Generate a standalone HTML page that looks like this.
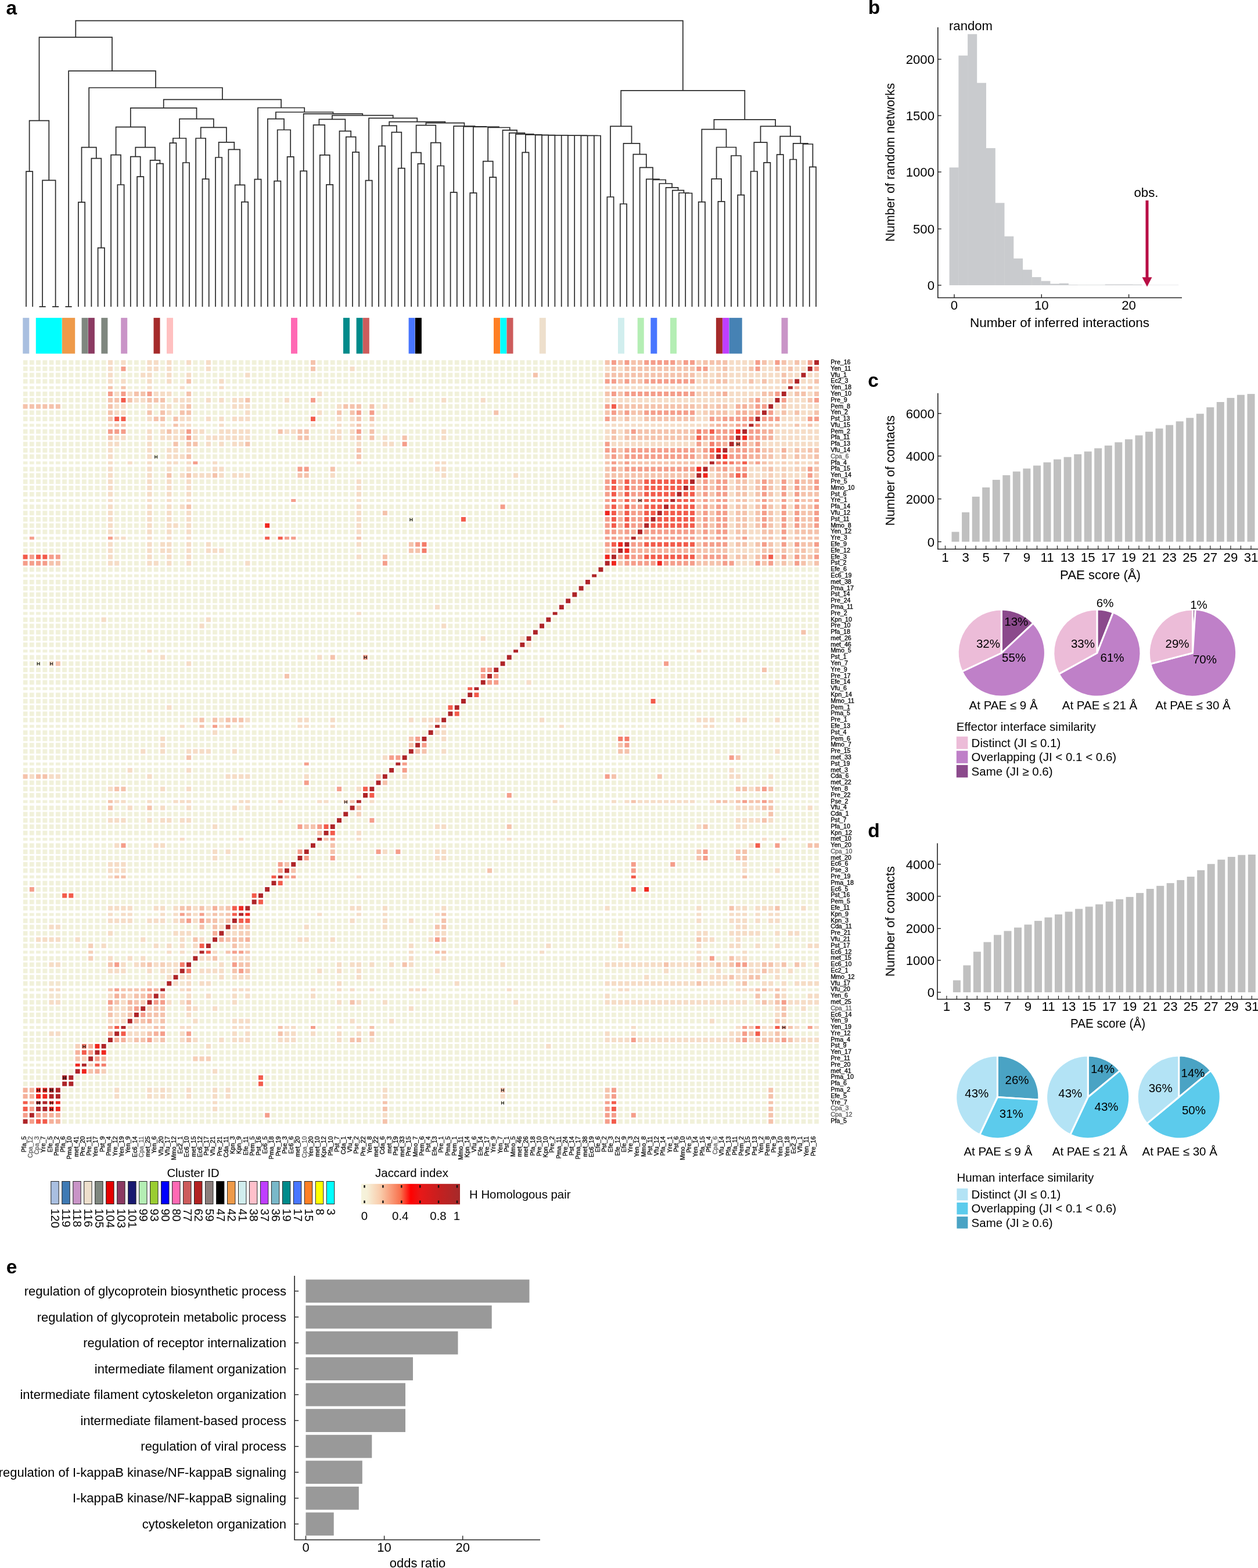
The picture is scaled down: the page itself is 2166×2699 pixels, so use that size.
<!DOCTYPE html>
<html><head><meta charset="utf-8"><title>Figure</title>
<style>html,body{margin:0;padding:0;background:#fff}svg{display:block}</style></head>
<body><svg width="2166" height="2699" viewBox="0 0 2166 2699" font-family="Liberation Sans, Arial, sans-serif"><path d="M45.0 527.9V295.1H56.2V527.9M67.5 527.9V527.9H78.7V527.9M90.0 527.9V527.9H101.2V527.9M73.1 527.9V310.3H95.6V527.9M50.6 295.1V207.7H84.3V310.3M112.4 527.9V527.9H123.7V527.9M134.9 527.9V348.2H146.2V527.9M168.6 527.9V426.6H179.9V527.9M157.4 527.9V272.6H174.3V426.6M140.5 348.2V253.6H165.8V272.6M202.4 527.9V318.0H213.6V527.9M191.1 527.9V266.6H208.0V318.0M236.1 527.9V304.2H247.3V527.9M224.8 527.9V269.7H241.7V304.2M269.8 527.9V281.6H281.0V527.9M258.6 527.9V275.9H275.4V281.6M233.3 269.7V253.6H267.0V275.9M199.6 266.6V218.6H250.1V253.6M292.3 527.9V246.1H303.5V527.9M314.8 527.9V280.0H326.0V527.9M297.9 246.1V238.0H320.4V280.0M348.5 527.9V308.2H359.7V527.9M337.2 527.9V238.0H354.1V308.2M371.0 527.9V271.0H382.2V527.9M415.9 527.9V347.6H427.2V527.9M404.7 527.9V318.4H421.5V347.6M393.4 527.9V257.3H413.1V318.4M376.6 271.0V244.9H403.3V257.3M345.7 238.0V219.4H389.9V244.9M309.1 238.0V204.7H367.8V219.4M224.8 218.6V185.8H338.5V204.7M438.4 527.9V308.6H449.6V527.9M472.1 527.9V311.6H483.4V527.9M494.6 527.9V269.8H505.8V527.9M477.7 311.6V223.5H500.2V269.8M460.9 527.9V204.7H489.0V223.5M517.1 527.9V294.4H528.3V527.9M562.0 527.9V317.9H573.3V527.9M550.8 527.9V266.8H567.7V317.9M539.6 527.9V215.1H559.2V266.8M607.0 527.9V261.8H618.2V527.9M595.8 527.9V235.6H612.6V261.8M584.5 527.9V225.6H604.2V235.6M549.4 215.1V205.4H594.4V225.6M629.5 527.9V310.6H640.7V527.9M652.0 527.9V251.3H663.2V527.9M685.7 527.9V289.7H696.9V527.9M674.4 527.9V227.6H691.3V289.7M657.6 251.3V216.4H682.9V227.6M719.4 527.9V281.9H730.6V527.9M708.2 527.9V262.7H725.0V281.9M753.1 527.9V285.5H764.4V527.9M741.9 527.9V245.6H758.7V285.5M716.6 262.7V215.6H750.3V245.6M775.6 527.9V331.2H786.8V527.9M809.3 527.9V332.1H820.6V527.9M843.0 527.9V305.2H854.3V527.9M831.8 527.9V277.6H848.7V305.2M899.2 527.9V262.4H910.5V527.9M1022.9 527.9V233.5H1034.1V527.9M1011.6 527.9V233.4H1028.5V233.5M1000.4 527.9V233.3H1020.1V233.4M989.2 527.9V233.2H1010.2V233.3M977.9 527.9V233.1H999.7V233.2M966.7 527.9V233.0H988.8V233.1M955.4 527.9V232.9H977.7V233.0M944.2 527.9V232.8H966.6V232.9M933.0 527.9V232.6H955.4V232.8M921.7 527.9V232.3H944.2V232.6M904.9 262.4V231.9H932.9V232.3M888.0 527.9V230.9H918.9V231.9M876.8 527.9V228.9H903.5V230.9M865.5 527.9V224.2H890.1V228.9M840.2 277.6V219.5H877.8V224.2M814.9 332.1V218.4H859.0V219.5M798.1 527.9V217.9H837.0V218.4M781.2 331.2V217.2H817.5V217.9M733.4 215.6V211.7H799.4V217.2M670.2 216.4V209.6H766.4V211.7M635.1 310.6V203.4H718.3V209.6M571.9 205.4V198.7H676.7V203.4M522.7 294.4V195.9H624.3V198.7M474.9 204.7V193.0H573.5V195.9M444.0 308.6V185.5H524.2V193.0M281.7 185.8V171.4H484.1V185.5M153.2 253.6V151.0H382.9V171.4M118.1 527.9V122.1H268.0V151.0M67.5 207.7V64.2H193.0V122.1M1045.4 527.9V339.0H1056.6V527.9M1067.8 527.9V351.0H1079.1V527.9M1180.2 527.9V332.5H1191.5V527.9M1169.0 527.9V332.0H1185.9V332.5M1157.8 527.9V327.6H1177.4V332.0M1146.5 527.9V322.8H1167.6V327.6M1135.3 527.9V316.0H1157.1V322.8M1124.0 527.9V309.5H1146.2V316.0M1112.8 527.9V308.3H1135.1V309.5M1101.6 527.9V288.3H1124.0V308.3M1090.3 527.9V265.6H1112.8V288.3M1073.5 351.0V246.8H1101.5V265.6M1051.0 339.0V217.3H1087.5V246.8M1202.7 527.9V347.6H1214.0V527.9M1236.4 527.9V346.9H1247.7V527.9M1225.2 527.9V307.8H1242.1V346.9M1270.2 527.9V335.6H1281.4V527.9M1258.9 527.9V268.0H1275.8V335.6M1233.6 307.8V253.5H1267.4V268.0M1208.3 347.6V222.7H1250.5V253.5M1292.6 527.9V295.0H1303.9V527.9M1315.1 527.9V279.8H1326.4V527.9M1298.3 295.0V245.1H1320.7V279.8M1337.6 527.9V266.1H1348.8V527.9M1360.1 527.9V274.5H1371.3V527.9M1393.8 527.9V287.3H1405.0V527.9M1382.6 527.9V248.0H1399.4V287.3M1365.7 274.5V246.8H1391.0V248.0M1343.2 266.1V234.7H1378.3V246.8M1309.5 245.1V217.3H1360.8V234.7M1229.4 222.7V205.8H1335.1V217.3M1069.2 217.3V155.8H1282.3V205.8M130.3 64.2V35.7H1175.8V155.8" fill="none" stroke="#2a2a2a" stroke-width="1.7"/><rect x="39.3" y="547.1" width="11.0" height="61.6" fill="#a9bfe0"/><rect x="61.8" y="547.1" width="44.8" height="61.6" fill="#00ffff"/><rect x="106.9" y="547.1" width="22.3" height="61.6" fill="#ee9a49"/><rect x="140.6" y="547.1" width="11.0" height="61.6" fill="#7f877f"/><rect x="151.9" y="547.1" width="11.0" height="61.6" fill="#8b3a62"/><rect x="174.4" y="547.1" width="11.0" height="61.6" fill="#7f877f"/><rect x="208.2" y="547.1" width="11.0" height="61.6" fill="#c994c7"/><rect x="264.5" y="547.1" width="11.0" height="61.6" fill="#a52a2a"/><rect x="287.0" y="547.1" width="11.0" height="61.6" fill="#ffc0c0"/><rect x="501.0" y="547.1" width="11.0" height="61.6" fill="#ff69b4"/><rect x="591.0" y="547.1" width="11.0" height="61.6" fill="#008b8b"/><rect x="613.6" y="547.1" width="11.0" height="61.6" fill="#008b8b"/><rect x="624.8" y="547.1" width="11.0" height="61.6" fill="#cd5c5c"/><rect x="703.6" y="547.1" width="11.0" height="61.6" fill="#4876ff"/><rect x="714.9" y="547.1" width="11.0" height="61.6" fill="#000000"/><rect x="850.0" y="547.1" width="11.0" height="61.6" fill="#ff7f24"/><rect x="861.3" y="547.1" width="11.0" height="61.6" fill="#00ffff"/><rect x="872.5" y="547.1" width="11.0" height="61.6" fill="#cd5c5c"/><rect x="928.8" y="547.1" width="11.0" height="61.6" fill="#eedfcc"/><rect x="1064.0" y="547.1" width="11.0" height="61.6" fill="#d1eeee"/><rect x="1097.7" y="547.1" width="11.0" height="61.6" fill="#b4eeb4"/><rect x="1120.3" y="547.1" width="11.0" height="61.6" fill="#4876ff"/><rect x="1154.0" y="547.1" width="11.0" height="61.6" fill="#b4eeb4"/><rect x="1232.9" y="547.1" width="11.0" height="61.6" fill="#a52a2a"/><rect x="1244.1" y="547.1" width="11.0" height="61.6" fill="#bf3eff"/><rect x="1255.4" y="547.1" width="22.3" height="61.6" fill="#4682b4"/><rect x="1345.5" y="547.1" width="11.0" height="61.6" fill="#c994c7"/><defs><pattern id="hp" x="39.60" y="0" width="11.26" height="2699" patternUnits="userSpaceOnUse"><rect width="7.9" height="2699" fill="#f1f1da"/></pattern></defs><rect x="39.60" y="620.10" width="1370.4" height="7.8" fill="url(#hp)"/><rect x="39.60" y="630.90" width="1370.4" height="7.8" fill="url(#hp)"/><rect x="39.60" y="641.69" width="1370.4" height="7.8" fill="url(#hp)"/><rect x="39.60" y="652.49" width="1370.4" height="7.8" fill="url(#hp)"/><rect x="39.60" y="664.69" width="1370.4" height="5.0" fill="url(#hp)"/><rect x="39.60" y="674.09" width="1370.4" height="7.8" fill="url(#hp)"/><rect x="39.60" y="684.88" width="1370.4" height="7.8" fill="url(#hp)"/><rect x="39.60" y="695.68" width="1370.4" height="7.8" fill="url(#hp)"/><rect x="39.60" y="706.48" width="1370.4" height="7.8" fill="url(#hp)"/><rect x="39.60" y="717.27" width="1370.4" height="7.8" fill="url(#hp)"/><rect x="39.60" y="729.47" width="1370.4" height="5.0" fill="url(#hp)"/><rect x="39.60" y="738.87" width="1370.4" height="7.8" fill="url(#hp)"/><rect x="39.60" y="749.66" width="1370.4" height="7.8" fill="url(#hp)"/><rect x="39.60" y="760.46" width="1370.4" height="7.8" fill="url(#hp)"/><rect x="39.60" y="771.26" width="1370.4" height="7.8" fill="url(#hp)"/><rect x="39.60" y="782.06" width="1370.4" height="7.8" fill="url(#hp)"/><rect x="39.60" y="794.25" width="1370.4" height="5.0" fill="url(#hp)"/><rect x="39.60" y="803.65" width="1370.4" height="7.8" fill="url(#hp)"/><rect x="39.60" y="814.45" width="1370.4" height="7.8" fill="url(#hp)"/><rect x="39.60" y="825.24" width="1370.4" height="7.8" fill="url(#hp)"/><rect x="39.60" y="836.04" width="1370.4" height="7.8" fill="url(#hp)"/><rect x="39.60" y="846.84" width="1370.4" height="7.8" fill="url(#hp)"/><rect x="39.60" y="859.03" width="1370.4" height="5.0" fill="url(#hp)"/><rect x="39.60" y="868.43" width="1370.4" height="7.8" fill="url(#hp)"/><rect x="39.60" y="879.23" width="1370.4" height="7.8" fill="url(#hp)"/><rect x="39.60" y="890.02" width="1370.4" height="7.8" fill="url(#hp)"/><rect x="39.60" y="900.82" width="1370.4" height="7.8" fill="url(#hp)"/><rect x="39.60" y="911.62" width="1370.4" height="7.8" fill="url(#hp)"/><rect x="39.60" y="923.82" width="1370.4" height="5.0" fill="url(#hp)"/><rect x="39.60" y="933.21" width="1370.4" height="7.8" fill="url(#hp)"/><rect x="39.60" y="944.01" width="1370.4" height="7.8" fill="url(#hp)"/><rect x="39.60" y="954.81" width="1370.4" height="7.8" fill="url(#hp)"/><rect x="39.60" y="965.60" width="1370.4" height="7.8" fill="url(#hp)"/><rect x="39.60" y="976.40" width="1370.4" height="7.8" fill="url(#hp)"/><rect x="39.60" y="988.60" width="1370.4" height="5.0" fill="url(#hp)"/><rect x="39.60" y="998.00" width="1370.4" height="7.8" fill="url(#hp)"/><rect x="39.60" y="1008.79" width="1370.4" height="7.8" fill="url(#hp)"/><rect x="39.60" y="1019.59" width="1370.4" height="7.8" fill="url(#hp)"/><rect x="39.60" y="1030.39" width="1370.4" height="7.8" fill="url(#hp)"/><rect x="39.60" y="1041.18" width="1370.4" height="7.8" fill="url(#hp)"/><rect x="39.60" y="1053.38" width="1370.4" height="5.0" fill="url(#hp)"/><rect x="39.60" y="1062.78" width="1370.4" height="7.8" fill="url(#hp)"/><rect x="39.60" y="1073.57" width="1370.4" height="7.8" fill="url(#hp)"/><rect x="39.60" y="1084.37" width="1370.4" height="7.8" fill="url(#hp)"/><rect x="39.60" y="1095.17" width="1370.4" height="7.8" fill="url(#hp)"/><rect x="39.60" y="1105.96" width="1370.4" height="7.8" fill="url(#hp)"/><rect x="39.60" y="1118.16" width="1370.4" height="5.0" fill="url(#hp)"/><rect x="39.60" y="1127.56" width="1370.4" height="7.8" fill="url(#hp)"/><rect x="39.60" y="1138.36" width="1370.4" height="7.8" fill="url(#hp)"/><rect x="39.60" y="1149.15" width="1370.4" height="7.8" fill="url(#hp)"/><rect x="39.60" y="1159.95" width="1370.4" height="7.8" fill="url(#hp)"/><rect x="39.60" y="1170.75" width="1370.4" height="7.8" fill="url(#hp)"/><rect x="39.60" y="1182.94" width="1370.4" height="5.0" fill="url(#hp)"/><rect x="39.60" y="1192.34" width="1370.4" height="7.8" fill="url(#hp)"/><rect x="39.60" y="1203.14" width="1370.4" height="7.8" fill="url(#hp)"/><rect x="39.60" y="1213.93" width="1370.4" height="7.8" fill="url(#hp)"/><rect x="39.60" y="1224.73" width="1370.4" height="7.8" fill="url(#hp)"/><rect x="39.60" y="1235.53" width="1370.4" height="7.8" fill="url(#hp)"/><rect x="39.60" y="1247.73" width="1370.4" height="5.0" fill="url(#hp)"/><rect x="39.60" y="1257.12" width="1370.4" height="7.8" fill="url(#hp)"/><rect x="39.60" y="1267.92" width="1370.4" height="7.8" fill="url(#hp)"/><rect x="39.60" y="1278.72" width="1370.4" height="7.8" fill="url(#hp)"/><rect x="39.60" y="1289.51" width="1370.4" height="7.8" fill="url(#hp)"/><rect x="39.60" y="1300.31" width="1370.4" height="7.8" fill="url(#hp)"/><rect x="39.60" y="1312.51" width="1370.4" height="5.0" fill="url(#hp)"/><rect x="39.60" y="1321.90" width="1370.4" height="7.8" fill="url(#hp)"/><rect x="39.60" y="1332.70" width="1370.4" height="7.8" fill="url(#hp)"/><rect x="39.60" y="1343.50" width="1370.4" height="7.8" fill="url(#hp)"/><rect x="39.60" y="1354.30" width="1370.4" height="7.8" fill="url(#hp)"/><rect x="39.60" y="1365.09" width="1370.4" height="7.8" fill="url(#hp)"/><rect x="39.60" y="1377.29" width="1370.4" height="5.0" fill="url(#hp)"/><rect x="39.60" y="1386.69" width="1370.4" height="7.8" fill="url(#hp)"/><rect x="39.60" y="1397.48" width="1370.4" height="7.8" fill="url(#hp)"/><rect x="39.60" y="1408.28" width="1370.4" height="7.8" fill="url(#hp)"/><rect x="39.60" y="1419.08" width="1370.4" height="7.8" fill="url(#hp)"/><rect x="39.60" y="1429.88" width="1370.4" height="7.8" fill="url(#hp)"/><rect x="39.60" y="1442.07" width="1370.4" height="5.0" fill="url(#hp)"/><rect x="39.60" y="1451.47" width="1370.4" height="7.8" fill="url(#hp)"/><rect x="39.60" y="1462.27" width="1370.4" height="7.8" fill="url(#hp)"/><rect x="39.60" y="1473.06" width="1370.4" height="7.8" fill="url(#hp)"/><rect x="39.60" y="1483.86" width="1370.4" height="7.8" fill="url(#hp)"/><rect x="39.60" y="1494.66" width="1370.4" height="7.8" fill="url(#hp)"/><rect x="39.60" y="1506.85" width="1370.4" height="5.0" fill="url(#hp)"/><rect x="39.60" y="1516.25" width="1370.4" height="7.8" fill="url(#hp)"/><rect x="39.60" y="1527.05" width="1370.4" height="7.8" fill="url(#hp)"/><rect x="39.60" y="1537.84" width="1370.4" height="7.8" fill="url(#hp)"/><rect x="39.60" y="1548.64" width="1370.4" height="7.8" fill="url(#hp)"/><rect x="39.60" y="1559.44" width="1370.4" height="7.8" fill="url(#hp)"/><rect x="39.60" y="1571.64" width="1370.4" height="5.0" fill="url(#hp)"/><rect x="39.60" y="1581.03" width="1370.4" height="7.8" fill="url(#hp)"/><rect x="39.60" y="1591.83" width="1370.4" height="7.8" fill="url(#hp)"/><rect x="39.60" y="1602.63" width="1370.4" height="7.8" fill="url(#hp)"/><rect x="39.60" y="1613.42" width="1370.4" height="7.8" fill="url(#hp)"/><rect x="39.60" y="1624.22" width="1370.4" height="7.8" fill="url(#hp)"/><rect x="39.60" y="1636.42" width="1370.4" height="5.0" fill="url(#hp)"/><rect x="39.60" y="1645.82" width="1370.4" height="7.8" fill="url(#hp)"/><rect x="39.60" y="1656.61" width="1370.4" height="7.8" fill="url(#hp)"/><rect x="39.60" y="1667.41" width="1370.4" height="7.8" fill="url(#hp)"/><rect x="39.60" y="1678.21" width="1370.4" height="7.8" fill="url(#hp)"/><rect x="39.60" y="1689.00" width="1370.4" height="7.8" fill="url(#hp)"/><rect x="39.60" y="1701.20" width="1370.4" height="5.0" fill="url(#hp)"/><rect x="39.60" y="1710.60" width="1370.4" height="7.8" fill="url(#hp)"/><rect x="39.60" y="1721.39" width="1370.4" height="7.8" fill="url(#hp)"/><rect x="39.60" y="1732.19" width="1370.4" height="7.8" fill="url(#hp)"/><rect x="39.60" y="1742.99" width="1370.4" height="7.8" fill="url(#hp)"/><rect x="39.60" y="1753.79" width="1370.4" height="7.8" fill="url(#hp)"/><rect x="39.60" y="1765.98" width="1370.4" height="5.0" fill="url(#hp)"/><rect x="39.60" y="1775.38" width="1370.4" height="7.8" fill="url(#hp)"/><rect x="39.60" y="1786.18" width="1370.4" height="7.8" fill="url(#hp)"/><rect x="39.60" y="1796.97" width="1370.4" height="7.8" fill="url(#hp)"/><rect x="39.60" y="1807.77" width="1370.4" height="7.8" fill="url(#hp)"/><rect x="39.60" y="1818.57" width="1370.4" height="7.8" fill="url(#hp)"/><rect x="39.60" y="1830.76" width="1370.4" height="5.0" fill="url(#hp)"/><rect x="39.60" y="1840.16" width="1370.4" height="7.8" fill="url(#hp)"/><rect x="39.60" y="1850.96" width="1370.4" height="7.8" fill="url(#hp)"/><rect x="39.60" y="1861.75" width="1370.4" height="7.8" fill="url(#hp)"/><rect x="39.60" y="1872.55" width="1370.4" height="7.8" fill="url(#hp)"/><rect x="39.60" y="1883.35" width="1370.4" height="7.8" fill="url(#hp)"/><rect x="39.60" y="1895.55" width="1370.4" height="5.0" fill="url(#hp)"/><rect x="39.60" y="1904.94" width="1370.4" height="7.8" fill="url(#hp)"/><rect x="39.60" y="1915.74" width="1370.4" height="7.8" fill="url(#hp)"/><rect x="39.60" y="1926.54" width="1370.4" height="7.8" fill="url(#hp)"/><path fill="#f6dcc6" d="M186.0 620.1h7.9v7.8h-7.9zM208.5 620.1h7.9v7.8h-7.9zM253.5 620.1h7.9v7.8h-7.9zM264.8 620.1h7.9v7.8h-7.9zM287.3 620.1h7.9v7.8h-7.9zM321.1 620.1h7.9v7.8h-7.9zM354.9 620.1h7.9v7.8h-7.9zM1255.7 620.1h7.9v7.8h-7.9zM1266.9 620.1h7.9v7.8h-7.9zM1278.2 620.1h7.9v7.8h-7.9zM1289.5 620.1h7.9v7.8h-7.9zM1323.2 620.1h7.9v7.8h-7.9zM1357.0 620.1h7.9v7.8h-7.9zM1379.5 620.1h7.9v7.8h-7.9zM186.0 630.9h7.9v7.8h-7.9zM253.5 630.9h7.9v7.8h-7.9zM264.8 630.9h7.9v7.8h-7.9zM287.3 630.9h7.9v7.8h-7.9zM354.9 630.9h7.9v7.8h-7.9zM602.6 630.9h7.9v7.8h-7.9zM1041.7 630.9h7.9v7.8h-7.9zM1064.3 630.9h7.9v7.8h-7.9zM1221.9 630.9h7.9v7.8h-7.9zM1255.7 630.9h7.9v7.8h-7.9zM1266.9 630.9h7.9v7.8h-7.9zM1278.2 630.9h7.9v7.8h-7.9zM1312.0 630.9h7.9v7.8h-7.9zM1323.2 630.9h7.9v7.8h-7.9zM1345.8 630.9h7.9v7.8h-7.9zM1368.3 630.9h7.9v7.8h-7.9zM1379.5 630.9h7.9v7.8h-7.9zM186.0 641.7h7.9v7.8h-7.9zM242.3 641.7h7.9v7.8h-7.9zM253.5 641.7h7.9v7.8h-7.9zM287.3 641.7h7.9v7.8h-7.9zM321.1 641.7h7.9v7.8h-7.9zM422.4 641.7h7.9v7.8h-7.9zM1199.4 641.7h7.9v7.8h-7.9zM1221.9 641.7h7.9v7.8h-7.9zM1255.7 641.7h7.9v7.8h-7.9zM1266.9 641.7h7.9v7.8h-7.9zM1278.2 641.7h7.9v7.8h-7.9zM1289.5 641.7h7.9v7.8h-7.9zM1300.7 641.7h7.9v7.8h-7.9zM1312.0 641.7h7.9v7.8h-7.9zM1323.2 641.7h7.9v7.8h-7.9zM1334.5 641.7h7.9v7.8h-7.9zM1357.0 641.7h7.9v7.8h-7.9zM1368.3 641.7h7.9v7.8h-7.9zM1390.8 641.7h7.9v7.8h-7.9zM1402.1 641.7h7.9v7.8h-7.9zM186.0 652.5h7.9v7.8h-7.9zM208.5 652.5h7.9v7.8h-7.9zM253.5 652.5h7.9v7.8h-7.9zM287.3 652.5h7.9v7.8h-7.9zM377.4 652.5h7.9v7.8h-7.9zM1199.4 652.5h7.9v7.8h-7.9zM1255.7 652.5h7.9v7.8h-7.9zM1266.9 652.5h7.9v7.8h-7.9zM1278.2 652.5h7.9v7.8h-7.9zM1300.7 652.5h7.9v7.8h-7.9zM1323.2 652.5h7.9v7.8h-7.9zM1334.5 652.5h7.9v7.8h-7.9zM1379.5 652.5h7.9v7.8h-7.9zM1390.8 652.5h7.9v7.8h-7.9zM253.5 664.7h7.9v5.0h-7.9zM309.8 664.7h7.9v5.0h-7.9zM377.4 664.7h7.9v5.0h-7.9zM1041.7 664.7h7.9v5.0h-7.9zM1053.0 664.7h7.9v5.0h-7.9zM1064.3 664.7h7.9v5.0h-7.9zM1075.5 664.7h7.9v5.0h-7.9zM1086.8 664.7h7.9v5.0h-7.9zM1098.0 664.7h7.9v5.0h-7.9zM1109.3 664.7h7.9v5.0h-7.9zM1120.6 664.7h7.9v5.0h-7.9zM1131.8 664.7h7.9v5.0h-7.9zM1143.1 664.7h7.9v5.0h-7.9zM1154.3 664.7h7.9v5.0h-7.9zM1165.6 664.7h7.9v5.0h-7.9zM1176.9 664.7h7.9v5.0h-7.9zM1188.1 664.7h7.9v5.0h-7.9zM1199.4 664.7h7.9v5.0h-7.9zM1210.6 664.7h7.9v5.0h-7.9zM1221.9 664.7h7.9v5.0h-7.9zM1233.2 664.7h7.9v5.0h-7.9zM1244.4 664.7h7.9v5.0h-7.9zM1255.7 664.7h7.9v5.0h-7.9zM1266.9 664.7h7.9v5.0h-7.9zM1278.2 664.7h7.9v5.0h-7.9zM1289.5 664.7h7.9v5.0h-7.9zM1300.7 664.7h7.9v5.0h-7.9zM1312.0 664.7h7.9v5.0h-7.9zM1323.2 664.7h7.9v5.0h-7.9zM1334.5 664.7h7.9v5.0h-7.9zM1345.8 664.7h7.9v5.0h-7.9zM1379.5 664.7h7.9v5.0h-7.9zM1402.1 664.7h7.9v5.0h-7.9zM197.2 674.1h7.9v7.8h-7.9zM219.8 674.1h7.9v7.8h-7.9zM264.8 674.1h7.9v7.8h-7.9zM276.1 674.1h7.9v7.8h-7.9zM287.3 674.1h7.9v7.8h-7.9zM546.3 674.1h7.9v7.8h-7.9zM1255.7 674.1h7.9v7.8h-7.9zM1266.9 674.1h7.9v7.8h-7.9zM1278.2 674.1h7.9v7.8h-7.9zM1289.5 674.1h7.9v7.8h-7.9zM1300.7 674.1h7.9v7.8h-7.9zM1357.0 674.1h7.9v7.8h-7.9zM1390.8 674.1h7.9v7.8h-7.9zM231.0 684.9h7.9v7.8h-7.9zM242.3 684.9h7.9v7.8h-7.9zM298.6 684.9h7.9v7.8h-7.9zM309.8 684.9h7.9v7.8h-7.9zM321.1 684.9h7.9v7.8h-7.9zM354.9 684.9h7.9v7.8h-7.9zM377.4 684.9h7.9v7.8h-7.9zM399.9 684.9h7.9v7.8h-7.9zM411.2 684.9h7.9v7.8h-7.9zM490.0 684.9h7.9v7.8h-7.9zM703.9 684.9h7.9v7.8h-7.9zM760.2 684.9h7.9v7.8h-7.9zM827.8 684.9h7.9v7.8h-7.9zM1041.7 684.9h7.9v7.8h-7.9zM1053.0 684.9h7.9v7.8h-7.9zM1064.3 684.9h7.9v7.8h-7.9zM1075.5 684.9h7.9v7.8h-7.9zM1086.8 684.9h7.9v7.8h-7.9zM1098.0 684.9h7.9v7.8h-7.9zM1109.3 684.9h7.9v7.8h-7.9zM1120.6 684.9h7.9v7.8h-7.9zM1131.8 684.9h7.9v7.8h-7.9zM1143.1 684.9h7.9v7.8h-7.9zM1154.3 684.9h7.9v7.8h-7.9zM1165.6 684.9h7.9v7.8h-7.9zM1176.9 684.9h7.9v7.8h-7.9zM1188.1 684.9h7.9v7.8h-7.9zM1199.4 684.9h7.9v7.8h-7.9zM1210.6 684.9h7.9v7.8h-7.9zM1221.9 684.9h7.9v7.8h-7.9zM1233.2 684.9h7.9v7.8h-7.9zM1244.4 684.9h7.9v7.8h-7.9zM1255.7 684.9h7.9v7.8h-7.9zM1266.9 684.9h7.9v7.8h-7.9zM1278.2 684.9h7.9v7.8h-7.9zM1312.0 684.9h7.9v7.8h-7.9zM1323.2 684.9h7.9v7.8h-7.9zM1357.0 684.9h7.9v7.8h-7.9zM1368.3 684.9h7.9v7.8h-7.9zM1379.5 684.9h7.9v7.8h-7.9zM197.2 695.7h7.9v7.8h-7.9zM208.5 695.7h7.9v7.8h-7.9zM253.5 695.7h7.9v7.8h-7.9zM276.1 695.7h7.9v7.8h-7.9zM287.3 695.7h7.9v7.8h-7.9zM309.8 695.7h7.9v7.8h-7.9zM399.9 695.7h7.9v7.8h-7.9zM411.2 695.7h7.9v7.8h-7.9zM422.4 695.7h7.9v7.8h-7.9zM580.1 695.7h7.9v7.8h-7.9zM658.9 695.7h7.9v7.8h-7.9zM1255.7 695.7h7.9v7.8h-7.9zM1334.5 695.7h7.9v7.8h-7.9zM1357.0 695.7h7.9v7.8h-7.9zM1368.3 695.7h7.9v7.8h-7.9zM1379.5 695.7h7.9v7.8h-7.9zM1390.8 695.7h7.9v7.8h-7.9zM1402.1 695.7h7.9v7.8h-7.9zM197.2 706.5h7.9v7.8h-7.9zM208.5 706.5h7.9v7.8h-7.9zM287.3 706.5h7.9v7.8h-7.9zM422.4 706.5h7.9v7.8h-7.9zM546.3 706.5h7.9v7.8h-7.9zM1199.4 706.5h7.9v7.8h-7.9zM1255.7 706.5h7.9v7.8h-7.9zM1334.5 706.5h7.9v7.8h-7.9zM1357.0 706.5h7.9v7.8h-7.9zM1379.5 706.5h7.9v7.8h-7.9zM1390.8 706.5h7.9v7.8h-7.9zM253.5 717.3h7.9v7.8h-7.9zM309.8 717.3h7.9v7.8h-7.9zM321.1 717.3h7.9v7.8h-7.9zM354.9 717.3h7.9v7.8h-7.9zM377.4 717.3h7.9v7.8h-7.9zM399.9 717.3h7.9v7.8h-7.9zM411.2 717.3h7.9v7.8h-7.9zM422.4 717.3h7.9v7.8h-7.9zM580.1 717.3h7.9v7.8h-7.9zM602.6 717.3h7.9v7.8h-7.9zM1064.3 717.3h7.9v7.8h-7.9zM1086.8 717.3h7.9v7.8h-7.9zM1098.0 717.3h7.9v7.8h-7.9zM1199.4 717.3h7.9v7.8h-7.9zM1210.6 717.3h7.9v7.8h-7.9zM1345.8 717.3h7.9v7.8h-7.9zM1357.0 717.3h7.9v7.8h-7.9zM1368.3 717.3h7.9v7.8h-7.9zM1379.5 717.3h7.9v7.8h-7.9zM186.0 729.5h7.9v5.0h-7.9zM276.1 729.5h7.9v5.0h-7.9zM309.8 729.5h7.9v5.0h-7.9zM321.1 729.5h7.9v5.0h-7.9zM377.4 729.5h7.9v5.0h-7.9zM535.0 729.5h7.9v5.0h-7.9zM580.1 729.5h7.9v5.0h-7.9zM602.6 729.5h7.9v5.0h-7.9zM636.4 729.5h7.9v5.0h-7.9zM1041.7 729.5h7.9v5.0h-7.9zM1053.0 729.5h7.9v5.0h-7.9zM1064.3 729.5h7.9v5.0h-7.9zM1075.5 729.5h7.9v5.0h-7.9zM1086.8 729.5h7.9v5.0h-7.9zM1098.0 729.5h7.9v5.0h-7.9zM1109.3 729.5h7.9v5.0h-7.9zM1120.6 729.5h7.9v5.0h-7.9zM1131.8 729.5h7.9v5.0h-7.9zM1143.1 729.5h7.9v5.0h-7.9zM1154.3 729.5h7.9v5.0h-7.9zM1165.6 729.5h7.9v5.0h-7.9zM1176.9 729.5h7.9v5.0h-7.9zM1188.1 729.5h7.9v5.0h-7.9zM1199.4 729.5h7.9v5.0h-7.9zM1210.6 729.5h7.9v5.0h-7.9zM1345.8 729.5h7.9v5.0h-7.9zM1357.0 729.5h7.9v5.0h-7.9zM1379.5 729.5h7.9v5.0h-7.9zM1402.1 729.5h7.9v5.0h-7.9zM253.5 738.9h7.9v7.8h-7.9zM276.1 738.9h7.9v7.8h-7.9zM298.6 738.9h7.9v7.8h-7.9zM309.8 738.9h7.9v7.8h-7.9zM332.4 738.9h7.9v7.8h-7.9zM343.6 738.9h7.9v7.8h-7.9zM377.4 738.9h7.9v7.8h-7.9zM388.7 738.9h7.9v7.8h-7.9zM399.9 738.9h7.9v7.8h-7.9zM411.2 738.9h7.9v7.8h-7.9zM422.4 738.9h7.9v7.8h-7.9zM490.0 738.9h7.9v7.8h-7.9zM501.3 738.9h7.9v7.8h-7.9zM568.8 738.9h7.9v7.8h-7.9zM580.1 738.9h7.9v7.8h-7.9zM602.6 738.9h7.9v7.8h-7.9zM760.2 738.9h7.9v7.8h-7.9zM1041.7 738.9h7.9v7.8h-7.9zM1064.3 738.9h7.9v7.8h-7.9zM1334.5 738.9h7.9v7.8h-7.9zM1345.8 738.9h7.9v7.8h-7.9zM1357.0 738.9h7.9v7.8h-7.9zM1368.3 738.9h7.9v7.8h-7.9zM1379.5 738.9h7.9v7.8h-7.9zM1390.8 738.9h7.9v7.8h-7.9zM1402.1 738.9h7.9v7.8h-7.9zM197.2 749.7h7.9v7.8h-7.9zM208.5 749.7h7.9v7.8h-7.9zM253.5 749.7h7.9v7.8h-7.9zM276.1 749.7h7.9v7.8h-7.9zM287.3 749.7h7.9v7.8h-7.9zM298.6 749.7h7.9v7.8h-7.9zM309.8 749.7h7.9v7.8h-7.9zM332.4 749.7h7.9v7.8h-7.9zM354.9 749.7h7.9v7.8h-7.9zM366.1 749.7h7.9v7.8h-7.9zM377.4 749.7h7.9v7.8h-7.9zM388.7 749.7h7.9v7.8h-7.9zM399.9 749.7h7.9v7.8h-7.9zM411.2 749.7h7.9v7.8h-7.9zM422.4 749.7h7.9v7.8h-7.9zM568.8 749.7h7.9v7.8h-7.9zM580.1 749.7h7.9v7.8h-7.9zM602.6 749.7h7.9v7.8h-7.9zM658.9 749.7h7.9v7.8h-7.9zM760.2 749.7h7.9v7.8h-7.9zM1041.7 749.7h7.9v7.8h-7.9zM1064.3 749.7h7.9v7.8h-7.9zM1334.5 749.7h7.9v7.8h-7.9zM1345.8 749.7h7.9v7.8h-7.9zM1357.0 749.7h7.9v7.8h-7.9zM1368.3 749.7h7.9v7.8h-7.9zM1379.5 749.7h7.9v7.8h-7.9zM1390.8 749.7h7.9v7.8h-7.9zM1402.1 749.7h7.9v7.8h-7.9zM186.0 760.5h7.9v7.8h-7.9zM197.2 760.5h7.9v7.8h-7.9zM253.5 760.5h7.9v7.8h-7.9zM354.9 760.5h7.9v7.8h-7.9zM377.4 760.5h7.9v7.8h-7.9zM399.9 760.5h7.9v7.8h-7.9zM411.2 760.5h7.9v7.8h-7.9zM613.9 760.5h7.9v7.8h-7.9zM658.9 760.5h7.9v7.8h-7.9zM670.2 760.5h7.9v7.8h-7.9zM1053.0 760.5h7.9v7.8h-7.9zM1064.3 760.5h7.9v7.8h-7.9zM1075.5 760.5h7.9v7.8h-7.9zM1086.8 760.5h7.9v7.8h-7.9zM1098.0 760.5h7.9v7.8h-7.9zM1109.3 760.5h7.9v7.8h-7.9zM1120.6 760.5h7.9v7.8h-7.9zM1131.8 760.5h7.9v7.8h-7.9zM1143.1 760.5h7.9v7.8h-7.9zM1154.3 760.5h7.9v7.8h-7.9zM1165.6 760.5h7.9v7.8h-7.9zM1176.9 760.5h7.9v7.8h-7.9zM1188.1 760.5h7.9v7.8h-7.9zM1312.0 760.5h7.9v7.8h-7.9zM1323.2 760.5h7.9v7.8h-7.9zM1334.5 760.5h7.9v7.8h-7.9zM1345.8 760.5h7.9v7.8h-7.9zM1357.0 760.5h7.9v7.8h-7.9zM1368.3 760.5h7.9v7.8h-7.9zM1379.5 760.5h7.9v7.8h-7.9zM1390.8 760.5h7.9v7.8h-7.9zM1402.1 760.5h7.9v7.8h-7.9zM186.0 771.3h7.9v7.8h-7.9zM253.5 771.3h7.9v7.8h-7.9zM287.3 771.3h7.9v7.8h-7.9zM298.6 771.3h7.9v7.8h-7.9zM321.1 771.3h7.9v7.8h-7.9zM1334.5 771.3h7.9v7.8h-7.9zM1357.0 771.3h7.9v7.8h-7.9zM186.0 782.1h7.9v7.8h-7.9zM253.5 782.1h7.9v7.8h-7.9zM287.3 782.1h7.9v7.8h-7.9zM298.6 782.1h7.9v7.8h-7.9zM309.8 782.1h7.9v7.8h-7.9zM1334.5 782.1h7.9v7.8h-7.9zM1357.0 782.1h7.9v7.8h-7.9zM186.0 794.3h7.9v5.0h-7.9zM219.8 794.3h7.9v5.0h-7.9zM253.5 794.3h7.9v5.0h-7.9zM287.3 794.3h7.9v5.0h-7.9zM298.6 794.3h7.9v5.0h-7.9zM321.1 794.3h7.9v5.0h-7.9zM366.1 794.3h7.9v5.0h-7.9zM613.9 794.3h7.9v5.0h-7.9zM749.0 794.3h7.9v5.0h-7.9zM760.2 794.3h7.9v5.0h-7.9zM1199.4 794.3h7.9v5.0h-7.9zM1334.5 794.3h7.9v5.0h-7.9zM1357.0 794.3h7.9v5.0h-7.9zM1379.5 794.3h7.9v5.0h-7.9zM1390.8 794.3h7.9v5.0h-7.9zM186.0 803.6h7.9v7.8h-7.9zM253.5 803.6h7.9v7.8h-7.9zM287.3 803.6h7.9v7.8h-7.9zM321.1 803.6h7.9v7.8h-7.9zM366.1 803.6h7.9v7.8h-7.9zM377.4 803.6h7.9v7.8h-7.9zM749.0 803.6h7.9v7.8h-7.9zM760.2 803.6h7.9v7.8h-7.9zM1289.5 803.6h7.9v7.8h-7.9zM1300.7 803.6h7.9v7.8h-7.9zM1334.5 803.6h7.9v7.8h-7.9zM1357.0 803.6h7.9v7.8h-7.9zM186.0 814.4h7.9v7.8h-7.9zM253.5 814.4h7.9v7.8h-7.9zM309.8 814.4h7.9v7.8h-7.9zM332.4 814.4h7.9v7.8h-7.9zM343.6 814.4h7.9v7.8h-7.9zM354.9 814.4h7.9v7.8h-7.9zM377.4 814.4h7.9v7.8h-7.9zM399.9 814.4h7.9v7.8h-7.9zM411.2 814.4h7.9v7.8h-7.9zM422.4 814.4h7.9v7.8h-7.9zM568.8 814.4h7.9v7.8h-7.9zM760.2 814.4h7.9v7.8h-7.9zM884.1 814.4h7.9v7.8h-7.9zM1221.9 814.4h7.9v7.8h-7.9zM1289.5 814.4h7.9v7.8h-7.9zM1300.7 814.4h7.9v7.8h-7.9zM1312.0 814.4h7.9v7.8h-7.9zM1334.5 814.4h7.9v7.8h-7.9zM1357.0 814.4h7.9v7.8h-7.9zM1368.3 814.4h7.9v7.8h-7.9zM1379.5 814.4h7.9v7.8h-7.9zM186.0 825.2h7.9v7.8h-7.9zM253.5 825.2h7.9v7.8h-7.9zM287.3 825.2h7.9v7.8h-7.9zM321.1 825.2h7.9v7.8h-7.9zM613.9 825.2h7.9v7.8h-7.9zM1255.7 825.2h7.9v7.8h-7.9zM1289.5 825.2h7.9v7.8h-7.9zM1334.5 825.2h7.9v7.8h-7.9zM1357.0 825.2h7.9v7.8h-7.9zM186.0 836.0h7.9v7.8h-7.9zM253.5 836.0h7.9v7.8h-7.9zM287.3 836.0h7.9v7.8h-7.9zM321.1 836.0h7.9v7.8h-7.9zM613.9 836.0h7.9v7.8h-7.9zM1255.7 836.0h7.9v7.8h-7.9zM1289.5 836.0h7.9v7.8h-7.9zM1334.5 836.0h7.9v7.8h-7.9zM1357.0 836.0h7.9v7.8h-7.9zM186.0 846.8h7.9v7.8h-7.9zM253.5 846.8h7.9v7.8h-7.9zM287.3 846.8h7.9v7.8h-7.9zM321.1 846.8h7.9v7.8h-7.9zM613.9 846.8h7.9v7.8h-7.9zM1255.7 846.8h7.9v7.8h-7.9zM1289.5 846.8h7.9v7.8h-7.9zM1334.5 846.8h7.9v7.8h-7.9zM1357.0 846.8h7.9v7.8h-7.9zM186.0 859.0h7.9v5.0h-7.9zM253.5 859.0h7.9v5.0h-7.9zM287.3 859.0h7.9v5.0h-7.9zM321.1 859.0h7.9v5.0h-7.9zM613.9 859.0h7.9v5.0h-7.9zM1255.7 859.0h7.9v5.0h-7.9zM1289.5 859.0h7.9v5.0h-7.9zM1334.5 859.0h7.9v5.0h-7.9zM1357.0 859.0h7.9v5.0h-7.9zM186.0 868.4h7.9v7.8h-7.9zM253.5 868.4h7.9v7.8h-7.9zM287.3 868.4h7.9v7.8h-7.9zM309.8 868.4h7.9v7.8h-7.9zM613.9 868.4h7.9v7.8h-7.9zM1255.7 868.4h7.9v7.8h-7.9zM1289.5 868.4h7.9v7.8h-7.9zM1334.5 868.4h7.9v7.8h-7.9zM1357.0 868.4h7.9v7.8h-7.9zM186.0 879.2h7.9v7.8h-7.9zM253.5 879.2h7.9v7.8h-7.9zM287.3 879.2h7.9v7.8h-7.9zM321.1 879.2h7.9v7.8h-7.9zM613.9 879.2h7.9v7.8h-7.9zM1255.7 879.2h7.9v7.8h-7.9zM1289.5 879.2h7.9v7.8h-7.9zM1334.5 879.2h7.9v7.8h-7.9zM1357.0 879.2h7.9v7.8h-7.9zM186.0 890.0h7.9v7.8h-7.9zM253.5 890.0h7.9v7.8h-7.9zM287.3 890.0h7.9v7.8h-7.9zM321.1 890.0h7.9v7.8h-7.9zM613.9 890.0h7.9v7.8h-7.9zM1255.7 890.0h7.9v7.8h-7.9zM1289.5 890.0h7.9v7.8h-7.9zM1334.5 890.0h7.9v7.8h-7.9zM1357.0 890.0h7.9v7.8h-7.9zM186.0 900.8h7.9v7.8h-7.9zM253.5 900.8h7.9v7.8h-7.9zM287.3 900.8h7.9v7.8h-7.9zM298.6 900.8h7.9v7.8h-7.9zM321.1 900.8h7.9v7.8h-7.9zM613.9 900.8h7.9v7.8h-7.9zM1255.7 900.8h7.9v7.8h-7.9zM1289.5 900.8h7.9v7.8h-7.9zM1334.5 900.8h7.9v7.8h-7.9zM1357.0 900.8h7.9v7.8h-7.9zM186.0 911.6h7.9v7.8h-7.9zM253.5 911.6h7.9v7.8h-7.9zM287.3 911.6h7.9v7.8h-7.9zM321.1 911.6h7.9v7.8h-7.9zM613.9 911.6h7.9v7.8h-7.9zM1255.7 911.6h7.9v7.8h-7.9zM1289.5 911.6h7.9v7.8h-7.9zM1300.7 911.6h7.9v7.8h-7.9zM1334.5 911.6h7.9v7.8h-7.9zM1357.0 911.6h7.9v7.8h-7.9zM197.2 923.8h7.9v5.0h-7.9zM208.5 923.8h7.9v5.0h-7.9zM253.5 923.8h7.9v5.0h-7.9zM287.3 923.8h7.9v5.0h-7.9zM321.1 923.8h7.9v5.0h-7.9zM1255.7 923.8h7.9v5.0h-7.9zM1289.5 923.8h7.9v5.0h-7.9zM1300.7 923.8h7.9v5.0h-7.9zM1334.5 923.8h7.9v5.0h-7.9zM1357.0 923.8h7.9v5.0h-7.9zM186.0 933.2h7.9v7.8h-7.9zM253.5 933.2h7.9v7.8h-7.9zM276.1 933.2h7.9v7.8h-7.9zM287.3 933.2h7.9v7.8h-7.9zM321.1 933.2h7.9v7.8h-7.9zM354.9 933.2h7.9v7.8h-7.9zM613.9 933.2h7.9v7.8h-7.9zM1255.7 933.2h7.9v7.8h-7.9zM1289.5 933.2h7.9v7.8h-7.9zM1334.5 933.2h7.9v7.8h-7.9zM1357.0 933.2h7.9v7.8h-7.9zM186.0 944.0h7.9v7.8h-7.9zM253.5 944.0h7.9v7.8h-7.9zM276.1 944.0h7.9v7.8h-7.9zM287.3 944.0h7.9v7.8h-7.9zM321.1 944.0h7.9v7.8h-7.9zM354.9 944.0h7.9v7.8h-7.9zM366.1 944.0h7.9v7.8h-7.9zM377.4 944.0h7.9v7.8h-7.9zM1255.7 944.0h7.9v7.8h-7.9zM1266.9 944.0h7.9v7.8h-7.9zM1278.2 944.0h7.9v7.8h-7.9zM1289.5 944.0h7.9v7.8h-7.9zM1300.7 944.0h7.9v7.8h-7.9zM1334.5 944.0h7.9v7.8h-7.9zM1357.0 944.0h7.9v7.8h-7.9zM1390.8 944.0h7.9v7.8h-7.9zM186.0 954.8h7.9v7.8h-7.9zM253.5 954.8h7.9v7.8h-7.9zM287.3 954.8h7.9v7.8h-7.9zM321.1 954.8h7.9v7.8h-7.9zM613.9 954.8h7.9v7.8h-7.9zM1255.7 954.8h7.9v7.8h-7.9zM1289.5 954.8h7.9v7.8h-7.9zM1334.5 954.8h7.9v7.8h-7.9zM1357.0 954.8h7.9v7.8h-7.9zM186.0 965.6h7.9v7.8h-7.9zM197.2 965.6h7.9v7.8h-7.9zM253.5 965.6h7.9v7.8h-7.9zM264.8 965.6h7.9v7.8h-7.9zM287.3 965.6h7.9v7.8h-7.9zM321.1 965.6h7.9v7.8h-7.9zM422.4 965.6h7.9v7.8h-7.9zM1266.9 965.6h7.9v7.8h-7.9zM1278.2 965.6h7.9v7.8h-7.9zM1289.5 965.6h7.9v7.8h-7.9zM1334.5 965.6h7.9v7.8h-7.9zM1357.0 965.6h7.9v7.8h-7.9zM1390.8 965.6h7.9v7.8h-7.9zM749.0 1041.2h7.9v7.8h-7.9zM613.9 1053.4h7.9v5.0h-7.9zM174.7 1062.8h7.9v7.8h-7.9zM354.9 1062.8h7.9v7.8h-7.9zM343.6 1073.6h7.9v7.8h-7.9zM760.2 1073.6h7.9v7.8h-7.9zM827.8 1095.2h7.9v7.8h-7.9zM895.4 1095.2h7.9v7.8h-7.9zM906.6 1106.0h7.9v7.8h-7.9zM253.5 1118.2h7.9v5.0h-7.9zM1199.4 1118.2h7.9v5.0h-7.9zM276.1 1127.6h7.9v7.8h-7.9zM546.3 1127.6h7.9v7.8h-7.9zM84.6 1138.4h7.9v7.8h-7.9zM321.1 1138.4h7.9v7.8h-7.9zM906.6 1170.7h7.9v7.8h-7.9zM1334.5 1170.7h7.9v7.8h-7.9zM287.3 1213.9h7.9v7.8h-7.9zM332.4 1235.5h7.9v7.8h-7.9zM377.4 1235.5h7.9v7.8h-7.9zM422.4 1235.5h7.9v7.8h-7.9zM512.5 1235.5h7.9v7.8h-7.9zM523.8 1235.5h7.9v7.8h-7.9zM568.8 1235.5h7.9v7.8h-7.9zM703.9 1235.5h7.9v7.8h-7.9zM726.5 1235.5h7.9v7.8h-7.9zM737.7 1235.5h7.9v7.8h-7.9zM929.1 1235.5h7.9v7.8h-7.9zM1199.4 1235.5h7.9v7.8h-7.9zM1210.6 1235.5h7.9v7.8h-7.9zM1221.9 1235.5h7.9v7.8h-7.9zM1266.9 1235.5h7.9v7.8h-7.9zM1278.2 1235.5h7.9v7.8h-7.9zM1334.5 1235.5h7.9v7.8h-7.9zM309.8 1247.7h7.9v5.0h-7.9zM377.4 1247.7h7.9v5.0h-7.9zM411.2 1247.7h7.9v5.0h-7.9zM512.5 1247.7h7.9v5.0h-7.9zM523.8 1247.7h7.9v5.0h-7.9zM568.8 1247.7h7.9v5.0h-7.9zM737.7 1247.7h7.9v5.0h-7.9zM962.9 1247.7h7.9v5.0h-7.9zM1210.6 1247.7h7.9v5.0h-7.9zM1221.9 1247.7h7.9v5.0h-7.9zM366.1 1257.1h7.9v7.8h-7.9zM749.0 1257.1h7.9v7.8h-7.9zM760.2 1257.1h7.9v7.8h-7.9zM276.1 1267.9h7.9v7.8h-7.9zM760.2 1267.9h7.9v7.8h-7.9zM276.1 1278.7h7.9v7.8h-7.9zM242.3 1289.5h7.9v7.8h-7.9zM276.1 1289.5h7.9v7.8h-7.9zM321.1 1289.5h7.9v7.8h-7.9zM332.4 1289.5h7.9v7.8h-7.9zM343.6 1289.5h7.9v7.8h-7.9zM354.9 1289.5h7.9v7.8h-7.9zM399.9 1289.5h7.9v7.8h-7.9zM760.2 1289.5h7.9v7.8h-7.9zM1334.5 1289.5h7.9v7.8h-7.9zM658.9 1300.3h7.9v7.8h-7.9zM219.8 1321.9h7.9v7.8h-7.9zM321.1 1321.9h7.9v7.8h-7.9zM1255.7 1321.9h7.9v7.8h-7.9zM50.9 1332.7h7.9v7.8h-7.9zM84.6 1332.7h7.9v7.8h-7.9zM95.9 1332.7h7.9v7.8h-7.9zM253.5 1332.7h7.9v7.8h-7.9zM388.7 1332.7h7.9v7.8h-7.9zM399.9 1332.7h7.9v7.8h-7.9zM411.2 1332.7h7.9v7.8h-7.9zM422.4 1332.7h7.9v7.8h-7.9zM523.8 1332.7h7.9v7.8h-7.9zM692.7 1332.7h7.9v7.8h-7.9zM1255.7 1332.7h7.9v7.8h-7.9zM1266.9 1332.7h7.9v7.8h-7.9zM1323.2 1332.7h7.9v7.8h-7.9zM186.0 1354.3h7.9v7.8h-7.9zM276.1 1354.3h7.9v7.8h-7.9zM321.1 1354.3h7.9v7.8h-7.9zM613.9 1354.3h7.9v7.8h-7.9zM1289.5 1354.3h7.9v7.8h-7.9zM197.2 1377.3h7.9v5.0h-7.9zM208.5 1377.3h7.9v5.0h-7.9zM253.5 1377.3h7.9v5.0h-7.9zM298.6 1377.3h7.9v5.0h-7.9zM309.8 1377.3h7.9v5.0h-7.9zM321.1 1377.3h7.9v5.0h-7.9zM411.2 1377.3h7.9v5.0h-7.9zM422.4 1377.3h7.9v5.0h-7.9zM478.7 1377.3h7.9v5.0h-7.9zM546.3 1377.3h7.9v5.0h-7.9zM557.6 1377.3h7.9v5.0h-7.9zM636.4 1377.3h7.9v5.0h-7.9zM951.7 1377.3h7.9v5.0h-7.9zM1053.0 1377.3h7.9v5.0h-7.9zM1075.5 1377.3h7.9v5.0h-7.9zM1098.0 1377.3h7.9v5.0h-7.9zM1109.3 1377.3h7.9v5.0h-7.9zM1120.6 1377.3h7.9v5.0h-7.9zM1131.8 1377.3h7.9v5.0h-7.9zM1143.1 1377.3h7.9v5.0h-7.9zM1154.3 1377.3h7.9v5.0h-7.9zM1165.6 1377.3h7.9v5.0h-7.9zM1176.9 1377.3h7.9v5.0h-7.9zM1188.1 1377.3h7.9v5.0h-7.9zM1221.9 1377.3h7.9v5.0h-7.9zM1255.7 1377.3h7.9v5.0h-7.9zM219.8 1386.7h7.9v7.8h-7.9zM276.1 1386.7h7.9v7.8h-7.9zM321.1 1386.7h7.9v7.8h-7.9zM399.9 1386.7h7.9v7.8h-7.9zM422.4 1386.7h7.9v7.8h-7.9zM1266.9 1386.7h7.9v7.8h-7.9zM1278.2 1386.7h7.9v7.8h-7.9zM1289.5 1386.7h7.9v7.8h-7.9zM1300.7 1386.7h7.9v7.8h-7.9zM1390.8 1386.7h7.9v7.8h-7.9zM186.0 1408.3h7.9v7.8h-7.9zM197.2 1408.3h7.9v7.8h-7.9zM208.5 1408.3h7.9v7.8h-7.9zM253.5 1408.3h7.9v7.8h-7.9zM276.1 1408.3h7.9v7.8h-7.9zM287.3 1408.3h7.9v7.8h-7.9zM309.8 1408.3h7.9v7.8h-7.9zM321.1 1408.3h7.9v7.8h-7.9zM1266.9 1408.3h7.9v7.8h-7.9zM1278.2 1408.3h7.9v7.8h-7.9zM1289.5 1408.3h7.9v7.8h-7.9zM1300.7 1408.3h7.9v7.8h-7.9zM1323.2 1408.3h7.9v7.8h-7.9zM366.1 1419.1h7.9v7.8h-7.9zM749.0 1419.1h7.9v7.8h-7.9zM760.2 1419.1h7.9v7.8h-7.9zM1199.4 1419.1h7.9v7.8h-7.9zM1266.9 1419.1h7.9v7.8h-7.9zM1278.2 1419.1h7.9v7.8h-7.9zM613.9 1429.9h7.9v7.8h-7.9zM309.8 1442.1h7.9v5.0h-7.9zM411.2 1442.1h7.9v5.0h-7.9zM613.9 1442.1h7.9v5.0h-7.9zM872.8 1442.1h7.9v5.0h-7.9zM1312.0 1442.1h7.9v5.0h-7.9zM1345.8 1442.1h7.9v5.0h-7.9zM197.2 1451.5h7.9v7.8h-7.9zM264.8 1451.5h7.9v7.8h-7.9zM276.1 1451.5h7.9v7.8h-7.9zM1289.5 1451.5h7.9v7.8h-7.9zM366.1 1462.3h7.9v7.8h-7.9zM388.7 1462.3h7.9v7.8h-7.9zM658.9 1462.3h7.9v7.8h-7.9zM749.0 1462.3h7.9v7.8h-7.9zM760.2 1462.3h7.9v7.8h-7.9zM366.1 1473.1h7.9v7.8h-7.9zM749.0 1473.1h7.9v7.8h-7.9zM760.2 1473.1h7.9v7.8h-7.9zM186.0 1483.9h7.9v7.8h-7.9zM197.2 1483.9h7.9v7.8h-7.9zM208.5 1483.9h7.9v7.8h-7.9zM1278.2 1483.9h7.9v7.8h-7.9zM186.0 1494.7h7.9v7.8h-7.9zM197.2 1494.7h7.9v7.8h-7.9zM208.5 1494.7h7.9v7.8h-7.9zM1278.2 1494.7h7.9v7.8h-7.9zM1334.5 1494.7h7.9v7.8h-7.9zM186.0 1506.9h7.9v5.0h-7.9zM613.9 1506.9h7.9v5.0h-7.9zM186.0 1559.4h7.9v7.8h-7.9zM197.2 1559.4h7.9v7.8h-7.9zM208.5 1559.4h7.9v7.8h-7.9zM219.8 1559.4h7.9v7.8h-7.9zM264.8 1559.4h7.9v7.8h-7.9zM276.1 1559.4h7.9v7.8h-7.9zM298.6 1559.4h7.9v7.8h-7.9zM332.4 1559.4h7.9v7.8h-7.9zM354.9 1559.4h7.9v7.8h-7.9zM602.6 1559.4h7.9v7.8h-7.9zM613.9 1559.4h7.9v7.8h-7.9zM658.9 1559.4h7.9v7.8h-7.9zM760.2 1559.4h7.9v7.8h-7.9zM1041.7 1559.4h7.9v7.8h-7.9zM1199.4 1559.4h7.9v7.8h-7.9zM1266.9 1559.4h7.9v7.8h-7.9zM1278.2 1559.4h7.9v7.8h-7.9zM1300.7 1559.4h7.9v7.8h-7.9zM1312.0 1559.4h7.9v7.8h-7.9zM1323.2 1559.4h7.9v7.8h-7.9zM1379.5 1559.4h7.9v7.8h-7.9zM186.0 1571.6h7.9v5.0h-7.9zM208.5 1571.6h7.9v5.0h-7.9zM219.8 1571.6h7.9v5.0h-7.9zM276.1 1571.6h7.9v5.0h-7.9zM298.6 1571.6h7.9v5.0h-7.9zM332.4 1571.6h7.9v5.0h-7.9zM354.9 1571.6h7.9v5.0h-7.9zM546.3 1571.6h7.9v5.0h-7.9zM613.9 1571.6h7.9v5.0h-7.9zM658.9 1571.6h7.9v5.0h-7.9zM749.0 1571.6h7.9v5.0h-7.9zM1199.4 1571.6h7.9v5.0h-7.9zM1255.7 1571.6h7.9v5.0h-7.9zM1266.9 1571.6h7.9v5.0h-7.9zM1278.2 1571.6h7.9v5.0h-7.9zM1300.7 1571.6h7.9v5.0h-7.9zM1323.2 1571.6h7.9v5.0h-7.9zM1334.5 1571.6h7.9v5.0h-7.9zM186.0 1581.0h7.9v7.8h-7.9zM197.2 1581.0h7.9v7.8h-7.9zM208.5 1581.0h7.9v7.8h-7.9zM219.8 1581.0h7.9v7.8h-7.9zM253.5 1581.0h7.9v7.8h-7.9zM264.8 1581.0h7.9v7.8h-7.9zM276.1 1581.0h7.9v7.8h-7.9zM298.6 1581.0h7.9v7.8h-7.9zM332.4 1581.0h7.9v7.8h-7.9zM377.4 1581.0h7.9v7.8h-7.9zM602.6 1581.0h7.9v7.8h-7.9zM658.9 1581.0h7.9v7.8h-7.9zM703.9 1581.0h7.9v7.8h-7.9zM1199.4 1581.0h7.9v7.8h-7.9zM1255.7 1581.0h7.9v7.8h-7.9zM1266.9 1581.0h7.9v7.8h-7.9zM1278.2 1581.0h7.9v7.8h-7.9zM1300.7 1581.0h7.9v7.8h-7.9zM1323.2 1581.0h7.9v7.8h-7.9zM1334.5 1581.0h7.9v7.8h-7.9zM84.6 1591.8h7.9v7.8h-7.9zM95.9 1591.8h7.9v7.8h-7.9zM377.4 1591.8h7.9v7.8h-7.9zM523.8 1591.8h7.9v7.8h-7.9zM658.9 1591.8h7.9v7.8h-7.9zM1266.9 1591.8h7.9v7.8h-7.9zM1278.2 1591.8h7.9v7.8h-7.9zM186.0 1602.6h7.9v7.8h-7.9zM298.6 1602.6h7.9v7.8h-7.9zM309.8 1602.6h7.9v7.8h-7.9zM321.1 1602.6h7.9v7.8h-7.9zM388.7 1602.6h7.9v7.8h-7.9zM399.9 1602.6h7.9v7.8h-7.9zM749.0 1602.6h7.9v7.8h-7.9zM760.2 1602.6h7.9v7.8h-7.9zM1064.3 1602.6h7.9v7.8h-7.9zM1199.4 1602.6h7.9v7.8h-7.9zM1210.6 1602.6h7.9v7.8h-7.9zM1255.7 1602.6h7.9v7.8h-7.9zM1266.9 1602.6h7.9v7.8h-7.9zM1278.2 1602.6h7.9v7.8h-7.9zM1289.5 1602.6h7.9v7.8h-7.9zM1300.7 1602.6h7.9v7.8h-7.9zM1334.5 1602.6h7.9v7.8h-7.9zM1357.0 1602.6h7.9v7.8h-7.9zM1368.3 1602.6h7.9v7.8h-7.9zM62.1 1613.4h7.9v7.8h-7.9zM73.4 1613.4h7.9v7.8h-7.9zM84.6 1613.4h7.9v7.8h-7.9zM95.9 1613.4h7.9v7.8h-7.9zM129.7 1613.4h7.9v7.8h-7.9zM242.3 1613.4h7.9v7.8h-7.9zM309.8 1613.4h7.9v7.8h-7.9zM343.6 1613.4h7.9v7.8h-7.9zM512.5 1613.4h7.9v7.8h-7.9zM523.8 1613.4h7.9v7.8h-7.9zM568.8 1613.4h7.9v7.8h-7.9zM737.7 1613.4h7.9v7.8h-7.9zM1064.3 1613.4h7.9v7.8h-7.9zM1210.6 1613.4h7.9v7.8h-7.9zM1221.9 1613.4h7.9v7.8h-7.9zM1266.9 1613.4h7.9v7.8h-7.9zM174.7 1624.2h7.9v7.8h-7.9zM264.8 1624.2h7.9v7.8h-7.9zM287.3 1624.2h7.9v7.8h-7.9zM309.8 1624.2h7.9v7.8h-7.9zM332.4 1624.2h7.9v7.8h-7.9zM411.2 1624.2h7.9v7.8h-7.9zM422.4 1624.2h7.9v7.8h-7.9zM703.9 1624.2h7.9v7.8h-7.9zM940.4 1624.2h7.9v7.8h-7.9zM1064.3 1624.2h7.9v7.8h-7.9zM1075.5 1624.2h7.9v7.8h-7.9zM1199.4 1624.2h7.9v7.8h-7.9zM1255.7 1624.2h7.9v7.8h-7.9zM1266.9 1624.2h7.9v7.8h-7.9zM1300.7 1624.2h7.9v7.8h-7.9zM1334.5 1624.2h7.9v7.8h-7.9zM1390.8 1624.2h7.9v7.8h-7.9zM1402.1 1624.2h7.9v7.8h-7.9zM287.3 1636.4h7.9v5.0h-7.9zM309.8 1636.4h7.9v5.0h-7.9zM332.4 1636.4h7.9v5.0h-7.9zM366.1 1636.4h7.9v5.0h-7.9zM703.9 1636.4h7.9v5.0h-7.9zM929.1 1636.4h7.9v5.0h-7.9zM1199.4 1636.4h7.9v5.0h-7.9zM1278.2 1636.4h7.9v5.0h-7.9zM186.0 1645.8h7.9v7.8h-7.9zM219.8 1645.8h7.9v7.8h-7.9zM242.3 1645.8h7.9v7.8h-7.9zM343.6 1645.8h7.9v7.8h-7.9zM354.9 1645.8h7.9v7.8h-7.9zM399.9 1645.8h7.9v7.8h-7.9zM411.2 1645.8h7.9v7.8h-7.9zM422.4 1645.8h7.9v7.8h-7.9zM703.9 1645.8h7.9v7.8h-7.9zM760.2 1645.8h7.9v7.8h-7.9zM1199.4 1645.8h7.9v7.8h-7.9zM1266.9 1645.8h7.9v7.8h-7.9zM1278.2 1645.8h7.9v7.8h-7.9zM84.6 1656.6h7.9v7.8h-7.9zM95.9 1656.6h7.9v7.8h-7.9zM208.5 1656.6h7.9v7.8h-7.9zM231.0 1656.6h7.9v7.8h-7.9zM264.8 1656.6h7.9v7.8h-7.9zM287.3 1656.6h7.9v7.8h-7.9zM298.6 1656.6h7.9v7.8h-7.9zM377.4 1656.6h7.9v7.8h-7.9zM580.1 1656.6h7.9v7.8h-7.9zM602.6 1656.6h7.9v7.8h-7.9zM613.9 1656.6h7.9v7.8h-7.9zM636.4 1656.6h7.9v7.8h-7.9zM670.2 1656.6h7.9v7.8h-7.9zM703.9 1656.6h7.9v7.8h-7.9zM861.6 1656.6h7.9v7.8h-7.9zM1041.7 1656.6h7.9v7.8h-7.9zM1053.0 1656.6h7.9v7.8h-7.9zM1064.3 1656.6h7.9v7.8h-7.9zM1075.5 1656.6h7.9v7.8h-7.9zM1086.8 1656.6h7.9v7.8h-7.9zM1098.0 1656.6h7.9v7.8h-7.9zM1109.3 1656.6h7.9v7.8h-7.9zM1120.6 1656.6h7.9v7.8h-7.9zM1131.8 1656.6h7.9v7.8h-7.9zM1154.3 1656.6h7.9v7.8h-7.9zM1165.6 1656.6h7.9v7.8h-7.9zM1176.9 1656.6h7.9v7.8h-7.9zM1188.1 1656.6h7.9v7.8h-7.9zM1210.6 1656.6h7.9v7.8h-7.9zM1221.9 1656.6h7.9v7.8h-7.9zM1244.4 1656.6h7.9v7.8h-7.9zM1289.5 1656.6h7.9v7.8h-7.9zM1300.7 1656.6h7.9v7.8h-7.9zM1334.5 1656.6h7.9v7.8h-7.9zM1379.5 1656.6h7.9v7.8h-7.9zM1402.1 1656.6h7.9v7.8h-7.9zM186.0 1667.4h7.9v7.8h-7.9zM197.2 1667.4h7.9v7.8h-7.9zM208.5 1667.4h7.9v7.8h-7.9zM253.5 1667.4h7.9v7.8h-7.9zM276.1 1667.4h7.9v7.8h-7.9zM298.6 1667.4h7.9v7.8h-7.9zM343.6 1667.4h7.9v7.8h-7.9zM354.9 1667.4h7.9v7.8h-7.9zM366.1 1667.4h7.9v7.8h-7.9zM377.4 1667.4h7.9v7.8h-7.9zM546.3 1667.4h7.9v7.8h-7.9zM580.1 1667.4h7.9v7.8h-7.9zM613.9 1667.4h7.9v7.8h-7.9zM749.0 1667.4h7.9v7.8h-7.9zM1143.1 1667.4h7.9v7.8h-7.9zM1199.4 1667.4h7.9v7.8h-7.9zM1233.2 1667.4h7.9v7.8h-7.9zM1266.9 1667.4h7.9v7.8h-7.9zM1278.2 1667.4h7.9v7.8h-7.9zM1289.5 1667.4h7.9v7.8h-7.9zM1300.7 1667.4h7.9v7.8h-7.9zM1323.2 1667.4h7.9v7.8h-7.9zM1334.5 1667.4h7.9v7.8h-7.9zM1357.0 1667.4h7.9v7.8h-7.9zM287.3 1678.2h7.9v7.8h-7.9zM309.8 1678.2h7.9v7.8h-7.9zM321.1 1678.2h7.9v7.8h-7.9zM377.4 1678.2h7.9v7.8h-7.9zM399.9 1678.2h7.9v7.8h-7.9zM411.2 1678.2h7.9v7.8h-7.9zM422.4 1678.2h7.9v7.8h-7.9zM613.9 1678.2h7.9v7.8h-7.9zM1109.3 1678.2h7.9v7.8h-7.9zM1221.9 1678.2h7.9v7.8h-7.9zM1233.2 1678.2h7.9v7.8h-7.9zM1244.4 1678.2h7.9v7.8h-7.9zM1266.9 1678.2h7.9v7.8h-7.9zM1278.2 1678.2h7.9v7.8h-7.9zM1334.5 1678.2h7.9v7.8h-7.9zM253.5 1689.0h7.9v7.8h-7.9zM298.6 1689.0h7.9v7.8h-7.9zM321.1 1689.0h7.9v7.8h-7.9zM343.6 1689.0h7.9v7.8h-7.9zM354.9 1689.0h7.9v7.8h-7.9zM580.1 1689.0h7.9v7.8h-7.9zM782.8 1689.0h7.9v7.8h-7.9zM1041.7 1689.0h7.9v7.8h-7.9zM1053.0 1689.0h7.9v7.8h-7.9zM1064.3 1689.0h7.9v7.8h-7.9zM1075.5 1689.0h7.9v7.8h-7.9zM1086.8 1689.0h7.9v7.8h-7.9zM1098.0 1689.0h7.9v7.8h-7.9zM1109.3 1689.0h7.9v7.8h-7.9zM1120.6 1689.0h7.9v7.8h-7.9zM1131.8 1689.0h7.9v7.8h-7.9zM1143.1 1689.0h7.9v7.8h-7.9zM1154.3 1689.0h7.9v7.8h-7.9zM1165.6 1689.0h7.9v7.8h-7.9zM1176.9 1689.0h7.9v7.8h-7.9zM1188.1 1689.0h7.9v7.8h-7.9zM1210.6 1689.0h7.9v7.8h-7.9zM1221.9 1689.0h7.9v7.8h-7.9zM1233.2 1689.0h7.9v7.8h-7.9zM1244.4 1689.0h7.9v7.8h-7.9zM1266.9 1689.0h7.9v7.8h-7.9zM1312.0 1689.0h7.9v7.8h-7.9zM1323.2 1689.0h7.9v7.8h-7.9zM1345.8 1689.0h7.9v7.8h-7.9zM1368.3 1689.0h7.9v7.8h-7.9zM1379.5 1689.0h7.9v7.8h-7.9zM1390.8 1689.0h7.9v7.8h-7.9zM1402.1 1689.0h7.9v7.8h-7.9zM84.6 1701.2h7.9v5.0h-7.9zM95.9 1701.2h7.9v5.0h-7.9zM309.8 1701.2h7.9v5.0h-7.9zM399.9 1701.2h7.9v5.0h-7.9zM411.2 1701.2h7.9v5.0h-7.9zM422.4 1701.2h7.9v5.0h-7.9zM535.0 1701.2h7.9v5.0h-7.9zM580.1 1701.2h7.9v5.0h-7.9zM602.6 1701.2h7.9v5.0h-7.9zM636.4 1701.2h7.9v5.0h-7.9zM703.9 1701.2h7.9v5.0h-7.9zM715.2 1701.2h7.9v5.0h-7.9zM726.5 1701.2h7.9v5.0h-7.9zM872.8 1701.2h7.9v5.0h-7.9zM1064.3 1701.2h7.9v5.0h-7.9zM1075.5 1701.2h7.9v5.0h-7.9zM1266.9 1701.2h7.9v5.0h-7.9zM1278.2 1701.2h7.9v5.0h-7.9zM1289.5 1701.2h7.9v5.0h-7.9zM1323.2 1701.2h7.9v5.0h-7.9zM1345.8 1701.2h7.9v5.0h-7.9zM186.0 1710.6h7.9v7.8h-7.9zM219.8 1710.6h7.9v7.8h-7.9zM321.1 1710.6h7.9v7.8h-7.9zM354.9 1710.6h7.9v7.8h-7.9zM399.9 1710.6h7.9v7.8h-7.9zM422.4 1710.6h7.9v7.8h-7.9zM535.0 1710.6h7.9v7.8h-7.9zM1041.7 1710.6h7.9v7.8h-7.9zM1345.8 1710.6h7.9v7.8h-7.9zM1390.8 1710.6h7.9v7.8h-7.9zM1402.1 1710.6h7.9v7.8h-7.9zM84.6 1721.4h7.9v7.8h-7.9zM95.9 1721.4h7.9v7.8h-7.9zM208.5 1721.4h7.9v7.8h-7.9zM287.3 1721.4h7.9v7.8h-7.9zM309.8 1721.4h7.9v7.8h-7.9zM399.9 1721.4h7.9v7.8h-7.9zM580.1 1721.4h7.9v7.8h-7.9zM613.9 1721.4h7.9v7.8h-7.9zM658.9 1721.4h7.9v7.8h-7.9zM884.1 1721.4h7.9v7.8h-7.9zM1041.7 1721.4h7.9v7.8h-7.9zM1053.0 1721.4h7.9v7.8h-7.9zM1064.3 1721.4h7.9v7.8h-7.9zM1075.5 1721.4h7.9v7.8h-7.9zM1086.8 1721.4h7.9v7.8h-7.9zM1098.0 1721.4h7.9v7.8h-7.9zM1109.3 1721.4h7.9v7.8h-7.9zM1120.6 1721.4h7.9v7.8h-7.9zM1131.8 1721.4h7.9v7.8h-7.9zM1143.1 1721.4h7.9v7.8h-7.9zM1154.3 1721.4h7.9v7.8h-7.9zM1165.6 1721.4h7.9v7.8h-7.9zM1176.9 1721.4h7.9v7.8h-7.9zM1188.1 1721.4h7.9v7.8h-7.9zM1199.4 1721.4h7.9v7.8h-7.9zM1210.6 1721.4h7.9v7.8h-7.9zM1221.9 1721.4h7.9v7.8h-7.9zM1233.2 1721.4h7.9v7.8h-7.9zM1244.4 1721.4h7.9v7.8h-7.9zM1255.7 1721.4h7.9v7.8h-7.9zM1266.9 1721.4h7.9v7.8h-7.9zM1278.2 1721.4h7.9v7.8h-7.9zM1300.7 1721.4h7.9v7.8h-7.9zM1323.2 1721.4h7.9v7.8h-7.9zM1357.0 1721.4h7.9v7.8h-7.9zM1368.3 1721.4h7.9v7.8h-7.9zM1379.5 1721.4h7.9v7.8h-7.9zM1390.8 1721.4h7.9v7.8h-7.9zM1402.1 1721.4h7.9v7.8h-7.9zM197.2 1732.2h7.9v7.8h-7.9zM208.5 1732.2h7.9v7.8h-7.9zM332.4 1732.2h7.9v7.8h-7.9zM366.1 1732.2h7.9v7.8h-7.9zM703.9 1732.2h7.9v7.8h-7.9zM1334.5 1732.2h7.9v7.8h-7.9zM1379.5 1732.2h7.9v7.8h-7.9zM197.2 1743.0h7.9v7.8h-7.9zM208.5 1743.0h7.9v7.8h-7.9zM321.1 1743.0h7.9v7.8h-7.9zM1334.5 1743.0h7.9v7.8h-7.9zM186.0 1753.8h7.9v7.8h-7.9zM197.2 1753.8h7.9v7.8h-7.9zM208.5 1753.8h7.9v7.8h-7.9zM264.8 1753.8h7.9v7.8h-7.9zM332.4 1753.8h7.9v7.8h-7.9zM399.9 1753.8h7.9v7.8h-7.9zM411.2 1753.8h7.9v7.8h-7.9zM422.4 1753.8h7.9v7.8h-7.9zM602.6 1753.8h7.9v7.8h-7.9zM670.2 1753.8h7.9v7.8h-7.9zM1221.9 1753.8h7.9v7.8h-7.9zM1345.8 1753.8h7.9v7.8h-7.9zM219.8 1766.0h7.9v5.0h-7.9zM231.0 1766.0h7.9v5.0h-7.9zM242.3 1766.0h7.9v5.0h-7.9zM253.5 1766.0h7.9v5.0h-7.9zM309.8 1766.0h7.9v5.0h-7.9zM321.1 1766.0h7.9v5.0h-7.9zM399.9 1766.0h7.9v5.0h-7.9zM411.2 1766.0h7.9v5.0h-7.9zM422.4 1766.0h7.9v5.0h-7.9zM490.0 1766.0h7.9v5.0h-7.9zM501.3 1766.0h7.9v5.0h-7.9zM580.1 1766.0h7.9v5.0h-7.9zM613.9 1766.0h7.9v5.0h-7.9zM1086.8 1766.0h7.9v5.0h-7.9zM1266.9 1766.0h7.9v5.0h-7.9zM1312.0 1766.0h7.9v5.0h-7.9zM1323.2 1766.0h7.9v5.0h-7.9zM1368.3 1766.0h7.9v5.0h-7.9zM1402.1 1766.0h7.9v5.0h-7.9zM84.6 1775.4h7.9v7.8h-7.9zM95.9 1775.4h7.9v7.8h-7.9zM219.8 1775.4h7.9v7.8h-7.9zM231.0 1775.4h7.9v7.8h-7.9zM242.3 1775.4h7.9v7.8h-7.9zM309.8 1775.4h7.9v7.8h-7.9zM399.9 1775.4h7.9v7.8h-7.9zM422.4 1775.4h7.9v7.8h-7.9zM490.0 1775.4h7.9v7.8h-7.9zM501.3 1775.4h7.9v7.8h-7.9zM535.0 1775.4h7.9v7.8h-7.9zM580.1 1775.4h7.9v7.8h-7.9zM613.9 1775.4h7.9v7.8h-7.9zM1041.7 1775.4h7.9v7.8h-7.9zM1086.8 1775.4h7.9v7.8h-7.9zM1255.7 1775.4h7.9v7.8h-7.9zM1266.9 1775.4h7.9v7.8h-7.9zM1312.0 1775.4h7.9v7.8h-7.9zM1323.2 1775.4h7.9v7.8h-7.9zM1345.8 1775.4h7.9v7.8h-7.9zM219.8 1786.2h7.9v7.8h-7.9zM264.8 1786.2h7.9v7.8h-7.9zM309.8 1786.2h7.9v7.8h-7.9zM332.4 1786.2h7.9v7.8h-7.9zM377.4 1786.2h7.9v7.8h-7.9zM399.9 1786.2h7.9v7.8h-7.9zM411.2 1786.2h7.9v7.8h-7.9zM422.4 1786.2h7.9v7.8h-7.9zM478.7 1786.2h7.9v7.8h-7.9zM490.0 1786.2h7.9v7.8h-7.9zM501.3 1786.2h7.9v7.8h-7.9zM580.1 1786.2h7.9v7.8h-7.9zM636.4 1786.2h7.9v7.8h-7.9zM1041.7 1786.2h7.9v7.8h-7.9zM1053.0 1786.2h7.9v7.8h-7.9zM1064.3 1786.2h7.9v7.8h-7.9zM1075.5 1786.2h7.9v7.8h-7.9zM1098.0 1786.2h7.9v7.8h-7.9zM1109.3 1786.2h7.9v7.8h-7.9zM1120.6 1786.2h7.9v7.8h-7.9zM1131.8 1786.2h7.9v7.8h-7.9zM1143.1 1786.2h7.9v7.8h-7.9zM1154.3 1786.2h7.9v7.8h-7.9zM1165.6 1786.2h7.9v7.8h-7.9zM1176.9 1786.2h7.9v7.8h-7.9zM1188.1 1786.2h7.9v7.8h-7.9zM1199.4 1786.2h7.9v7.8h-7.9zM1210.6 1786.2h7.9v7.8h-7.9zM1221.9 1786.2h7.9v7.8h-7.9zM1233.2 1786.2h7.9v7.8h-7.9zM1244.4 1786.2h7.9v7.8h-7.9zM1255.7 1786.2h7.9v7.8h-7.9zM1289.5 1786.2h7.9v7.8h-7.9zM1368.3 1786.2h7.9v7.8h-7.9zM1379.5 1786.2h7.9v7.8h-7.9zM1390.8 1786.2h7.9v7.8h-7.9zM1402.1 1786.2h7.9v7.8h-7.9zM354.9 1797.0h7.9v7.8h-7.9zM940.4 1797.0h7.9v7.8h-7.9zM366.1 1840.2h7.9v7.8h-7.9zM197.2 1872.6h7.9v7.8h-7.9zM253.5 1872.6h7.9v7.8h-7.9zM276.1 1872.6h7.9v7.8h-7.9zM321.1 1872.6h7.9v7.8h-7.9zM366.1 1872.6h7.9v7.8h-7.9zM388.7 1872.6h7.9v7.8h-7.9zM658.9 1872.6h7.9v7.8h-7.9zM197.2 1883.3h7.9v7.8h-7.9zM253.5 1883.3h7.9v7.8h-7.9zM276.1 1883.3h7.9v7.8h-7.9zM321.1 1883.3h7.9v7.8h-7.9zM366.1 1883.3h7.9v7.8h-7.9zM388.7 1883.3h7.9v7.8h-7.9zM658.9 1883.3h7.9v7.8h-7.9zM861.6 1883.3h7.9v7.8h-7.9zM366.1 1895.5h7.9v5.0h-7.9zM366.1 1904.9h7.9v7.8h-7.9zM658.9 1915.7h7.9v7.8h-7.9z"/><path fill="#f5c2ab" d="M535.0 620.1h7.9v7.8h-7.9zM1041.7 620.1h7.9v7.8h-7.9zM1064.3 620.1h7.9v7.8h-7.9zM1086.8 620.1h7.9v7.8h-7.9zM1098.0 620.1h7.9v7.8h-7.9zM1165.6 620.1h7.9v7.8h-7.9zM1210.6 620.1h7.9v7.8h-7.9zM1221.9 620.1h7.9v7.8h-7.9zM1233.2 620.1h7.9v7.8h-7.9zM1244.4 620.1h7.9v7.8h-7.9zM1312.0 620.1h7.9v7.8h-7.9zM1345.8 620.1h7.9v7.8h-7.9zM1368.3 620.1h7.9v7.8h-7.9zM535.0 630.9h7.9v7.8h-7.9zM1053.0 630.9h7.9v7.8h-7.9zM1075.5 630.9h7.9v7.8h-7.9zM1086.8 630.9h7.9v7.8h-7.9zM1098.0 630.9h7.9v7.8h-7.9zM1109.3 630.9h7.9v7.8h-7.9zM1120.6 630.9h7.9v7.8h-7.9zM1131.8 630.9h7.9v7.8h-7.9zM1143.1 630.9h7.9v7.8h-7.9zM1154.3 630.9h7.9v7.8h-7.9zM1165.6 630.9h7.9v7.8h-7.9zM1176.9 630.9h7.9v7.8h-7.9zM1188.1 630.9h7.9v7.8h-7.9zM1244.4 630.9h7.9v7.8h-7.9zM1289.5 630.9h7.9v7.8h-7.9zM1334.5 630.9h7.9v7.8h-7.9zM1357.0 630.9h7.9v7.8h-7.9zM917.9 641.7h7.9v7.8h-7.9zM1041.7 641.7h7.9v7.8h-7.9zM1053.0 641.7h7.9v7.8h-7.9zM1064.3 641.7h7.9v7.8h-7.9zM1075.5 641.7h7.9v7.8h-7.9zM1086.8 641.7h7.9v7.8h-7.9zM1098.0 641.7h7.9v7.8h-7.9zM1109.3 641.7h7.9v7.8h-7.9zM1120.6 641.7h7.9v7.8h-7.9zM1131.8 641.7h7.9v7.8h-7.9zM1143.1 641.7h7.9v7.8h-7.9zM1154.3 641.7h7.9v7.8h-7.9zM1165.6 641.7h7.9v7.8h-7.9zM1176.9 641.7h7.9v7.8h-7.9zM1188.1 641.7h7.9v7.8h-7.9zM1345.8 641.7h7.9v7.8h-7.9zM321.1 652.5h7.9v7.8h-7.9zM1064.3 652.5h7.9v7.8h-7.9zM1086.8 652.5h7.9v7.8h-7.9zM1098.0 652.5h7.9v7.8h-7.9zM1233.2 652.5h7.9v7.8h-7.9zM1244.4 652.5h7.9v7.8h-7.9zM1289.5 652.5h7.9v7.8h-7.9zM1312.0 652.5h7.9v7.8h-7.9zM1345.8 652.5h7.9v7.8h-7.9zM1402.1 652.5h7.9v7.8h-7.9zM186.0 664.7h7.9v5.0h-7.9zM208.5 664.7h7.9v5.0h-7.9zM1390.8 664.7h7.9v5.0h-7.9zM231.0 674.1h7.9v7.8h-7.9zM242.3 674.1h7.9v7.8h-7.9zM321.1 674.1h7.9v7.8h-7.9zM1041.7 674.1h7.9v7.8h-7.9zM1064.3 674.1h7.9v7.8h-7.9zM1233.2 674.1h7.9v7.8h-7.9zM1312.0 674.1h7.9v7.8h-7.9zM1323.2 674.1h7.9v7.8h-7.9zM1368.3 674.1h7.9v7.8h-7.9zM1379.5 674.1h7.9v7.8h-7.9zM1402.1 674.1h7.9v7.8h-7.9zM186.0 684.9h7.9v7.8h-7.9zM197.2 684.9h7.9v7.8h-7.9zM219.8 684.9h7.9v7.8h-7.9zM253.5 684.9h7.9v7.8h-7.9zM264.8 684.9h7.9v7.8h-7.9zM276.1 684.9h7.9v7.8h-7.9zM422.4 684.9h7.9v7.8h-7.9zM1289.5 684.9h7.9v7.8h-7.9zM1390.8 684.9h7.9v7.8h-7.9zM39.6 695.7h7.9v7.8h-7.9zM50.9 695.7h7.9v7.8h-7.9zM62.1 695.7h7.9v7.8h-7.9zM73.4 695.7h7.9v7.8h-7.9zM84.6 695.7h7.9v7.8h-7.9zM95.9 695.7h7.9v7.8h-7.9zM186.0 695.7h7.9v7.8h-7.9zM321.1 695.7h7.9v7.8h-7.9zM591.3 695.7h7.9v7.8h-7.9zM602.6 695.7h7.9v7.8h-7.9zM613.9 695.7h7.9v7.8h-7.9zM636.4 695.7h7.9v7.8h-7.9zM1064.3 695.7h7.9v7.8h-7.9zM1075.5 695.7h7.9v7.8h-7.9zM1086.8 695.7h7.9v7.8h-7.9zM1098.0 695.7h7.9v7.8h-7.9zM1109.3 695.7h7.9v7.8h-7.9zM1120.6 695.7h7.9v7.8h-7.9zM1131.8 695.7h7.9v7.8h-7.9zM1143.1 695.7h7.9v7.8h-7.9zM1154.3 695.7h7.9v7.8h-7.9zM1165.6 695.7h7.9v7.8h-7.9zM1176.9 695.7h7.9v7.8h-7.9zM1188.1 695.7h7.9v7.8h-7.9zM1210.6 695.7h7.9v7.8h-7.9zM1233.2 695.7h7.9v7.8h-7.9zM1244.4 695.7h7.9v7.8h-7.9zM1289.5 695.7h7.9v7.8h-7.9zM1345.8 695.7h7.9v7.8h-7.9zM186.0 706.5h7.9v7.8h-7.9zM253.5 706.5h7.9v7.8h-7.9zM276.1 706.5h7.9v7.8h-7.9zM309.8 706.5h7.9v7.8h-7.9zM321.1 706.5h7.9v7.8h-7.9zM580.1 706.5h7.9v7.8h-7.9zM602.6 706.5h7.9v7.8h-7.9zM850.3 706.5h7.9v7.8h-7.9zM1041.7 706.5h7.9v7.8h-7.9zM1064.3 706.5h7.9v7.8h-7.9zM1086.8 706.5h7.9v7.8h-7.9zM1098.0 706.5h7.9v7.8h-7.9zM1221.9 706.5h7.9v7.8h-7.9zM1233.2 706.5h7.9v7.8h-7.9zM1244.4 706.5h7.9v7.8h-7.9zM1289.5 706.5h7.9v7.8h-7.9zM1345.8 706.5h7.9v7.8h-7.9zM1368.3 706.5h7.9v7.8h-7.9zM1402.1 706.5h7.9v7.8h-7.9zM186.0 717.3h7.9v7.8h-7.9zM264.8 717.3h7.9v7.8h-7.9zM276.1 717.3h7.9v7.8h-7.9zM298.6 717.3h7.9v7.8h-7.9zM613.9 717.3h7.9v7.8h-7.9zM636.4 717.3h7.9v7.8h-7.9zM1053.0 717.3h7.9v7.8h-7.9zM1075.5 717.3h7.9v7.8h-7.9zM1109.3 717.3h7.9v7.8h-7.9zM1120.6 717.3h7.9v7.8h-7.9zM1131.8 717.3h7.9v7.8h-7.9zM1143.1 717.3h7.9v7.8h-7.9zM1154.3 717.3h7.9v7.8h-7.9zM1165.6 717.3h7.9v7.8h-7.9zM1176.9 717.3h7.9v7.8h-7.9zM1188.1 717.3h7.9v7.8h-7.9zM197.2 729.5h7.9v5.0h-7.9zM208.5 729.5h7.9v5.0h-7.9zM298.6 729.5h7.9v5.0h-7.9zM613.9 729.5h7.9v5.0h-7.9zM1221.9 729.5h7.9v5.0h-7.9zM1255.7 729.5h7.9v5.0h-7.9zM1312.0 729.5h7.9v5.0h-7.9zM1323.2 729.5h7.9v5.0h-7.9zM1334.5 729.5h7.9v5.0h-7.9zM1368.3 729.5h7.9v5.0h-7.9zM1390.8 729.5h7.9v5.0h-7.9zM287.3 738.9h7.9v7.8h-7.9zM478.7 738.9h7.9v7.8h-7.9zM512.5 738.9h7.9v7.8h-7.9zM523.8 738.9h7.9v7.8h-7.9zM636.4 738.9h7.9v7.8h-7.9zM1053.0 738.9h7.9v7.8h-7.9zM1075.5 738.9h7.9v7.8h-7.9zM1098.0 738.9h7.9v7.8h-7.9zM1109.3 738.9h7.9v7.8h-7.9zM1120.6 738.9h7.9v7.8h-7.9zM1131.8 738.9h7.9v7.8h-7.9zM1143.1 738.9h7.9v7.8h-7.9zM1154.3 738.9h7.9v7.8h-7.9zM1165.6 738.9h7.9v7.8h-7.9zM1176.9 738.9h7.9v7.8h-7.9zM1188.1 738.9h7.9v7.8h-7.9zM186.0 749.7h7.9v7.8h-7.9zM512.5 749.7h7.9v7.8h-7.9zM523.8 749.7h7.9v7.8h-7.9zM613.9 749.7h7.9v7.8h-7.9zM636.4 749.7h7.9v7.8h-7.9zM692.7 749.7h7.9v7.8h-7.9zM1053.0 749.7h7.9v7.8h-7.9zM1075.5 749.7h7.9v7.8h-7.9zM1086.8 749.7h7.9v7.8h-7.9zM1098.0 749.7h7.9v7.8h-7.9zM1109.3 749.7h7.9v7.8h-7.9zM1120.6 749.7h7.9v7.8h-7.9zM1131.8 749.7h7.9v7.8h-7.9zM1143.1 749.7h7.9v7.8h-7.9zM1154.3 749.7h7.9v7.8h-7.9zM1165.6 749.7h7.9v7.8h-7.9zM1176.9 749.7h7.9v7.8h-7.9zM1188.1 749.7h7.9v7.8h-7.9zM298.6 760.5h7.9v7.8h-7.9zM321.1 760.5h7.9v7.8h-7.9zM332.4 760.5h7.9v7.8h-7.9zM422.4 760.5h7.9v7.8h-7.9zM1289.5 760.5h7.9v7.8h-7.9zM613.9 771.3h7.9v7.8h-7.9zM1064.3 771.3h7.9v7.8h-7.9zM1199.4 771.3h7.9v7.8h-7.9zM1312.0 771.3h7.9v7.8h-7.9zM1323.2 771.3h7.9v7.8h-7.9zM1368.3 771.3h7.9v7.8h-7.9zM1390.8 771.3h7.9v7.8h-7.9zM1402.1 771.3h7.9v7.8h-7.9zM321.1 782.1h7.9v7.8h-7.9zM613.9 782.1h7.9v7.8h-7.9zM1041.7 782.1h7.9v7.8h-7.9zM1064.3 782.1h7.9v7.8h-7.9zM1199.4 782.1h7.9v7.8h-7.9zM1312.0 782.1h7.9v7.8h-7.9zM1323.2 782.1h7.9v7.8h-7.9zM1345.8 782.1h7.9v7.8h-7.9zM1368.3 782.1h7.9v7.8h-7.9zM1402.1 782.1h7.9v7.8h-7.9zM1041.7 794.3h7.9v5.0h-7.9zM1064.3 794.3h7.9v5.0h-7.9zM1086.8 794.3h7.9v5.0h-7.9zM1098.0 794.3h7.9v5.0h-7.9zM1109.3 794.3h7.9v5.0h-7.9zM1120.6 794.3h7.9v5.0h-7.9zM1131.8 794.3h7.9v5.0h-7.9zM1143.1 794.3h7.9v5.0h-7.9zM1154.3 794.3h7.9v5.0h-7.9zM1165.6 794.3h7.9v5.0h-7.9zM1176.9 794.3h7.9v5.0h-7.9zM1188.1 794.3h7.9v5.0h-7.9zM1210.6 794.3h7.9v5.0h-7.9zM1289.5 794.3h7.9v5.0h-7.9zM1312.0 794.3h7.9v5.0h-7.9zM1402.1 794.3h7.9v5.0h-7.9zM568.8 803.6h7.9v7.8h-7.9zM1041.7 803.6h7.9v7.8h-7.9zM1064.3 803.6h7.9v7.8h-7.9zM1221.9 803.6h7.9v7.8h-7.9zM1323.2 803.6h7.9v7.8h-7.9zM1402.1 803.6h7.9v7.8h-7.9zM287.3 814.4h7.9v7.8h-7.9zM321.1 814.4h7.9v7.8h-7.9zM366.1 814.4h7.9v7.8h-7.9zM512.5 814.4h7.9v7.8h-7.9zM523.8 814.4h7.9v7.8h-7.9zM1041.7 814.4h7.9v7.8h-7.9zM1053.0 814.4h7.9v7.8h-7.9zM1064.3 814.4h7.9v7.8h-7.9zM1075.5 814.4h7.9v7.8h-7.9zM1086.8 814.4h7.9v7.8h-7.9zM1098.0 814.4h7.9v7.8h-7.9zM1109.3 814.4h7.9v7.8h-7.9zM1120.6 814.4h7.9v7.8h-7.9zM1131.8 814.4h7.9v7.8h-7.9zM1143.1 814.4h7.9v7.8h-7.9zM1154.3 814.4h7.9v7.8h-7.9zM1165.6 814.4h7.9v7.8h-7.9zM1176.9 814.4h7.9v7.8h-7.9zM1188.1 814.4h7.9v7.8h-7.9zM1233.2 814.4h7.9v7.8h-7.9zM1244.4 814.4h7.9v7.8h-7.9zM1199.4 825.2h7.9v7.8h-7.9zM1221.9 825.2h7.9v7.8h-7.9zM1266.9 825.2h7.9v7.8h-7.9zM1278.2 825.2h7.9v7.8h-7.9zM1300.7 825.2h7.9v7.8h-7.9zM1323.2 825.2h7.9v7.8h-7.9zM1379.5 825.2h7.9v7.8h-7.9zM1390.8 825.2h7.9v7.8h-7.9zM1199.4 836.0h7.9v7.8h-7.9zM1221.9 836.0h7.9v7.8h-7.9zM1266.9 836.0h7.9v7.8h-7.9zM1278.2 836.0h7.9v7.8h-7.9zM1300.7 836.0h7.9v7.8h-7.9zM1323.2 836.0h7.9v7.8h-7.9zM1379.5 836.0h7.9v7.8h-7.9zM1390.8 836.0h7.9v7.8h-7.9zM1199.4 846.8h7.9v7.8h-7.9zM1221.9 846.8h7.9v7.8h-7.9zM1266.9 846.8h7.9v7.8h-7.9zM1278.2 846.8h7.9v7.8h-7.9zM1300.7 846.8h7.9v7.8h-7.9zM1323.2 846.8h7.9v7.8h-7.9zM1379.5 846.8h7.9v7.8h-7.9zM1390.8 846.8h7.9v7.8h-7.9zM1402.1 846.8h7.9v7.8h-7.9zM1199.4 859.0h7.9v5.0h-7.9zM1221.9 859.0h7.9v5.0h-7.9zM1266.9 859.0h7.9v5.0h-7.9zM1278.2 859.0h7.9v5.0h-7.9zM1300.7 859.0h7.9v5.0h-7.9zM1323.2 859.0h7.9v5.0h-7.9zM1379.5 859.0h7.9v5.0h-7.9zM1390.8 859.0h7.9v5.0h-7.9zM321.1 868.4h7.9v7.8h-7.9zM1199.4 868.4h7.9v7.8h-7.9zM1221.9 868.4h7.9v7.8h-7.9zM1266.9 868.4h7.9v7.8h-7.9zM1278.2 868.4h7.9v7.8h-7.9zM1300.7 868.4h7.9v7.8h-7.9zM1323.2 868.4h7.9v7.8h-7.9zM1379.5 868.4h7.9v7.8h-7.9zM1390.8 868.4h7.9v7.8h-7.9zM658.9 879.2h7.9v7.8h-7.9zM1199.4 879.2h7.9v7.8h-7.9zM1221.9 879.2h7.9v7.8h-7.9zM1266.9 879.2h7.9v7.8h-7.9zM1278.2 879.2h7.9v7.8h-7.9zM1300.7 879.2h7.9v7.8h-7.9zM1323.2 879.2h7.9v7.8h-7.9zM1379.5 879.2h7.9v7.8h-7.9zM1390.8 879.2h7.9v7.8h-7.9zM1199.4 890.0h7.9v7.8h-7.9zM1221.9 890.0h7.9v7.8h-7.9zM1266.9 890.0h7.9v7.8h-7.9zM1278.2 890.0h7.9v7.8h-7.9zM1300.7 890.0h7.9v7.8h-7.9zM1323.2 890.0h7.9v7.8h-7.9zM1379.5 890.0h7.9v7.8h-7.9zM1390.8 890.0h7.9v7.8h-7.9zM1199.4 900.8h7.9v7.8h-7.9zM1221.9 900.8h7.9v7.8h-7.9zM1266.9 900.8h7.9v7.8h-7.9zM1278.2 900.8h7.9v7.8h-7.9zM1300.7 900.8h7.9v7.8h-7.9zM1323.2 900.8h7.9v7.8h-7.9zM1379.5 900.8h7.9v7.8h-7.9zM1390.8 900.8h7.9v7.8h-7.9zM1199.4 911.6h7.9v7.8h-7.9zM1221.9 911.6h7.9v7.8h-7.9zM1266.9 911.6h7.9v7.8h-7.9zM1278.2 911.6h7.9v7.8h-7.9zM1312.0 911.6h7.9v7.8h-7.9zM1323.2 911.6h7.9v7.8h-7.9zM1368.3 911.6h7.9v7.8h-7.9zM1379.5 911.6h7.9v7.8h-7.9zM1390.8 911.6h7.9v7.8h-7.9zM1402.1 911.6h7.9v7.8h-7.9zM613.9 923.8h7.9v5.0h-7.9zM1199.4 923.8h7.9v5.0h-7.9zM1221.9 923.8h7.9v5.0h-7.9zM1266.9 923.8h7.9v5.0h-7.9zM1312.0 923.8h7.9v5.0h-7.9zM1323.2 923.8h7.9v5.0h-7.9zM1368.3 923.8h7.9v5.0h-7.9zM1379.5 923.8h7.9v5.0h-7.9zM1390.8 923.8h7.9v5.0h-7.9zM1402.1 923.8h7.9v5.0h-7.9zM703.9 933.2h7.9v7.8h-7.9zM1199.4 933.2h7.9v7.8h-7.9zM1266.9 933.2h7.9v7.8h-7.9zM1278.2 933.2h7.9v7.8h-7.9zM1300.7 933.2h7.9v7.8h-7.9zM1323.2 933.2h7.9v7.8h-7.9zM1379.5 933.2h7.9v7.8h-7.9zM1390.8 933.2h7.9v7.8h-7.9zM703.9 944.0h7.9v7.8h-7.9zM715.2 944.0h7.9v7.8h-7.9zM1041.7 944.0h7.9v7.8h-7.9zM1199.4 944.0h7.9v7.8h-7.9zM1210.6 944.0h7.9v7.8h-7.9zM1221.9 944.0h7.9v7.8h-7.9zM1233.2 944.0h7.9v7.8h-7.9zM1244.4 944.0h7.9v7.8h-7.9zM1312.0 944.0h7.9v7.8h-7.9zM1323.2 944.0h7.9v7.8h-7.9zM1345.8 944.0h7.9v7.8h-7.9zM1368.3 944.0h7.9v7.8h-7.9zM1379.5 944.0h7.9v7.8h-7.9zM1402.1 944.0h7.9v7.8h-7.9zM658.9 954.8h7.9v7.8h-7.9zM1199.4 954.8h7.9v7.8h-7.9zM1266.9 954.8h7.9v7.8h-7.9zM1278.2 954.8h7.9v7.8h-7.9zM1300.7 954.8h7.9v7.8h-7.9zM1379.5 954.8h7.9v7.8h-7.9zM1390.8 954.8h7.9v7.8h-7.9zM84.6 965.6h7.9v7.8h-7.9zM95.9 965.6h7.9v7.8h-7.9zM1064.3 965.6h7.9v7.8h-7.9zM1199.4 965.6h7.9v7.8h-7.9zM1210.6 965.6h7.9v7.8h-7.9zM1221.9 965.6h7.9v7.8h-7.9zM1233.2 965.6h7.9v7.8h-7.9zM1312.0 965.6h7.9v7.8h-7.9zM1345.8 965.6h7.9v7.8h-7.9zM1379.5 965.6h7.9v7.8h-7.9zM1402.1 965.6h7.9v7.8h-7.9zM1379.5 1084.4h7.9v7.8h-7.9zM568.8 1127.6h7.9v7.8h-7.9zM95.9 1138.4h7.9v7.8h-7.9zM1312.0 1149.2h7.9v7.8h-7.9zM490.0 1159.9h7.9v7.8h-7.9zM343.6 1235.5h7.9v7.8h-7.9zM366.1 1235.5h7.9v7.8h-7.9zM388.7 1235.5h7.9v7.8h-7.9zM399.9 1235.5h7.9v7.8h-7.9zM411.2 1235.5h7.9v7.8h-7.9zM749.0 1235.5h7.9v7.8h-7.9zM343.6 1247.7h7.9v5.0h-7.9zM388.7 1247.7h7.9v5.0h-7.9zM760.2 1247.7h7.9v5.0h-7.9zM703.9 1267.9h7.9v7.8h-7.9zM703.9 1278.7h7.9v7.8h-7.9zM1064.3 1278.7h7.9v7.8h-7.9zM715.2 1289.5h7.9v7.8h-7.9zM726.5 1289.5h7.9v7.8h-7.9zM1064.3 1289.5h7.9v7.8h-7.9zM1075.5 1289.5h7.9v7.8h-7.9zM321.1 1300.3h7.9v7.8h-7.9zM1266.9 1300.3h7.9v7.8h-7.9zM39.6 1332.7h7.9v7.8h-7.9zM62.1 1332.7h7.9v7.8h-7.9zM73.4 1332.7h7.9v7.8h-7.9zM647.6 1332.7h7.9v7.8h-7.9zM1053.0 1332.7h7.9v7.8h-7.9zM1131.8 1332.7h7.9v7.8h-7.9zM658.9 1343.5h7.9v7.8h-7.9zM197.2 1354.3h7.9v7.8h-7.9zM208.5 1354.3h7.9v7.8h-7.9zM1266.9 1354.3h7.9v7.8h-7.9zM1278.2 1354.3h7.9v7.8h-7.9zM1300.7 1354.3h7.9v7.8h-7.9zM1323.2 1354.3h7.9v7.8h-7.9zM186.0 1377.3h7.9v5.0h-7.9zM602.6 1377.3h7.9v5.0h-7.9zM1086.8 1377.3h7.9v5.0h-7.9zM1233.2 1377.3h7.9v5.0h-7.9zM1244.4 1377.3h7.9v5.0h-7.9zM1266.9 1377.3h7.9v5.0h-7.9zM1289.5 1377.3h7.9v5.0h-7.9zM1300.7 1377.3h7.9v5.0h-7.9zM1323.2 1377.3h7.9v5.0h-7.9zM186.0 1386.7h7.9v7.8h-7.9zM253.5 1386.7h7.9v7.8h-7.9zM613.9 1386.7h7.9v7.8h-7.9zM1312.0 1386.7h7.9v7.8h-7.9zM1323.2 1386.7h7.9v7.8h-7.9zM1323.2 1397.5h7.9v7.8h-7.9zM1312.0 1408.3h7.9v7.8h-7.9zM523.8 1419.1h7.9v7.8h-7.9zM535.0 1419.1h7.9v7.8h-7.9zM872.8 1419.1h7.9v7.8h-7.9zM1210.6 1419.1h7.9v7.8h-7.9zM546.3 1429.9h7.9v7.8h-7.9zM557.6 1442.1h7.9v5.0h-7.9zM568.8 1451.5h7.9v7.8h-7.9zM1390.8 1451.5h7.9v7.8h-7.9zM1402.1 1451.5h7.9v7.8h-7.9zM568.8 1462.3h7.9v7.8h-7.9zM1199.4 1462.3h7.9v7.8h-7.9zM1266.9 1462.3h7.9v7.8h-7.9zM1278.2 1462.3h7.9v7.8h-7.9zM1199.4 1473.1h7.9v7.8h-7.9zM1266.9 1473.1h7.9v7.8h-7.9zM1278.2 1473.1h7.9v7.8h-7.9zM490.0 1483.9h7.9v7.8h-7.9zM501.3 1494.7h7.9v7.8h-7.9zM839.1 1494.7h7.9v7.8h-7.9zM197.2 1506.9h7.9v5.0h-7.9zM208.5 1506.9h7.9v5.0h-7.9zM1278.2 1506.9h7.9v5.0h-7.9zM309.8 1559.4h7.9v7.8h-7.9zM321.1 1559.4h7.9v7.8h-7.9zM343.6 1559.4h7.9v7.8h-7.9zM388.7 1559.4h7.9v7.8h-7.9zM1255.7 1559.4h7.9v7.8h-7.9zM1334.5 1559.4h7.9v7.8h-7.9zM321.1 1571.6h7.9v5.0h-7.9zM366.1 1571.6h7.9v5.0h-7.9zM388.7 1571.6h7.9v5.0h-7.9zM760.2 1571.6h7.9v5.0h-7.9zM309.8 1581.0h7.9v7.8h-7.9zM354.9 1581.0h7.9v7.8h-7.9zM366.1 1581.0h7.9v7.8h-7.9zM388.7 1581.0h7.9v7.8h-7.9zM760.2 1581.0h7.9v7.8h-7.9zM343.6 1591.8h7.9v7.8h-7.9zM366.1 1591.8h7.9v7.8h-7.9zM399.9 1591.8h7.9v7.8h-7.9zM411.2 1591.8h7.9v7.8h-7.9zM422.4 1591.8h7.9v7.8h-7.9zM749.0 1591.8h7.9v7.8h-7.9zM760.2 1591.8h7.9v7.8h-7.9zM332.4 1613.4h7.9v7.8h-7.9zM388.7 1613.4h7.9v7.8h-7.9zM399.9 1613.4h7.9v7.8h-7.9zM411.2 1613.4h7.9v7.8h-7.9zM760.2 1613.4h7.9v7.8h-7.9zM1199.4 1613.4h7.9v7.8h-7.9zM399.9 1624.2h7.9v7.8h-7.9zM388.7 1636.4h7.9v5.0h-7.9zM422.4 1636.4h7.9v5.0h-7.9zM749.0 1636.4h7.9v5.0h-7.9zM760.2 1636.4h7.9v5.0h-7.9zM366.1 1645.8h7.9v7.8h-7.9zM1255.7 1645.8h7.9v7.8h-7.9zM186.0 1656.6h7.9v7.8h-7.9zM253.5 1656.6h7.9v7.8h-7.9zM411.2 1656.6h7.9v7.8h-7.9zM422.4 1656.6h7.9v7.8h-7.9zM692.7 1656.6h7.9v7.8h-7.9zM1143.1 1656.6h7.9v7.8h-7.9zM1199.4 1656.6h7.9v7.8h-7.9zM1233.2 1656.6h7.9v7.8h-7.9zM1255.7 1656.6h7.9v7.8h-7.9zM1312.0 1656.6h7.9v7.8h-7.9zM1323.2 1656.6h7.9v7.8h-7.9zM1345.8 1656.6h7.9v7.8h-7.9zM1368.3 1656.6h7.9v7.8h-7.9zM399.9 1667.4h7.9v7.8h-7.9zM422.4 1667.4h7.9v7.8h-7.9zM1312.0 1667.4h7.9v7.8h-7.9zM1255.7 1678.2h7.9v7.8h-7.9zM1289.5 1678.2h7.9v7.8h-7.9zM1300.7 1678.2h7.9v7.8h-7.9zM1199.4 1689.0h7.9v7.8h-7.9zM1278.2 1689.0h7.9v7.8h-7.9zM186.0 1701.2h7.9v5.0h-7.9zM208.5 1701.2h7.9v5.0h-7.9zM219.8 1701.2h7.9v5.0h-7.9zM231.0 1701.2h7.9v5.0h-7.9zM242.3 1701.2h7.9v5.0h-7.9zM1300.7 1701.2h7.9v5.0h-7.9zM1312.0 1701.2h7.9v5.0h-7.9zM1334.5 1701.2h7.9v5.0h-7.9zM208.5 1710.6h7.9v7.8h-7.9zM231.0 1710.6h7.9v7.8h-7.9zM242.3 1710.6h7.9v7.8h-7.9zM1300.7 1710.6h7.9v7.8h-7.9zM1334.5 1710.6h7.9v7.8h-7.9zM197.2 1721.4h7.9v7.8h-7.9zM231.0 1721.4h7.9v7.8h-7.9zM321.1 1721.4h7.9v7.8h-7.9zM602.6 1721.4h7.9v7.8h-7.9zM1312.0 1721.4h7.9v7.8h-7.9zM1334.5 1721.4h7.9v7.8h-7.9zM186.0 1732.2h7.9v7.8h-7.9zM219.8 1732.2h7.9v7.8h-7.9zM264.8 1732.2h7.9v7.8h-7.9zM276.1 1732.2h7.9v7.8h-7.9zM1345.8 1732.2h7.9v7.8h-7.9zM186.0 1743.0h7.9v7.8h-7.9zM219.8 1743.0h7.9v7.8h-7.9zM253.5 1743.0h7.9v7.8h-7.9zM264.8 1743.0h7.9v7.8h-7.9zM276.1 1743.0h7.9v7.8h-7.9zM1345.8 1743.0h7.9v7.8h-7.9zM231.0 1753.8h7.9v7.8h-7.9zM242.3 1753.8h7.9v7.8h-7.9zM276.1 1753.8h7.9v7.8h-7.9zM1334.5 1753.8h7.9v7.8h-7.9zM264.8 1766.0h7.9v5.0h-7.9zM276.1 1766.0h7.9v5.0h-7.9zM478.7 1766.0h7.9v5.0h-7.9zM636.4 1766.0h7.9v5.0h-7.9zM1289.5 1766.0h7.9v5.0h-7.9zM1357.0 1766.0h7.9v5.0h-7.9zM253.5 1775.4h7.9v7.8h-7.9zM478.7 1775.4h7.9v7.8h-7.9zM636.4 1775.4h7.9v7.8h-7.9zM1289.5 1775.4h7.9v7.8h-7.9zM1334.5 1775.4h7.9v7.8h-7.9zM231.0 1786.2h7.9v7.8h-7.9zM242.3 1786.2h7.9v7.8h-7.9zM276.1 1786.2h7.9v7.8h-7.9zM321.1 1786.2h7.9v7.8h-7.9zM602.6 1786.2h7.9v7.8h-7.9zM613.9 1786.2h7.9v7.8h-7.9zM1266.9 1786.2h7.9v7.8h-7.9zM1300.7 1786.2h7.9v7.8h-7.9zM1312.0 1786.2h7.9v7.8h-7.9zM1323.2 1786.2h7.9v7.8h-7.9zM1334.5 1786.2h7.9v7.8h-7.9zM1357.0 1786.2h7.9v7.8h-7.9zM129.7 1818.6h7.9v7.8h-7.9zM152.2 1840.2h7.9v7.8h-7.9zM861.6 1872.6h7.9v7.8h-7.9zM1041.7 1872.6h7.9v7.8h-7.9zM1323.2 1872.6h7.9v7.8h-7.9zM1041.7 1883.3h7.9v7.8h-7.9zM1323.2 1883.3h7.9v7.8h-7.9zM658.9 1895.5h7.9v5.0h-7.9zM1323.2 1895.5h7.9v5.0h-7.9zM658.9 1904.9h7.9v7.8h-7.9zM1323.2 1904.9h7.9v7.8h-7.9zM1323.2 1915.7h7.9v7.8h-7.9zM658.9 1926.5h7.9v7.8h-7.9zM1323.2 1926.5h7.9v7.8h-7.9z"/><path fill="#f59d8a" d="M1053.0 620.1h7.9v7.8h-7.9zM1075.5 620.1h7.9v7.8h-7.9zM1109.3 620.1h7.9v7.8h-7.9zM1120.6 620.1h7.9v7.8h-7.9zM1131.8 620.1h7.9v7.8h-7.9zM1143.1 620.1h7.9v7.8h-7.9zM1154.3 620.1h7.9v7.8h-7.9zM1176.9 620.1h7.9v7.8h-7.9zM1188.1 620.1h7.9v7.8h-7.9zM1300.7 620.1h7.9v7.8h-7.9zM1334.5 620.1h7.9v7.8h-7.9zM1390.8 620.1h7.9v7.8h-7.9zM208.5 630.9h7.9v7.8h-7.9zM1199.4 630.9h7.9v7.8h-7.9zM1210.6 630.9h7.9v7.8h-7.9zM1300.7 630.9h7.9v7.8h-7.9zM1402.1 630.9h7.9v7.8h-7.9zM1041.7 652.5h7.9v7.8h-7.9zM1053.0 652.5h7.9v7.8h-7.9zM1075.5 652.5h7.9v7.8h-7.9zM1109.3 652.5h7.9v7.8h-7.9zM1120.6 652.5h7.9v7.8h-7.9zM1131.8 652.5h7.9v7.8h-7.9zM1143.1 652.5h7.9v7.8h-7.9zM1154.3 652.5h7.9v7.8h-7.9zM1165.6 652.5h7.9v7.8h-7.9zM1176.9 652.5h7.9v7.8h-7.9zM1188.1 652.5h7.9v7.8h-7.9zM186.0 674.1h7.9v7.8h-7.9zM208.5 674.1h7.9v7.8h-7.9zM253.5 674.1h7.9v7.8h-7.9zM1053.0 674.1h7.9v7.8h-7.9zM1075.5 674.1h7.9v7.8h-7.9zM1086.8 674.1h7.9v7.8h-7.9zM1098.0 674.1h7.9v7.8h-7.9zM1109.3 674.1h7.9v7.8h-7.9zM1120.6 674.1h7.9v7.8h-7.9zM1131.8 674.1h7.9v7.8h-7.9zM1143.1 674.1h7.9v7.8h-7.9zM1154.3 674.1h7.9v7.8h-7.9zM1165.6 674.1h7.9v7.8h-7.9zM1176.9 674.1h7.9v7.8h-7.9zM1188.1 674.1h7.9v7.8h-7.9zM1334.5 674.1h7.9v7.8h-7.9zM535.0 684.9h7.9v7.8h-7.9zM1300.7 684.9h7.9v7.8h-7.9zM1345.8 684.9h7.9v7.8h-7.9zM1402.1 684.9h7.9v7.8h-7.9zM1041.7 695.7h7.9v7.8h-7.9zM1300.7 695.7h7.9v7.8h-7.9zM1312.0 695.7h7.9v7.8h-7.9zM613.9 706.5h7.9v7.8h-7.9zM636.4 706.5h7.9v7.8h-7.9zM1053.0 706.5h7.9v7.8h-7.9zM1075.5 706.5h7.9v7.8h-7.9zM1109.3 706.5h7.9v7.8h-7.9zM1120.6 706.5h7.9v7.8h-7.9zM1131.8 706.5h7.9v7.8h-7.9zM1143.1 706.5h7.9v7.8h-7.9zM1154.3 706.5h7.9v7.8h-7.9zM1165.6 706.5h7.9v7.8h-7.9zM1176.9 706.5h7.9v7.8h-7.9zM1188.1 706.5h7.9v7.8h-7.9zM1300.7 706.5h7.9v7.8h-7.9zM1323.2 706.5h7.9v7.8h-7.9zM1041.7 717.3h7.9v7.8h-7.9zM1221.9 717.3h7.9v7.8h-7.9zM1244.4 717.3h7.9v7.8h-7.9zM1255.7 717.3h7.9v7.8h-7.9zM1266.9 717.3h7.9v7.8h-7.9zM1278.2 717.3h7.9v7.8h-7.9zM1312.0 717.3h7.9v7.8h-7.9zM1323.2 717.3h7.9v7.8h-7.9zM1334.5 717.3h7.9v7.8h-7.9zM1390.8 717.3h7.9v7.8h-7.9zM1402.1 717.3h7.9v7.8h-7.9zM1266.9 729.5h7.9v5.0h-7.9zM1278.2 729.5h7.9v5.0h-7.9zM186.0 738.9h7.9v7.8h-7.9zM197.2 738.9h7.9v7.8h-7.9zM208.5 738.9h7.9v7.8h-7.9zM321.1 738.9h7.9v7.8h-7.9zM613.9 738.9h7.9v7.8h-7.9zM1086.8 738.9h7.9v7.8h-7.9zM1210.6 738.9h7.9v7.8h-7.9zM1233.2 738.9h7.9v7.8h-7.9zM1244.4 738.9h7.9v7.8h-7.9zM1255.7 738.9h7.9v7.8h-7.9zM1289.5 738.9h7.9v7.8h-7.9zM1300.7 738.9h7.9v7.8h-7.9zM321.1 749.7h7.9v7.8h-7.9zM1210.6 749.7h7.9v7.8h-7.9zM1221.9 749.7h7.9v7.8h-7.9zM1233.2 749.7h7.9v7.8h-7.9zM1244.4 749.7h7.9v7.8h-7.9zM1289.5 749.7h7.9v7.8h-7.9zM1300.7 749.7h7.9v7.8h-7.9zM692.7 760.5h7.9v7.8h-7.9zM1041.7 760.5h7.9v7.8h-7.9zM1199.4 760.5h7.9v7.8h-7.9zM1233.2 760.5h7.9v7.8h-7.9zM1278.2 760.5h7.9v7.8h-7.9zM1300.7 760.5h7.9v7.8h-7.9zM1041.7 771.3h7.9v7.8h-7.9zM1053.0 771.3h7.9v7.8h-7.9zM1075.5 771.3h7.9v7.8h-7.9zM1086.8 771.3h7.9v7.8h-7.9zM1098.0 771.3h7.9v7.8h-7.9zM1109.3 771.3h7.9v7.8h-7.9zM1120.6 771.3h7.9v7.8h-7.9zM1131.8 771.3h7.9v7.8h-7.9zM1143.1 771.3h7.9v7.8h-7.9zM1154.3 771.3h7.9v7.8h-7.9zM1165.6 771.3h7.9v7.8h-7.9zM1176.9 771.3h7.9v7.8h-7.9zM1188.1 771.3h7.9v7.8h-7.9zM1210.6 771.3h7.9v7.8h-7.9zM1266.9 771.3h7.9v7.8h-7.9zM1278.2 771.3h7.9v7.8h-7.9zM1300.7 771.3h7.9v7.8h-7.9zM1053.0 782.1h7.9v7.8h-7.9zM1075.5 782.1h7.9v7.8h-7.9zM1086.8 782.1h7.9v7.8h-7.9zM1098.0 782.1h7.9v7.8h-7.9zM1109.3 782.1h7.9v7.8h-7.9zM1120.6 782.1h7.9v7.8h-7.9zM1131.8 782.1h7.9v7.8h-7.9zM1143.1 782.1h7.9v7.8h-7.9zM1154.3 782.1h7.9v7.8h-7.9zM1165.6 782.1h7.9v7.8h-7.9zM1176.9 782.1h7.9v7.8h-7.9zM1188.1 782.1h7.9v7.8h-7.9zM1255.7 782.1h7.9v7.8h-7.9zM1266.9 782.1h7.9v7.8h-7.9zM1278.2 782.1h7.9v7.8h-7.9zM332.4 794.3h7.9v5.0h-7.9zM1053.0 794.3h7.9v5.0h-7.9zM1075.5 794.3h7.9v5.0h-7.9zM1266.9 794.3h7.9v5.0h-7.9zM1300.7 794.3h7.9v5.0h-7.9zM512.5 803.6h7.9v7.8h-7.9zM523.8 803.6h7.9v7.8h-7.9zM1053.0 803.6h7.9v7.8h-7.9zM1075.5 803.6h7.9v7.8h-7.9zM1086.8 803.6h7.9v7.8h-7.9zM1098.0 803.6h7.9v7.8h-7.9zM1109.3 803.6h7.9v7.8h-7.9zM1120.6 803.6h7.9v7.8h-7.9zM1131.8 803.6h7.9v7.8h-7.9zM1143.1 803.6h7.9v7.8h-7.9zM1154.3 803.6h7.9v7.8h-7.9zM1165.6 803.6h7.9v7.8h-7.9zM1176.9 803.6h7.9v7.8h-7.9zM1188.1 803.6h7.9v7.8h-7.9zM1244.4 803.6h7.9v7.8h-7.9zM1266.9 803.6h7.9v7.8h-7.9zM1278.2 803.6h7.9v7.8h-7.9zM1390.8 803.6h7.9v7.8h-7.9zM1255.7 814.4h7.9v7.8h-7.9zM1390.8 814.4h7.9v7.8h-7.9zM1041.7 825.2h7.9v7.8h-7.9zM1086.8 825.2h7.9v7.8h-7.9zM1098.0 825.2h7.9v7.8h-7.9zM1210.6 825.2h7.9v7.8h-7.9zM1233.2 825.2h7.9v7.8h-7.9zM1244.4 825.2h7.9v7.8h-7.9zM1312.0 825.2h7.9v7.8h-7.9zM1345.8 825.2h7.9v7.8h-7.9zM1368.3 825.2h7.9v7.8h-7.9zM1402.1 825.2h7.9v7.8h-7.9zM1041.7 836.0h7.9v7.8h-7.9zM1086.8 836.0h7.9v7.8h-7.9zM1098.0 836.0h7.9v7.8h-7.9zM1210.6 836.0h7.9v7.8h-7.9zM1233.2 836.0h7.9v7.8h-7.9zM1244.4 836.0h7.9v7.8h-7.9zM1312.0 836.0h7.9v7.8h-7.9zM1345.8 836.0h7.9v7.8h-7.9zM1368.3 836.0h7.9v7.8h-7.9zM1402.1 836.0h7.9v7.8h-7.9zM1041.7 846.8h7.9v7.8h-7.9zM1086.8 846.8h7.9v7.8h-7.9zM1098.0 846.8h7.9v7.8h-7.9zM1210.6 846.8h7.9v7.8h-7.9zM1233.2 846.8h7.9v7.8h-7.9zM1244.4 846.8h7.9v7.8h-7.9zM1312.0 846.8h7.9v7.8h-7.9zM1345.8 846.8h7.9v7.8h-7.9zM1368.3 846.8h7.9v7.8h-7.9zM501.3 859.0h7.9v5.0h-7.9zM1041.7 859.0h7.9v5.0h-7.9zM1086.8 859.0h7.9v5.0h-7.9zM1098.0 859.0h7.9v5.0h-7.9zM1210.6 859.0h7.9v5.0h-7.9zM1233.2 859.0h7.9v5.0h-7.9zM1244.4 859.0h7.9v5.0h-7.9zM1312.0 859.0h7.9v5.0h-7.9zM1345.8 859.0h7.9v5.0h-7.9zM1368.3 859.0h7.9v5.0h-7.9zM1402.1 859.0h7.9v5.0h-7.9zM861.6 868.4h7.9v7.8h-7.9zM1041.7 868.4h7.9v7.8h-7.9zM1086.8 868.4h7.9v7.8h-7.9zM1098.0 868.4h7.9v7.8h-7.9zM1210.6 868.4h7.9v7.8h-7.9zM1233.2 868.4h7.9v7.8h-7.9zM1244.4 868.4h7.9v7.8h-7.9zM1312.0 868.4h7.9v7.8h-7.9zM1345.8 868.4h7.9v7.8h-7.9zM1368.3 868.4h7.9v7.8h-7.9zM1402.1 868.4h7.9v7.8h-7.9zM1086.8 879.2h7.9v7.8h-7.9zM1098.0 879.2h7.9v7.8h-7.9zM1210.6 879.2h7.9v7.8h-7.9zM1233.2 879.2h7.9v7.8h-7.9zM1244.4 879.2h7.9v7.8h-7.9zM1312.0 879.2h7.9v7.8h-7.9zM1345.8 879.2h7.9v7.8h-7.9zM1368.3 879.2h7.9v7.8h-7.9zM1402.1 879.2h7.9v7.8h-7.9zM1041.7 890.0h7.9v7.8h-7.9zM1086.8 890.0h7.9v7.8h-7.9zM1098.0 890.0h7.9v7.8h-7.9zM1210.6 890.0h7.9v7.8h-7.9zM1233.2 890.0h7.9v7.8h-7.9zM1244.4 890.0h7.9v7.8h-7.9zM1312.0 890.0h7.9v7.8h-7.9zM1345.8 890.0h7.9v7.8h-7.9zM1368.3 890.0h7.9v7.8h-7.9zM1402.1 890.0h7.9v7.8h-7.9zM1041.7 900.8h7.9v7.8h-7.9zM1086.8 900.8h7.9v7.8h-7.9zM1098.0 900.8h7.9v7.8h-7.9zM1210.6 900.8h7.9v7.8h-7.9zM1233.2 900.8h7.9v7.8h-7.9zM1244.4 900.8h7.9v7.8h-7.9zM1312.0 900.8h7.9v7.8h-7.9zM1345.8 900.8h7.9v7.8h-7.9zM1368.3 900.8h7.9v7.8h-7.9zM1402.1 900.8h7.9v7.8h-7.9zM1041.7 911.6h7.9v7.8h-7.9zM1053.0 911.6h7.9v7.8h-7.9zM1075.5 911.6h7.9v7.8h-7.9zM1109.3 911.6h7.9v7.8h-7.9zM1120.6 911.6h7.9v7.8h-7.9zM1131.8 911.6h7.9v7.8h-7.9zM1143.1 911.6h7.9v7.8h-7.9zM1154.3 911.6h7.9v7.8h-7.9zM1165.6 911.6h7.9v7.8h-7.9zM1176.9 911.6h7.9v7.8h-7.9zM1188.1 911.6h7.9v7.8h-7.9zM1210.6 911.6h7.9v7.8h-7.9zM1233.2 911.6h7.9v7.8h-7.9zM1244.4 911.6h7.9v7.8h-7.9zM1345.8 911.6h7.9v7.8h-7.9zM50.9 923.8h7.9v5.0h-7.9zM186.0 923.8h7.9v5.0h-7.9zM490.0 923.8h7.9v5.0h-7.9zM501.3 923.8h7.9v5.0h-7.9zM1041.7 923.8h7.9v5.0h-7.9zM1053.0 923.8h7.9v5.0h-7.9zM1075.5 923.8h7.9v5.0h-7.9zM1109.3 923.8h7.9v5.0h-7.9zM1120.6 923.8h7.9v5.0h-7.9zM1131.8 923.8h7.9v5.0h-7.9zM1143.1 923.8h7.9v5.0h-7.9zM1154.3 923.8h7.9v5.0h-7.9zM1165.6 923.8h7.9v5.0h-7.9zM1176.9 923.8h7.9v5.0h-7.9zM1188.1 923.8h7.9v5.0h-7.9zM1210.6 923.8h7.9v5.0h-7.9zM1233.2 923.8h7.9v5.0h-7.9zM1244.4 923.8h7.9v5.0h-7.9zM1278.2 923.8h7.9v5.0h-7.9zM1345.8 923.8h7.9v5.0h-7.9zM715.2 933.2h7.9v7.8h-7.9zM1041.7 933.2h7.9v7.8h-7.9zM1086.8 933.2h7.9v7.8h-7.9zM1098.0 933.2h7.9v7.8h-7.9zM1210.6 933.2h7.9v7.8h-7.9zM1221.9 933.2h7.9v7.8h-7.9zM1233.2 933.2h7.9v7.8h-7.9zM1244.4 933.2h7.9v7.8h-7.9zM1312.0 933.2h7.9v7.8h-7.9zM1345.8 933.2h7.9v7.8h-7.9zM1368.3 933.2h7.9v7.8h-7.9zM1402.1 933.2h7.9v7.8h-7.9zM1053.0 944.0h7.9v7.8h-7.9zM50.9 954.8h7.9v7.8h-7.9zM84.6 954.8h7.9v7.8h-7.9zM95.9 954.8h7.9v7.8h-7.9zM1064.3 954.8h7.9v7.8h-7.9zM1086.8 954.8h7.9v7.8h-7.9zM1098.0 954.8h7.9v7.8h-7.9zM1210.6 954.8h7.9v7.8h-7.9zM1221.9 954.8h7.9v7.8h-7.9zM1233.2 954.8h7.9v7.8h-7.9zM1244.4 954.8h7.9v7.8h-7.9zM1312.0 954.8h7.9v7.8h-7.9zM1345.8 954.8h7.9v7.8h-7.9zM1368.3 954.8h7.9v7.8h-7.9zM1402.1 954.8h7.9v7.8h-7.9zM39.6 965.6h7.9v7.8h-7.9zM50.9 965.6h7.9v7.8h-7.9zM62.1 965.6h7.9v7.8h-7.9zM73.4 965.6h7.9v7.8h-7.9zM658.9 965.6h7.9v7.8h-7.9zM1075.5 965.6h7.9v7.8h-7.9zM1086.8 965.6h7.9v7.8h-7.9zM1098.0 965.6h7.9v7.8h-7.9zM1109.3 965.6h7.9v7.8h-7.9zM1120.6 965.6h7.9v7.8h-7.9zM1143.1 965.6h7.9v7.8h-7.9zM1154.3 965.6h7.9v7.8h-7.9zM1165.6 965.6h7.9v7.8h-7.9zM1176.9 965.6h7.9v7.8h-7.9zM1188.1 965.6h7.9v7.8h-7.9zM1244.4 965.6h7.9v7.8h-7.9zM1255.7 965.6h7.9v7.8h-7.9zM1300.7 965.6h7.9v7.8h-7.9zM1323.2 965.6h7.9v7.8h-7.9zM1368.3 965.6h7.9v7.8h-7.9zM625.1 1127.6h7.9v7.8h-7.9zM1143.1 1138.4h7.9v7.8h-7.9zM827.8 1149.2h7.9v7.8h-7.9zM839.1 1149.2h7.9v7.8h-7.9zM827.8 1159.9h7.9v7.8h-7.9zM850.3 1159.9h7.9v7.8h-7.9zM839.1 1170.7h7.9v7.8h-7.9zM850.3 1170.7h7.9v7.8h-7.9zM366.1 1247.7h7.9v5.0h-7.9zM715.2 1267.9h7.9v7.8h-7.9zM726.5 1278.7h7.9v7.8h-7.9zM1075.5 1278.7h7.9v7.8h-7.9zM670.2 1300.3h7.9v7.8h-7.9zM681.4 1300.3h7.9v7.8h-7.9zM1255.7 1300.3h7.9v7.8h-7.9zM523.8 1312.5h7.9v5.0h-7.9zM692.7 1312.5h7.9v5.0h-7.9zM692.7 1321.9h7.9v7.8h-7.9zM1041.7 1332.7h7.9v7.8h-7.9zM523.8 1343.5h7.9v7.8h-7.9zM580.1 1354.3h7.9v7.8h-7.9zM1312.0 1354.3h7.9v7.8h-7.9zM872.8 1365.1h7.9v7.8h-7.9zM1278.2 1377.3h7.9v5.0h-7.9zM1312.0 1377.3h7.9v5.0h-7.9zM636.4 1408.3h7.9v7.8h-7.9zM512.5 1419.1h7.9v7.8h-7.9zM546.3 1419.1h7.9v7.8h-7.9zM568.8 1442.1h7.9v5.0h-7.9zM208.5 1451.5h7.9v7.8h-7.9zM1334.5 1451.5h7.9v7.8h-7.9zM512.5 1462.3h7.9v7.8h-7.9zM647.6 1462.3h7.9v7.8h-7.9zM681.4 1462.3h7.9v7.8h-7.9zM1210.6 1462.3h7.9v7.8h-7.9zM523.8 1473.1h7.9v7.8h-7.9zM568.8 1473.1h7.9v7.8h-7.9zM1210.6 1473.1h7.9v7.8h-7.9zM478.7 1483.9h7.9v7.8h-7.9zM1086.8 1483.9h7.9v7.8h-7.9zM1154.3 1483.9h7.9v7.8h-7.9zM478.7 1494.7h7.9v7.8h-7.9zM1086.8 1494.7h7.9v7.8h-7.9zM490.0 1506.9h7.9v5.0h-7.9zM501.3 1506.9h7.9v5.0h-7.9zM50.9 1527.0h7.9v7.8h-7.9zM309.8 1571.6h7.9v5.0h-7.9zM343.6 1571.6h7.9v5.0h-7.9zM321.1 1581.0h7.9v7.8h-7.9zM343.6 1581.0h7.9v7.8h-7.9zM749.0 1613.4h7.9v7.8h-7.9zM399.9 1636.4h7.9v5.0h-7.9zM411.2 1636.4h7.9v5.0h-7.9zM1221.9 1645.8h7.9v7.8h-7.9zM197.2 1656.6h7.9v7.8h-7.9zM399.9 1656.6h7.9v7.8h-7.9zM1266.9 1656.6h7.9v7.8h-7.9zM1278.2 1656.6h7.9v7.8h-7.9zM411.2 1667.4h7.9v7.8h-7.9zM197.2 1701.2h7.9v5.0h-7.9zM253.5 1701.2h7.9v5.0h-7.9zM253.5 1710.6h7.9v7.8h-7.9zM186.0 1721.4h7.9v7.8h-7.9zM264.8 1721.4h7.9v7.8h-7.9zM276.1 1721.4h7.9v7.8h-7.9zM1345.8 1721.4h7.9v7.8h-7.9zM231.0 1732.2h7.9v7.8h-7.9zM242.3 1743.0h7.9v7.8h-7.9zM535.0 1766.0h7.9v5.0h-7.9zM1278.2 1766.0h7.9v5.0h-7.9zM1345.8 1766.0h7.9v5.0h-7.9zM1390.8 1766.0h7.9v5.0h-7.9zM276.1 1775.4h7.9v7.8h-7.9zM321.1 1775.4h7.9v7.8h-7.9zM1278.2 1775.4h7.9v7.8h-7.9zM253.5 1786.2h7.9v7.8h-7.9zM1086.8 1786.2h7.9v7.8h-7.9zM1278.2 1786.2h7.9v7.8h-7.9zM1345.8 1786.2h7.9v7.8h-7.9zM152.2 1807.8h7.9v7.8h-7.9zM163.5 1818.6h7.9v7.8h-7.9zM1053.0 1872.6h7.9v7.8h-7.9zM1053.0 1883.3h7.9v7.8h-7.9zM1041.7 1895.5h7.9v5.0h-7.9zM50.9 1904.9h7.9v7.8h-7.9zM1041.7 1904.9h7.9v7.8h-7.9zM39.6 1915.7h7.9v7.8h-7.9zM62.1 1915.7h7.9v7.8h-7.9zM456.2 1915.7h7.9v7.8h-7.9zM1041.7 1915.7h7.9v7.8h-7.9zM1053.0 1915.7h7.9v7.8h-7.9zM1086.8 1915.7h7.9v7.8h-7.9zM50.9 1926.5h7.9v7.8h-7.9zM1041.7 1926.5h7.9v7.8h-7.9z"/><path fill="#f6cfb8" d="M1199.4 620.1h7.9v7.8h-7.9zM1233.2 630.9h7.9v7.8h-7.9zM1210.6 641.7h7.9v7.8h-7.9zM1233.2 641.7h7.9v7.8h-7.9zM1244.4 641.7h7.9v7.8h-7.9zM1210.6 652.5h7.9v7.8h-7.9zM1221.9 652.5h7.9v7.8h-7.9zM1199.4 674.1h7.9v7.8h-7.9zM1210.6 674.1h7.9v7.8h-7.9zM1221.9 674.1h7.9v7.8h-7.9zM1199.4 695.7h7.9v7.8h-7.9zM1221.9 695.7h7.9v7.8h-7.9zM1210.6 706.5h7.9v7.8h-7.9zM1210.6 760.5h7.9v7.8h-7.9zM1379.5 771.3h7.9v7.8h-7.9zM1379.5 782.1h7.9v7.8h-7.9zM1390.8 782.1h7.9v7.8h-7.9zM1323.2 794.3h7.9v5.0h-7.9zM1345.8 794.3h7.9v5.0h-7.9zM1368.3 794.3h7.9v5.0h-7.9zM1255.7 803.6h7.9v7.8h-7.9zM1312.0 803.6h7.9v7.8h-7.9zM1345.8 803.6h7.9v7.8h-7.9zM1368.3 803.6h7.9v7.8h-7.9zM1379.5 803.6h7.9v7.8h-7.9zM1323.2 814.4h7.9v7.8h-7.9zM1345.8 814.4h7.9v7.8h-7.9zM1402.1 814.4h7.9v7.8h-7.9zM591.3 1377.3h7.9v5.0h-7.9zM613.9 1397.5h7.9v7.8h-7.9zM377.4 1559.4h7.9v7.8h-7.9zM377.4 1571.6h7.9v5.0h-7.9zM411.2 1602.6h7.9v7.8h-7.9zM422.4 1602.6h7.9v7.8h-7.9zM152.2 1624.2h7.9v7.8h-7.9zM152.2 1636.4h7.9v5.0h-7.9zM152.2 1645.8h7.9v7.8h-7.9zM242.3 1656.6h7.9v7.8h-7.9zM276.1 1656.6h7.9v7.8h-7.9zM321.1 1701.2h7.9v5.0h-7.9zM242.3 1721.4h7.9v7.8h-7.9zM253.5 1732.2h7.9v7.8h-7.9zM321.1 1732.2h7.9v7.8h-7.9zM129.7 1797.0h7.9v7.8h-7.9zM140.9 1818.6h7.9v7.8h-7.9zM332.4 1818.6h7.9v7.8h-7.9zM343.6 1818.6h7.9v7.8h-7.9zM354.9 1818.6h7.9v7.8h-7.9zM152.2 1830.8h7.9v5.0h-7.9zM174.7 1840.2h7.9v7.8h-7.9z"/><path fill="#ae2428" d="M1402.1 620.1h7.9v7.8h-7.9zM1390.8 630.9h7.9v7.8h-7.9zM1379.5 641.7h7.9v7.8h-7.9zM1368.3 652.5h7.9v7.8h-7.9zM1357.0 664.7h7.9v5.0h-7.9zM1345.8 674.1h7.9v7.8h-7.9zM1334.5 684.9h7.9v7.8h-7.9zM1323.2 695.7h7.9v7.8h-7.9zM1312.0 706.5h7.9v7.8h-7.9zM1300.7 717.3h7.9v7.8h-7.9zM1289.5 729.5h7.9v5.0h-7.9zM1278.2 738.9h7.9v7.8h-7.9zM1266.9 749.7h7.9v7.8h-7.9zM1255.7 760.5h7.9v7.8h-7.9zM1244.4 771.3h7.9v7.8h-7.9zM1233.2 782.1h7.9v7.8h-7.9zM1221.9 794.3h7.9v5.0h-7.9zM1210.6 803.6h7.9v7.8h-7.9zM1199.4 814.4h7.9v7.8h-7.9zM1188.1 825.2h7.9v7.8h-7.9zM1176.9 836.0h7.9v7.8h-7.9zM1165.6 846.8h7.9v7.8h-7.9zM1154.3 859.0h7.9v5.0h-7.9zM1143.1 868.4h7.9v7.8h-7.9zM1131.8 879.2h7.9v7.8h-7.9zM1120.6 890.0h7.9v7.8h-7.9zM1109.3 900.8h7.9v7.8h-7.9zM1098.0 911.6h7.9v7.8h-7.9zM1086.8 923.8h7.9v5.0h-7.9zM1075.5 933.2h7.9v7.8h-7.9zM1064.3 944.0h7.9v7.8h-7.9zM1053.0 954.8h7.9v7.8h-7.9zM1041.7 965.6h7.9v7.8h-7.9zM1030.5 976.4h7.9v7.8h-7.9zM1019.2 988.6h7.9v5.0h-7.9zM1008.0 998.0h7.9v7.8h-7.9zM996.7 1008.8h7.9v7.8h-7.9zM985.4 1019.6h7.9v7.8h-7.9zM974.2 1030.4h7.9v7.8h-7.9zM962.9 1041.2h7.9v7.8h-7.9zM951.7 1053.4h7.9v5.0h-7.9zM940.4 1062.8h7.9v7.8h-7.9zM929.1 1073.6h7.9v7.8h-7.9zM917.9 1084.4h7.9v7.8h-7.9zM906.6 1095.2h7.9v7.8h-7.9zM895.4 1106.0h7.9v7.8h-7.9zM884.1 1118.2h7.9v5.0h-7.9zM872.8 1127.6h7.9v7.8h-7.9zM861.6 1138.4h7.9v7.8h-7.9zM850.3 1149.2h7.9v7.8h-7.9zM839.1 1159.9h7.9v7.8h-7.9zM827.8 1170.7h7.9v7.8h-7.9zM816.5 1182.9h7.9v5.0h-7.9zM805.3 1192.3h7.9v7.8h-7.9zM794.0 1203.1h7.9v7.8h-7.9zM782.8 1213.9h7.9v7.8h-7.9zM771.5 1224.7h7.9v7.8h-7.9zM760.2 1235.5h7.9v7.8h-7.9zM749.0 1247.7h7.9v5.0h-7.9zM737.7 1257.1h7.9v7.8h-7.9zM726.5 1267.9h7.9v7.8h-7.9zM715.2 1278.7h7.9v7.8h-7.9zM703.9 1289.5h7.9v7.8h-7.9zM692.7 1300.3h7.9v7.8h-7.9zM681.4 1312.5h7.9v5.0h-7.9zM670.2 1321.9h7.9v7.8h-7.9zM658.9 1332.7h7.9v7.8h-7.9zM647.6 1343.5h7.9v7.8h-7.9zM636.4 1354.3h7.9v7.8h-7.9zM625.1 1365.1h7.9v7.8h-7.9zM613.9 1377.3h7.9v5.0h-7.9zM602.6 1386.7h7.9v7.8h-7.9zM591.3 1397.5h7.9v7.8h-7.9zM580.1 1408.3h7.9v7.8h-7.9zM568.8 1419.1h7.9v7.8h-7.9zM557.6 1429.9h7.9v7.8h-7.9zM546.3 1442.1h7.9v5.0h-7.9zM535.0 1451.5h7.9v7.8h-7.9zM523.8 1462.3h7.9v7.8h-7.9zM512.5 1473.1h7.9v7.8h-7.9zM501.3 1483.9h7.9v7.8h-7.9zM490.0 1494.7h7.9v7.8h-7.9zM478.7 1506.9h7.9v5.0h-7.9zM467.5 1516.3h7.9v7.8h-7.9zM456.2 1527.0h7.9v7.8h-7.9zM445.0 1537.8h7.9v7.8h-7.9zM433.7 1548.6h7.9v7.8h-7.9zM422.4 1559.4h7.9v7.8h-7.9zM411.2 1571.6h7.9v5.0h-7.9zM399.9 1581.0h7.9v7.8h-7.9zM388.7 1591.8h7.9v7.8h-7.9zM377.4 1602.6h7.9v7.8h-7.9zM366.1 1613.4h7.9v7.8h-7.9zM354.9 1624.2h7.9v7.8h-7.9zM343.6 1636.4h7.9v5.0h-7.9zM332.4 1645.8h7.9v7.8h-7.9zM321.1 1656.6h7.9v7.8h-7.9zM309.8 1667.4h7.9v7.8h-7.9zM298.6 1678.2h7.9v7.8h-7.9zM287.3 1689.0h7.9v7.8h-7.9zM276.1 1701.2h7.9v5.0h-7.9zM264.8 1710.6h7.9v7.8h-7.9zM253.5 1721.4h7.9v7.8h-7.9zM242.3 1732.2h7.9v7.8h-7.9zM231.0 1743.0h7.9v7.8h-7.9zM219.8 1753.8h7.9v7.8h-7.9zM208.5 1766.0h7.9v5.0h-7.9zM197.2 1775.4h7.9v7.8h-7.9zM186.0 1786.2h7.9v7.8h-7.9zM174.7 1797.0h7.9v7.8h-7.9zM163.5 1807.8h7.9v7.8h-7.9zM152.2 1818.6h7.9v7.8h-7.9zM140.9 1830.8h7.9v5.0h-7.9zM129.7 1840.2h7.9v7.8h-7.9zM107.2 1851.0h7.9v7.8h-7.9zM118.4 1851.0h7.9v7.8h-7.9zM107.2 1861.8h7.9v7.8h-7.9zM118.4 1861.8h7.9v7.8h-7.9zM84.6 1872.6h7.9v7.8h-7.9zM95.9 1872.6h7.9v7.8h-7.9zM84.6 1883.3h7.9v7.8h-7.9zM95.9 1883.3h7.9v7.8h-7.9zM62.1 1895.5h7.9v5.0h-7.9zM73.4 1895.5h7.9v5.0h-7.9zM62.1 1904.9h7.9v7.8h-7.9zM73.4 1904.9h7.9v7.8h-7.9zM50.9 1915.7h7.9v7.8h-7.9zM39.6 1926.5h7.9v7.8h-7.9z"/><path fill="#f5b09a" d="M1357.0 652.5h7.9v7.8h-7.9zM1368.3 664.7h7.9v5.0h-7.9zM1244.4 674.1h7.9v7.8h-7.9zM1266.9 695.7h7.9v7.8h-7.9zM1278.2 695.7h7.9v7.8h-7.9zM1266.9 706.5h7.9v7.8h-7.9zM1278.2 706.5h7.9v7.8h-7.9zM1233.2 717.3h7.9v7.8h-7.9zM1233.2 729.5h7.9v5.0h-7.9zM1244.4 729.5h7.9v5.0h-7.9zM1312.0 738.9h7.9v7.8h-7.9zM1323.2 738.9h7.9v7.8h-7.9zM1312.0 749.7h7.9v7.8h-7.9zM1323.2 749.7h7.9v7.8h-7.9zM1244.4 760.5h7.9v7.8h-7.9zM1255.7 771.3h7.9v7.8h-7.9zM1289.5 771.3h7.9v7.8h-7.9zM1345.8 771.3h7.9v7.8h-7.9zM1210.6 782.1h7.9v7.8h-7.9zM1289.5 782.1h7.9v7.8h-7.9zM1300.7 782.1h7.9v7.8h-7.9zM1233.2 803.6h7.9v7.8h-7.9zM1064.3 825.2h7.9v7.8h-7.9zM1064.3 836.0h7.9v7.8h-7.9zM1064.3 846.8h7.9v7.8h-7.9zM1064.3 859.0h7.9v5.0h-7.9zM1064.3 868.4h7.9v7.8h-7.9zM1064.3 879.2h7.9v7.8h-7.9zM1064.3 890.0h7.9v7.8h-7.9zM1064.3 900.8h7.9v7.8h-7.9zM1064.3 911.6h7.9v7.8h-7.9zM1086.8 911.6h7.9v7.8h-7.9zM1064.3 923.8h7.9v5.0h-7.9zM1098.0 923.8h7.9v5.0h-7.9zM1086.8 944.0h7.9v7.8h-7.9zM1098.0 944.0h7.9v7.8h-7.9zM1109.3 944.0h7.9v7.8h-7.9zM1120.6 944.0h7.9v7.8h-7.9zM1131.8 944.0h7.9v7.8h-7.9zM1143.1 944.0h7.9v7.8h-7.9zM1154.3 944.0h7.9v7.8h-7.9zM1165.6 944.0h7.9v7.8h-7.9zM1176.9 944.0h7.9v7.8h-7.9zM1188.1 944.0h7.9v7.8h-7.9zM366.1 1559.4h7.9v7.8h-7.9zM366.1 1602.6h7.9v7.8h-7.9zM377.4 1613.4h7.9v7.8h-7.9zM422.4 1613.4h7.9v7.8h-7.9zM264.8 1701.2h7.9v5.0h-7.9zM197.2 1710.6h7.9v7.8h-7.9zM276.1 1710.6h7.9v7.8h-7.9zM219.8 1721.4h7.9v7.8h-7.9zM253.5 1753.8h7.9v7.8h-7.9zM186.0 1766.0h7.9v5.0h-7.9zM186.0 1775.4h7.9v7.8h-7.9zM264.8 1775.4h7.9v7.8h-7.9zM197.2 1786.2h7.9v7.8h-7.9zM208.5 1786.2h7.9v7.8h-7.9zM152.2 1797.0h7.9v7.8h-7.9zM129.7 1807.8h7.9v7.8h-7.9zM174.7 1818.6h7.9v7.8h-7.9zM163.5 1840.2h7.9v7.8h-7.9zM39.6 1872.6h7.9v7.8h-7.9zM50.9 1872.6h7.9v7.8h-7.9zM39.6 1883.3h7.9v7.8h-7.9zM50.9 1883.3h7.9v7.8h-7.9zM50.9 1895.5h7.9v5.0h-7.9zM73.4 1915.7h7.9v7.8h-7.9zM84.6 1915.7h7.9v7.8h-7.9zM95.9 1915.7h7.9v7.8h-7.9zM84.6 1926.5h7.9v7.8h-7.9zM95.9 1926.5h7.9v7.8h-7.9z"/><path fill="#f35b4b" d="M208.5 684.9h7.9v7.8h-7.9zM1053.0 695.7h7.9v7.8h-7.9zM197.2 717.3h7.9v7.8h-7.9zM208.5 717.3h7.9v7.8h-7.9zM535.0 717.3h7.9v7.8h-7.9zM1221.9 738.9h7.9v7.8h-7.9zM1199.4 749.7h7.9v7.8h-7.9zM1221.9 771.3h7.9v7.8h-7.9zM1244.4 794.3h7.9v5.0h-7.9zM1278.2 794.3h7.9v5.0h-7.9zM1266.9 814.4h7.9v7.8h-7.9zM1053.0 825.2h7.9v7.8h-7.9zM1075.5 825.2h7.9v7.8h-7.9zM1109.3 825.2h7.9v7.8h-7.9zM1120.6 825.2h7.9v7.8h-7.9zM1131.8 825.2h7.9v7.8h-7.9zM1143.1 825.2h7.9v7.8h-7.9zM1154.3 825.2h7.9v7.8h-7.9zM1165.6 825.2h7.9v7.8h-7.9zM1176.9 825.2h7.9v7.8h-7.9zM1053.0 836.0h7.9v7.8h-7.9zM1075.5 836.0h7.9v7.8h-7.9zM1109.3 836.0h7.9v7.8h-7.9zM1120.6 836.0h7.9v7.8h-7.9zM1131.8 836.0h7.9v7.8h-7.9zM1143.1 836.0h7.9v7.8h-7.9zM1154.3 836.0h7.9v7.8h-7.9zM1165.6 836.0h7.9v7.8h-7.9zM1188.1 836.0h7.9v7.8h-7.9zM1053.0 846.8h7.9v7.8h-7.9zM1075.5 846.8h7.9v7.8h-7.9zM1109.3 846.8h7.9v7.8h-7.9zM1120.6 846.8h7.9v7.8h-7.9zM1131.8 846.8h7.9v7.8h-7.9zM1143.1 846.8h7.9v7.8h-7.9zM1154.3 846.8h7.9v7.8h-7.9zM1176.9 846.8h7.9v7.8h-7.9zM1188.1 846.8h7.9v7.8h-7.9zM1053.0 859.0h7.9v5.0h-7.9zM1075.5 859.0h7.9v5.0h-7.9zM1109.3 859.0h7.9v5.0h-7.9zM1120.6 859.0h7.9v5.0h-7.9zM1131.8 859.0h7.9v5.0h-7.9zM1143.1 859.0h7.9v5.0h-7.9zM1165.6 859.0h7.9v5.0h-7.9zM1176.9 859.0h7.9v5.0h-7.9zM1188.1 859.0h7.9v5.0h-7.9zM1053.0 868.4h7.9v7.8h-7.9zM1075.5 868.4h7.9v7.8h-7.9zM1109.3 868.4h7.9v7.8h-7.9zM1120.6 868.4h7.9v7.8h-7.9zM1131.8 868.4h7.9v7.8h-7.9zM1154.3 868.4h7.9v7.8h-7.9zM1165.6 868.4h7.9v7.8h-7.9zM1176.9 868.4h7.9v7.8h-7.9zM1188.1 868.4h7.9v7.8h-7.9zM1053.0 879.2h7.9v7.8h-7.9zM1075.5 879.2h7.9v7.8h-7.9zM1109.3 879.2h7.9v7.8h-7.9zM1120.6 879.2h7.9v7.8h-7.9zM1143.1 879.2h7.9v7.8h-7.9zM1154.3 879.2h7.9v7.8h-7.9zM1165.6 879.2h7.9v7.8h-7.9zM1176.9 879.2h7.9v7.8h-7.9zM1188.1 879.2h7.9v7.8h-7.9zM794.0 890.0h7.9v7.8h-7.9zM1053.0 890.0h7.9v7.8h-7.9zM1075.5 890.0h7.9v7.8h-7.9zM1109.3 890.0h7.9v7.8h-7.9zM1131.8 890.0h7.9v7.8h-7.9zM1143.1 890.0h7.9v7.8h-7.9zM1154.3 890.0h7.9v7.8h-7.9zM1165.6 890.0h7.9v7.8h-7.9zM1176.9 890.0h7.9v7.8h-7.9zM1188.1 890.0h7.9v7.8h-7.9zM1053.0 900.8h7.9v7.8h-7.9zM1075.5 900.8h7.9v7.8h-7.9zM1120.6 900.8h7.9v7.8h-7.9zM1131.8 900.8h7.9v7.8h-7.9zM1143.1 900.8h7.9v7.8h-7.9zM1154.3 900.8h7.9v7.8h-7.9zM1165.6 900.8h7.9v7.8h-7.9zM1176.9 900.8h7.9v7.8h-7.9zM1188.1 900.8h7.9v7.8h-7.9zM456.2 923.8h7.9v5.0h-7.9zM478.7 923.8h7.9v5.0h-7.9zM1053.0 933.2h7.9v7.8h-7.9zM1109.3 933.2h7.9v7.8h-7.9zM1120.6 933.2h7.9v7.8h-7.9zM1131.8 933.2h7.9v7.8h-7.9zM1143.1 933.2h7.9v7.8h-7.9zM1154.3 933.2h7.9v7.8h-7.9zM1165.6 933.2h7.9v7.8h-7.9zM1176.9 933.2h7.9v7.8h-7.9zM1188.1 933.2h7.9v7.8h-7.9zM39.6 954.8h7.9v7.8h-7.9zM62.1 954.8h7.9v7.8h-7.9zM73.4 954.8h7.9v7.8h-7.9zM1075.5 954.8h7.9v7.8h-7.9zM1109.3 954.8h7.9v7.8h-7.9zM1120.6 954.8h7.9v7.8h-7.9zM1131.8 954.8h7.9v7.8h-7.9zM1143.1 954.8h7.9v7.8h-7.9zM1154.3 954.8h7.9v7.8h-7.9zM1165.6 954.8h7.9v7.8h-7.9zM1176.9 954.8h7.9v7.8h-7.9zM1188.1 954.8h7.9v7.8h-7.9zM1323.2 954.8h7.9v7.8h-7.9zM805.3 1182.9h7.9v5.0h-7.9zM816.5 1192.3h7.9v7.8h-7.9zM1120.6 1203.1h7.9v7.8h-7.9zM771.5 1213.9h7.9v7.8h-7.9zM782.8 1224.7h7.9v7.8h-7.9zM625.1 1354.3h7.9v7.8h-7.9zM636.4 1365.1h7.9v7.8h-7.9zM557.6 1419.1h7.9v7.8h-7.9zM568.8 1429.9h7.9v7.8h-7.9zM1300.7 1451.5h7.9v7.8h-7.9zM467.5 1506.9h7.9v5.0h-7.9zM1086.8 1506.9h7.9v5.0h-7.9zM478.7 1516.3h7.9v7.8h-7.9zM1086.8 1527.0h7.9v7.8h-7.9zM107.2 1537.8h7.9v7.8h-7.9zM118.4 1537.8h7.9v7.8h-7.9zM433.7 1537.8h7.9v7.8h-7.9zM445.0 1548.6h7.9v7.8h-7.9zM399.9 1559.4h7.9v7.8h-7.9zM399.9 1571.6h7.9v5.0h-7.9zM411.2 1581.0h7.9v7.8h-7.9zM422.4 1581.0h7.9v7.8h-7.9zM343.6 1624.2h7.9v7.8h-7.9zM354.9 1636.4h7.9v5.0h-7.9zM197.2 1766.0h7.9v5.0h-7.9zM1300.7 1766.0h7.9v5.0h-7.9zM1334.5 1766.0h7.9v5.0h-7.9zM208.5 1775.4h7.9v7.8h-7.9zM1300.7 1775.4h7.9v7.8h-7.9zM140.9 1807.8h7.9v7.8h-7.9zM163.5 1830.8h7.9v5.0h-7.9zM445.0 1851.0h7.9v7.8h-7.9zM445.0 1861.8h7.9v7.8h-7.9zM39.6 1895.5h7.9v5.0h-7.9zM1053.0 1895.5h7.9v5.0h-7.9zM39.6 1904.9h7.9v7.8h-7.9zM1053.0 1904.9h7.9v7.8h-7.9zM62.1 1926.5h7.9v7.8h-7.9zM73.4 1926.5h7.9v7.8h-7.9zM1053.0 1926.5h7.9v7.8h-7.9z"/><path fill="#f47c6a" d="M1289.5 717.3h7.9v7.8h-7.9zM1300.7 729.5h7.9v5.0h-7.9zM1199.4 738.9h7.9v7.8h-7.9zM1255.7 749.7h7.9v7.8h-7.9zM1221.9 760.5h7.9v7.8h-7.9zM1266.9 760.5h7.9v7.8h-7.9zM1221.9 782.1h7.9v7.8h-7.9zM1233.2 794.3h7.9v5.0h-7.9zM1255.7 794.3h7.9v5.0h-7.9zM1278.2 814.4h7.9v7.8h-7.9zM726.5 933.2h7.9v7.8h-7.9zM726.5 944.0h7.9v7.8h-7.9zM1064.3 1267.9h7.9v7.8h-7.9zM1075.5 1267.9h7.9v7.8h-7.9zM309.8 1656.6h7.9v7.8h-7.9zM321.1 1667.4h7.9v7.8h-7.9zM140.9 1797.0h7.9v7.8h-7.9zM174.7 1830.8h7.9v5.0h-7.9z"/><path fill="#f0261e" d="M1266.9 738.9h7.9v7.8h-7.9zM1278.2 749.7h7.9v7.8h-7.9zM1233.2 771.3h7.9v7.8h-7.9zM1244.4 782.1h7.9v7.8h-7.9zM1199.4 803.6h7.9v7.8h-7.9zM1210.6 814.4h7.9v7.8h-7.9zM1041.7 879.2h7.9v7.8h-7.9zM456.2 900.8h7.9v7.8h-7.9zM1064.3 933.2h7.9v7.8h-7.9zM1075.5 944.0h7.9v7.8h-7.9zM1041.7 954.8h7.9v7.8h-7.9zM1053.0 965.6h7.9v7.8h-7.9zM1131.8 965.6h7.9v7.8h-7.9zM1109.3 1527.0h7.9v7.8h-7.9zM411.2 1559.4h7.9v7.8h-7.9zM422.4 1571.6h7.9v5.0h-7.9zM163.5 1797.0h7.9v7.8h-7.9zM174.7 1807.8h7.9v7.8h-7.9zM129.7 1830.8h7.9v5.0h-7.9zM140.9 1840.2h7.9v7.8h-7.9zM62.1 1872.6h7.9v7.8h-7.9zM73.4 1872.6h7.9v7.8h-7.9zM62.1 1883.3h7.9v7.8h-7.9zM73.4 1883.3h7.9v7.8h-7.9zM84.6 1895.5h7.9v5.0h-7.9zM95.9 1895.5h7.9v5.0h-7.9zM84.6 1904.9h7.9v7.8h-7.9zM95.9 1904.9h7.9v7.8h-7.9z"/><path fill="#f4e6d0" d="M287.3 1667.4h7.9v7.8h-7.9zM84.6 1689.0h7.9v7.8h-7.9zM95.9 1689.0h7.9v7.8h-7.9zM309.8 1689.0h7.9v7.8h-7.9zM84.6 1710.6h7.9v7.8h-7.9zM95.9 1710.6h7.9v7.8h-7.9zM264.8 1872.6h7.9v7.8h-7.9zM287.3 1872.6h7.9v7.8h-7.9zM264.8 1883.3h7.9v7.8h-7.9zM287.3 1883.3h7.9v7.8h-7.9z"/><text x="1270.9" y="767.3" font-size="8" text-anchor="middle" fill="#111" stroke="#111" stroke-width="0.35">H</text><text x="268.7" y="788.9" font-size="8" text-anchor="middle" fill="#111" stroke="#111" stroke-width="0.35">H</text><text x="1102.0" y="864.4" font-size="8" text-anchor="middle" fill="#111" stroke="#111" stroke-width="0.35">H</text><text x="707.9" y="896.8" font-size="8" text-anchor="middle" fill="#111" stroke="#111" stroke-width="0.35">H</text><text x="629.1" y="1134.4" font-size="8" text-anchor="middle" fill="#111" stroke="#111" stroke-width="0.35">H</text><text x="66.1" y="1145.2" font-size="8" text-anchor="middle" fill="#111" stroke="#111" stroke-width="0.35">H</text><text x="88.6" y="1145.2" font-size="8" text-anchor="middle" fill="#111" stroke="#111" stroke-width="0.35">H</text><text x="595.3" y="1382.7" font-size="8" text-anchor="middle" fill="#111" stroke="#111" stroke-width="0.35">H</text><text x="1349.7" y="1771.4" font-size="8" text-anchor="middle" fill="#111" stroke="#111" stroke-width="0.35">H</text><text x="144.9" y="1803.8" font-size="8" text-anchor="middle" fill="#111" stroke="#111" stroke-width="0.35">H</text><text x="111.1" y="1857.8" font-size="8" text-anchor="middle" fill="#111" stroke="#111" stroke-width="0.35">H</text><text x="66.1" y="1879.4" font-size="8" text-anchor="middle" fill="#111" stroke="#111" stroke-width="0.35">H</text><text x="77.3" y="1879.4" font-size="8" text-anchor="middle" fill="#111" stroke="#111" stroke-width="0.35">H</text><text x="88.6" y="1879.4" font-size="8" text-anchor="middle" fill="#111" stroke="#111" stroke-width="0.35">H</text><text x="865.5" y="1879.4" font-size="8" text-anchor="middle" fill="#111" stroke="#111" stroke-width="0.35">H</text><text x="66.1" y="1900.9" font-size="8" text-anchor="middle" fill="#111" stroke="#111" stroke-width="0.35">H</text><text x="88.6" y="1900.9" font-size="8" text-anchor="middle" fill="#111" stroke="#111" stroke-width="0.35">H</text><text x="865.5" y="1900.9" font-size="8" text-anchor="middle" fill="#111" stroke="#111" stroke-width="0.35">H</text><text x="88.6" y="1911.7" font-size="8" text-anchor="middle" fill="#111" stroke="#111" stroke-width="0.35">H</text><text x="1430.3" y="626.9" font-size="10.0" textLength="34.2" lengthAdjust="spacingAndGlyphs" stroke="#000" stroke-width="0.3">Pre_16</text><text x="1430.3" y="637.7" font-size="10.0" textLength="34.8" lengthAdjust="spacingAndGlyphs" stroke="#000" stroke-width="0.3">Yen_11</text><text x="1430.3" y="648.5" font-size="10.0" textLength="27.7" lengthAdjust="spacingAndGlyphs" stroke="#000" stroke-width="0.3">Vfu_1</text><text x="1430.3" y="659.3" font-size="10.0" textLength="30.1" lengthAdjust="spacingAndGlyphs" stroke="#000" stroke-width="0.3">Ec2_3</text><text x="1430.3" y="670.1" font-size="10.0" textLength="35.6" lengthAdjust="spacingAndGlyphs" stroke="#000" stroke-width="0.3">Yen_18</text><text x="1430.3" y="680.9" font-size="10.0" textLength="35.6" lengthAdjust="spacingAndGlyphs" stroke="#000" stroke-width="0.3">Yen_10</text><text x="1430.3" y="691.7" font-size="10.0" textLength="28.3" lengthAdjust="spacingAndGlyphs" stroke="#000" stroke-width="0.3">Pre_9</text><text x="1430.3" y="702.5" font-size="10.0" textLength="33.6" lengthAdjust="spacingAndGlyphs" stroke="#000" stroke-width="0.3">Pem_8</text><text x="1430.3" y="713.3" font-size="10.0" textLength="29.7" lengthAdjust="spacingAndGlyphs" stroke="#000" stroke-width="0.3">Yen_2</text><text x="1430.3" y="724.0" font-size="10.0" textLength="33.0" lengthAdjust="spacingAndGlyphs" stroke="#000" stroke-width="0.3">Pst_13</text><text x="1430.3" y="734.8" font-size="10.0" textLength="33.6" lengthAdjust="spacingAndGlyphs" stroke="#000" stroke-width="0.3">Vfu_15</text><text x="1430.3" y="745.6" font-size="10.0" textLength="33.6" lengthAdjust="spacingAndGlyphs" stroke="#000" stroke-width="0.3">Pem_2</text><text x="1430.3" y="756.4" font-size="10.0" textLength="32.8" lengthAdjust="spacingAndGlyphs" stroke="#000" stroke-width="0.3">Pfa_11</text><text x="1430.3" y="767.2" font-size="10.0" textLength="33.6" lengthAdjust="spacingAndGlyphs" stroke="#000" stroke-width="0.3">Pfa_13</text><text x="1430.3" y="778.0" font-size="10.0" textLength="33.6" lengthAdjust="spacingAndGlyphs" stroke="#000" stroke-width="0.3">Vfu_14</text><text x="1430.3" y="788.8" font-size="10.0" textLength="31.2" lengthAdjust="spacingAndGlyphs" fill="#555" stroke="#555" stroke-width="0.3">Cpa_6</text><text x="1430.3" y="799.6" font-size="10.0" textLength="27.7" lengthAdjust="spacingAndGlyphs" stroke="#000" stroke-width="0.3">Pfa_4</text><text x="1430.3" y="810.4" font-size="10.0" textLength="33.6" lengthAdjust="spacingAndGlyphs" stroke="#000" stroke-width="0.3">Pfa_15</text><text x="1430.3" y="821.2" font-size="10.0" textLength="35.6" lengthAdjust="spacingAndGlyphs" stroke="#000" stroke-width="0.3">Yen_14</text><text x="1430.3" y="832.0" font-size="10.0" textLength="28.3" lengthAdjust="spacingAndGlyphs" stroke="#000" stroke-width="0.3">Pre_5</text><text x="1430.3" y="842.8" font-size="10.0" textLength="41.2" lengthAdjust="spacingAndGlyphs" stroke="#000" stroke-width="0.3">Mmo_10</text><text x="1430.3" y="853.6" font-size="10.0" textLength="27.1" lengthAdjust="spacingAndGlyphs" stroke="#000" stroke-width="0.3">Pst_6</text><text x="1430.3" y="864.4" font-size="10.0" textLength="28.3" lengthAdjust="spacingAndGlyphs" stroke="#000" stroke-width="0.3">Yre_1</text><text x="1430.3" y="875.2" font-size="10.0" textLength="33.6" lengthAdjust="spacingAndGlyphs" stroke="#000" stroke-width="0.3">Pfa_14</text><text x="1430.3" y="886.0" font-size="10.0" textLength="33.6" lengthAdjust="spacingAndGlyphs" stroke="#000" stroke-width="0.3">Vfu_12</text><text x="1430.3" y="896.8" font-size="10.0" textLength="32.2" lengthAdjust="spacingAndGlyphs" stroke="#000" stroke-width="0.3">Pst_11</text><text x="1430.3" y="907.5" font-size="10.0" textLength="35.3" lengthAdjust="spacingAndGlyphs" stroke="#000" stroke-width="0.3">Mmo_8</text><text x="1430.3" y="918.3" font-size="10.0" textLength="35.6" lengthAdjust="spacingAndGlyphs" stroke="#000" stroke-width="0.3">Yen_12</text><text x="1430.3" y="929.1" font-size="10.0" textLength="28.3" lengthAdjust="spacingAndGlyphs" stroke="#000" stroke-width="0.3">Yre_3</text><text x="1430.3" y="939.9" font-size="10.0" textLength="27.7" lengthAdjust="spacingAndGlyphs" stroke="#000" stroke-width="0.3">Efe_9</text><text x="1430.3" y="950.7" font-size="10.0" textLength="33.6" lengthAdjust="spacingAndGlyphs" stroke="#000" stroke-width="0.3">Efe_12</text><text x="1430.3" y="961.5" font-size="10.0" textLength="27.7" lengthAdjust="spacingAndGlyphs" stroke="#000" stroke-width="0.3">Efe_3</text><text x="1430.3" y="972.3" font-size="10.0" textLength="27.1" lengthAdjust="spacingAndGlyphs" stroke="#000" stroke-width="0.3">Pst_2</text><text x="1430.3" y="983.1" font-size="10.0" textLength="27.7" lengthAdjust="spacingAndGlyphs" stroke="#000" stroke-width="0.3">Efe_6</text><text x="1430.3" y="993.9" font-size="10.0" textLength="36.0" lengthAdjust="spacingAndGlyphs" stroke="#000" stroke-width="0.3">Ec6_19</text><text x="1430.3" y="1004.7" font-size="10.0" textLength="35.4" lengthAdjust="spacingAndGlyphs" stroke="#000" stroke-width="0.3">met_38</text><text x="1430.3" y="1015.5" font-size="10.0" textLength="39.5" lengthAdjust="spacingAndGlyphs" stroke="#000" stroke-width="0.3">Pma_17</text><text x="1430.3" y="1026.3" font-size="10.0" textLength="33.0" lengthAdjust="spacingAndGlyphs" stroke="#000" stroke-width="0.3">Pst_14</text><text x="1430.3" y="1037.1" font-size="10.0" textLength="34.2" lengthAdjust="spacingAndGlyphs" stroke="#000" stroke-width="0.3">Pre_24</text><text x="1430.3" y="1047.9" font-size="10.0" textLength="38.7" lengthAdjust="spacingAndGlyphs" stroke="#000" stroke-width="0.3">Pma_11</text><text x="1430.3" y="1058.7" font-size="10.0" textLength="28.3" lengthAdjust="spacingAndGlyphs" stroke="#000" stroke-width="0.3">Pre_2</text><text x="1430.3" y="1069.5" font-size="10.0" textLength="36.5" lengthAdjust="spacingAndGlyphs" stroke="#000" stroke-width="0.3">Kpn_10</text><text x="1430.3" y="1080.2" font-size="10.0" textLength="34.2" lengthAdjust="spacingAndGlyphs" stroke="#000" stroke-width="0.3">Pre_10</text><text x="1430.3" y="1091.0" font-size="10.0" textLength="33.6" lengthAdjust="spacingAndGlyphs" stroke="#000" stroke-width="0.3">Pfa_18</text><text x="1430.3" y="1101.8" font-size="10.0" textLength="35.4" lengthAdjust="spacingAndGlyphs" stroke="#000" stroke-width="0.3">met_26</text><text x="1430.3" y="1112.6" font-size="10.0" textLength="35.4" lengthAdjust="spacingAndGlyphs" stroke="#000" stroke-width="0.3">met_46</text><text x="1430.3" y="1123.4" font-size="10.0" textLength="35.3" lengthAdjust="spacingAndGlyphs" stroke="#000" stroke-width="0.3">Mmo_5</text><text x="1430.3" y="1134.2" font-size="10.0" textLength="27.1" lengthAdjust="spacingAndGlyphs" stroke="#000" stroke-width="0.3">Pst_1</text><text x="1430.3" y="1145.0" font-size="10.0" textLength="29.7" lengthAdjust="spacingAndGlyphs" stroke="#000" stroke-width="0.3">Yen_7</text><text x="1430.3" y="1155.8" font-size="10.0" textLength="28.3" lengthAdjust="spacingAndGlyphs" stroke="#000" stroke-width="0.3">Yre_9</text><text x="1430.3" y="1166.6" font-size="10.0" textLength="34.2" lengthAdjust="spacingAndGlyphs" stroke="#000" stroke-width="0.3">Pre_17</text><text x="1430.3" y="1177.4" font-size="10.0" textLength="33.6" lengthAdjust="spacingAndGlyphs" stroke="#000" stroke-width="0.3">Efe_14</text><text x="1430.3" y="1188.2" font-size="10.0" textLength="27.7" lengthAdjust="spacingAndGlyphs" stroke="#000" stroke-width="0.3">Vfu_6</text><text x="1430.3" y="1199.0" font-size="10.0" textLength="36.5" lengthAdjust="spacingAndGlyphs" stroke="#000" stroke-width="0.3">Kpn_14</text><text x="1430.3" y="1209.8" font-size="10.0" textLength="40.5" lengthAdjust="spacingAndGlyphs" stroke="#000" stroke-width="0.3">Mmo_11</text><text x="1430.3" y="1220.6" font-size="10.0" textLength="33.6" lengthAdjust="spacingAndGlyphs" stroke="#000" stroke-width="0.3">Pem_1</text><text x="1430.3" y="1231.4" font-size="10.0" textLength="33.6" lengthAdjust="spacingAndGlyphs" stroke="#000" stroke-width="0.3">Pma_5</text><text x="1430.3" y="1242.2" font-size="10.0" textLength="28.3" lengthAdjust="spacingAndGlyphs" stroke="#000" stroke-width="0.3">Pre_1</text><text x="1430.3" y="1253.0" font-size="10.0" textLength="33.6" lengthAdjust="spacingAndGlyphs" stroke="#000" stroke-width="0.3">Efe_13</text><text x="1430.3" y="1263.7" font-size="10.0" textLength="27.1" lengthAdjust="spacingAndGlyphs" stroke="#000" stroke-width="0.3">Pst_4</text><text x="1430.3" y="1274.5" font-size="10.0" textLength="33.6" lengthAdjust="spacingAndGlyphs" stroke="#000" stroke-width="0.3">Pem_6</text><text x="1430.3" y="1285.3" font-size="10.0" textLength="35.3" lengthAdjust="spacingAndGlyphs" stroke="#000" stroke-width="0.3">Mmo_7</text><text x="1430.3" y="1296.1" font-size="10.0" textLength="34.2" lengthAdjust="spacingAndGlyphs" stroke="#000" stroke-width="0.3">Pre_15</text><text x="1430.3" y="1306.9" font-size="10.0" textLength="35.4" lengthAdjust="spacingAndGlyphs" stroke="#000" stroke-width="0.3">met_33</text><text x="1430.3" y="1317.7" font-size="10.0" textLength="33.0" lengthAdjust="spacingAndGlyphs" stroke="#000" stroke-width="0.3">Pst_19</text><text x="1430.3" y="1328.5" font-size="10.0" textLength="29.5" lengthAdjust="spacingAndGlyphs" stroke="#000" stroke-width="0.3">met_3</text><text x="1430.3" y="1339.3" font-size="10.0" textLength="31.2" lengthAdjust="spacingAndGlyphs" stroke="#000" stroke-width="0.3">Cda_6</text><text x="1430.3" y="1350.1" font-size="10.0" textLength="35.4" lengthAdjust="spacingAndGlyphs" stroke="#000" stroke-width="0.3">met_22</text><text x="1430.3" y="1360.9" font-size="10.0" textLength="29.7" lengthAdjust="spacingAndGlyphs" stroke="#000" stroke-width="0.3">Yen_8</text><text x="1430.3" y="1371.7" font-size="10.0" textLength="34.2" lengthAdjust="spacingAndGlyphs" stroke="#000" stroke-width="0.3">Pre_22</text><text x="1430.3" y="1382.5" font-size="10.0" textLength="30.1" lengthAdjust="spacingAndGlyphs" stroke="#000" stroke-width="0.3">Pse_2</text><text x="1430.3" y="1393.3" font-size="10.0" textLength="27.7" lengthAdjust="spacingAndGlyphs" stroke="#000" stroke-width="0.3">Vfu_4</text><text x="1430.3" y="1404.1" font-size="10.0" textLength="31.2" lengthAdjust="spacingAndGlyphs" stroke="#000" stroke-width="0.3">Cda_1</text><text x="1430.3" y="1414.9" font-size="10.0" textLength="27.1" lengthAdjust="spacingAndGlyphs" stroke="#000" stroke-width="0.3">Pst_7</text><text x="1430.3" y="1425.7" font-size="10.0" textLength="33.6" lengthAdjust="spacingAndGlyphs" stroke="#000" stroke-width="0.3">Pfa_10</text><text x="1430.3" y="1436.5" font-size="10.0" textLength="36.5" lengthAdjust="spacingAndGlyphs" stroke="#000" stroke-width="0.3">Kpn_12</text><text x="1430.3" y="1447.2" font-size="10.0" textLength="35.4" lengthAdjust="spacingAndGlyphs" stroke="#000" stroke-width="0.3">met_10</text><text x="1430.3" y="1458.0" font-size="10.0" textLength="35.6" lengthAdjust="spacingAndGlyphs" stroke="#000" stroke-width="0.3">Yen_20</text><text x="1430.3" y="1468.8" font-size="10.0" textLength="37.1" lengthAdjust="spacingAndGlyphs" fill="#555" stroke="#555" stroke-width="0.3">Cpa_10</text><text x="1430.3" y="1479.6" font-size="10.0" textLength="35.4" lengthAdjust="spacingAndGlyphs" stroke="#000" stroke-width="0.3">met_20</text><text x="1430.3" y="1490.4" font-size="10.0" textLength="30.1" lengthAdjust="spacingAndGlyphs" stroke="#000" stroke-width="0.3">Ec6_6</text><text x="1430.3" y="1501.2" font-size="10.0" textLength="30.1" lengthAdjust="spacingAndGlyphs" stroke="#000" stroke-width="0.3">Pse_3</text><text x="1430.3" y="1512.0" font-size="10.0" textLength="34.2" lengthAdjust="spacingAndGlyphs" stroke="#000" stroke-width="0.3">Pre_19</text><text x="1430.3" y="1522.8" font-size="10.0" textLength="39.5" lengthAdjust="spacingAndGlyphs" stroke="#000" stroke-width="0.3">Pma_18</text><text x="1430.3" y="1533.6" font-size="10.0" textLength="30.1" lengthAdjust="spacingAndGlyphs" stroke="#000" stroke-width="0.3">Ec6_5</text><text x="1430.3" y="1544.4" font-size="10.0" textLength="33.0" lengthAdjust="spacingAndGlyphs" stroke="#000" stroke-width="0.3">Pst_16</text><text x="1430.3" y="1555.2" font-size="10.0" textLength="33.6" lengthAdjust="spacingAndGlyphs" stroke="#000" stroke-width="0.3">Pem_5</text><text x="1430.3" y="1566.0" font-size="10.0" textLength="32.8" lengthAdjust="spacingAndGlyphs" stroke="#000" stroke-width="0.3">Efe_11</text><text x="1430.3" y="1576.8" font-size="10.0" textLength="30.7" lengthAdjust="spacingAndGlyphs" stroke="#000" stroke-width="0.3">Kpn_9</text><text x="1430.3" y="1587.6" font-size="10.0" textLength="30.7" lengthAdjust="spacingAndGlyphs" stroke="#000" stroke-width="0.3">Kpn_3</text><text x="1430.3" y="1598.4" font-size="10.0" textLength="36.3" lengthAdjust="spacingAndGlyphs" stroke="#000" stroke-width="0.3">Cda_11</text><text x="1430.3" y="1609.2" font-size="10.0" textLength="34.2" lengthAdjust="spacingAndGlyphs" stroke="#000" stroke-width="0.3">Pre_21</text><text x="1430.3" y="1619.9" font-size="10.0" textLength="33.6" lengthAdjust="spacingAndGlyphs" stroke="#000" stroke-width="0.3">Vfu_21</text><text x="1430.3" y="1630.7" font-size="10.0" textLength="33.0" lengthAdjust="spacingAndGlyphs" stroke="#000" stroke-width="0.3">Pst_17</text><text x="1430.3" y="1641.5" font-size="10.0" textLength="36.0" lengthAdjust="spacingAndGlyphs" stroke="#000" stroke-width="0.3">Ec6_12</text><text x="1430.3" y="1652.3" font-size="10.0" textLength="35.4" lengthAdjust="spacingAndGlyphs" stroke="#000" stroke-width="0.3">met_15</text><text x="1430.3" y="1663.1" font-size="10.0" textLength="36.0" lengthAdjust="spacingAndGlyphs" stroke="#000" stroke-width="0.3">Ec6_10</text><text x="1430.3" y="1673.9" font-size="10.0" textLength="30.1" lengthAdjust="spacingAndGlyphs" stroke="#000" stroke-width="0.3">Ec2_1</text><text x="1430.3" y="1684.7" font-size="10.0" textLength="41.2" lengthAdjust="spacingAndGlyphs" stroke="#000" stroke-width="0.3">Mmo_12</text><text x="1430.3" y="1695.5" font-size="10.0" textLength="33.6" lengthAdjust="spacingAndGlyphs" stroke="#000" stroke-width="0.3">Vfu_17</text><text x="1430.3" y="1706.3" font-size="10.0" textLength="33.6" lengthAdjust="spacingAndGlyphs" stroke="#000" stroke-width="0.3">Vfu_20</text><text x="1430.3" y="1717.1" font-size="10.0" textLength="29.7" lengthAdjust="spacingAndGlyphs" stroke="#000" stroke-width="0.3">Yen_6</text><text x="1430.3" y="1727.9" font-size="10.0" textLength="35.4" lengthAdjust="spacingAndGlyphs" stroke="#000" stroke-width="0.3">met_25</text><text x="1430.3" y="1738.7" font-size="10.0" textLength="36.3" lengthAdjust="spacingAndGlyphs" fill="#555" stroke="#555" stroke-width="0.3">Cpa_11</text><text x="1430.3" y="1749.5" font-size="10.0" textLength="36.0" lengthAdjust="spacingAndGlyphs" stroke="#000" stroke-width="0.3">Ec6_14</text><text x="1430.3" y="1760.3" font-size="10.0" textLength="29.7" lengthAdjust="spacingAndGlyphs" stroke="#000" stroke-width="0.3">Yen_9</text><text x="1430.3" y="1771.1" font-size="10.0" textLength="35.6" lengthAdjust="spacingAndGlyphs" stroke="#000" stroke-width="0.3">Yen_19</text><text x="1430.3" y="1781.9" font-size="10.0" textLength="34.2" lengthAdjust="spacingAndGlyphs" stroke="#000" stroke-width="0.3">Yre_12</text><text x="1430.3" y="1792.7" font-size="10.0" textLength="33.6" lengthAdjust="spacingAndGlyphs" stroke="#000" stroke-width="0.3">Pma_4</text><text x="1430.3" y="1803.4" font-size="10.0" textLength="27.1" lengthAdjust="spacingAndGlyphs" stroke="#000" stroke-width="0.3">Pst_9</text><text x="1430.3" y="1814.2" font-size="10.0" textLength="35.6" lengthAdjust="spacingAndGlyphs" stroke="#000" stroke-width="0.3">Yen_17</text><text x="1430.3" y="1825.0" font-size="10.0" textLength="33.4" lengthAdjust="spacingAndGlyphs" stroke="#000" stroke-width="0.3">Pre_11</text><text x="1430.3" y="1835.8" font-size="10.0" textLength="34.2" lengthAdjust="spacingAndGlyphs" stroke="#000" stroke-width="0.3">Pre_20</text><text x="1430.3" y="1846.6" font-size="10.0" textLength="35.4" lengthAdjust="spacingAndGlyphs" stroke="#000" stroke-width="0.3">met_41</text><text x="1430.3" y="1857.4" font-size="10.0" textLength="39.5" lengthAdjust="spacingAndGlyphs" stroke="#000" stroke-width="0.3">Pma_10</text><text x="1430.3" y="1868.2" font-size="10.0" textLength="27.7" lengthAdjust="spacingAndGlyphs" stroke="#000" stroke-width="0.3">Pfa_6</text><text x="1430.3" y="1879.0" font-size="10.0" textLength="33.6" lengthAdjust="spacingAndGlyphs" stroke="#000" stroke-width="0.3">Pma_2</text><text x="1430.3" y="1889.8" font-size="10.0" textLength="27.7" lengthAdjust="spacingAndGlyphs" stroke="#000" stroke-width="0.3">Efe_5</text><text x="1430.3" y="1900.6" font-size="10.0" textLength="28.3" lengthAdjust="spacingAndGlyphs" stroke="#000" stroke-width="0.3">Yre_7</text><text x="1430.3" y="1911.4" font-size="10.0" textLength="31.2" lengthAdjust="spacingAndGlyphs" fill="#555" stroke="#555" stroke-width="0.3">Cpa_3</text><text x="1430.3" y="1922.2" font-size="10.0" textLength="37.1" lengthAdjust="spacingAndGlyphs" fill="#555" stroke="#555" stroke-width="0.3">Cpa_12</text><text x="1430.3" y="1933.0" font-size="10.0" textLength="27.7" lengthAdjust="spacingAndGlyphs" stroke="#000" stroke-width="0.3">Pfa_5</text><text x="44.8" y="1955.9" font-size="10.0" text-anchor="end" textLength="27.7" lengthAdjust="spacingAndGlyphs" transform="rotate(-90 44.8 1955.9)" stroke="#000" stroke-width="0.3">Pfa_5</text><text x="56.0" y="1955.9" font-size="10.0" text-anchor="end" textLength="37.1" lengthAdjust="spacingAndGlyphs" transform="rotate(-90 56.0 1955.9)" fill="#555" stroke="#555" stroke-width="0.3">Cpa_12</text><text x="67.3" y="1955.9" font-size="10.0" text-anchor="end" textLength="31.2" lengthAdjust="spacingAndGlyphs" transform="rotate(-90 67.3 1955.9)" fill="#555" stroke="#555" stroke-width="0.3">Cpa_3</text><text x="78.5" y="1955.9" font-size="10.0" text-anchor="end" textLength="28.3" lengthAdjust="spacingAndGlyphs" transform="rotate(-90 78.5 1955.9)" stroke="#000" stroke-width="0.3">Yre_7</text><text x="89.7" y="1955.9" font-size="10.0" text-anchor="end" textLength="27.7" lengthAdjust="spacingAndGlyphs" transform="rotate(-90 89.7 1955.9)" stroke="#000" stroke-width="0.3">Efe_5</text><text x="101.0" y="1955.9" font-size="10.0" text-anchor="end" textLength="33.6" lengthAdjust="spacingAndGlyphs" transform="rotate(-90 101.0 1955.9)" stroke="#000" stroke-width="0.3">Pma_2</text><text x="112.2" y="1955.9" font-size="10.0" text-anchor="end" textLength="27.7" lengthAdjust="spacingAndGlyphs" transform="rotate(-90 112.2 1955.9)" stroke="#000" stroke-width="0.3">Pfa_6</text><text x="123.4" y="1955.9" font-size="10.0" text-anchor="end" textLength="39.5" lengthAdjust="spacingAndGlyphs" transform="rotate(-90 123.4 1955.9)" stroke="#000" stroke-width="0.3">Pma_10</text><text x="134.6" y="1955.9" font-size="10.0" text-anchor="end" textLength="35.4" lengthAdjust="spacingAndGlyphs" transform="rotate(-90 134.6 1955.9)" stroke="#000" stroke-width="0.3">met_41</text><text x="145.9" y="1955.9" font-size="10.0" text-anchor="end" textLength="34.2" lengthAdjust="spacingAndGlyphs" transform="rotate(-90 145.9 1955.9)" stroke="#000" stroke-width="0.3">Pre_20</text><text x="157.1" y="1955.9" font-size="10.0" text-anchor="end" textLength="33.4" lengthAdjust="spacingAndGlyphs" transform="rotate(-90 157.1 1955.9)" stroke="#000" stroke-width="0.3">Pre_11</text><text x="168.3" y="1955.9" font-size="10.0" text-anchor="end" textLength="35.6" lengthAdjust="spacingAndGlyphs" transform="rotate(-90 168.3 1955.9)" stroke="#000" stroke-width="0.3">Yen_17</text><text x="179.6" y="1955.9" font-size="10.0" text-anchor="end" textLength="27.1" lengthAdjust="spacingAndGlyphs" transform="rotate(-90 179.6 1955.9)" stroke="#000" stroke-width="0.3">Pst_9</text><text x="190.8" y="1955.9" font-size="10.0" text-anchor="end" textLength="33.6" lengthAdjust="spacingAndGlyphs" transform="rotate(-90 190.8 1955.9)" stroke="#000" stroke-width="0.3">Pma_4</text><text x="202.0" y="1955.9" font-size="10.0" text-anchor="end" textLength="34.2" lengthAdjust="spacingAndGlyphs" transform="rotate(-90 202.0 1955.9)" stroke="#000" stroke-width="0.3">Yre_12</text><text x="213.3" y="1955.9" font-size="10.0" text-anchor="end" textLength="35.6" lengthAdjust="spacingAndGlyphs" transform="rotate(-90 213.3 1955.9)" stroke="#000" stroke-width="0.3">Yen_19</text><text x="224.5" y="1955.9" font-size="10.0" text-anchor="end" textLength="29.7" lengthAdjust="spacingAndGlyphs" transform="rotate(-90 224.5 1955.9)" stroke="#000" stroke-width="0.3">Yen_9</text><text x="235.7" y="1955.9" font-size="10.0" text-anchor="end" textLength="36.0" lengthAdjust="spacingAndGlyphs" transform="rotate(-90 235.7 1955.9)" stroke="#000" stroke-width="0.3">Ec6_14</text><text x="246.9" y="1955.9" font-size="10.0" text-anchor="end" textLength="36.3" lengthAdjust="spacingAndGlyphs" transform="rotate(-90 246.9 1955.9)" fill="#555" stroke="#555" stroke-width="0.3">Cpa_11</text><text x="258.2" y="1955.9" font-size="10.0" text-anchor="end" textLength="35.4" lengthAdjust="spacingAndGlyphs" transform="rotate(-90 258.2 1955.9)" stroke="#000" stroke-width="0.3">met_25</text><text x="269.4" y="1955.9" font-size="10.0" text-anchor="end" textLength="29.7" lengthAdjust="spacingAndGlyphs" transform="rotate(-90 269.4 1955.9)" stroke="#000" stroke-width="0.3">Yen_6</text><text x="280.6" y="1955.9" font-size="10.0" text-anchor="end" textLength="33.6" lengthAdjust="spacingAndGlyphs" transform="rotate(-90 280.6 1955.9)" stroke="#000" stroke-width="0.3">Vfu_20</text><text x="291.9" y="1955.9" font-size="10.0" text-anchor="end" textLength="33.6" lengthAdjust="spacingAndGlyphs" transform="rotate(-90 291.9 1955.9)" stroke="#000" stroke-width="0.3">Vfu_17</text><text x="303.1" y="1955.9" font-size="10.0" text-anchor="end" textLength="41.2" lengthAdjust="spacingAndGlyphs" transform="rotate(-90 303.1 1955.9)" stroke="#000" stroke-width="0.3">Mmo_12</text><text x="314.3" y="1955.9" font-size="10.0" text-anchor="end" textLength="30.1" lengthAdjust="spacingAndGlyphs" transform="rotate(-90 314.3 1955.9)" stroke="#000" stroke-width="0.3">Ec2_1</text><text x="325.5" y="1955.9" font-size="10.0" text-anchor="end" textLength="36.0" lengthAdjust="spacingAndGlyphs" transform="rotate(-90 325.5 1955.9)" stroke="#000" stroke-width="0.3">Ec6_10</text><text x="336.8" y="1955.9" font-size="10.0" text-anchor="end" textLength="35.4" lengthAdjust="spacingAndGlyphs" transform="rotate(-90 336.8 1955.9)" stroke="#000" stroke-width="0.3">met_15</text><text x="348.0" y="1955.9" font-size="10.0" text-anchor="end" textLength="36.0" lengthAdjust="spacingAndGlyphs" transform="rotate(-90 348.0 1955.9)" stroke="#000" stroke-width="0.3">Ec6_12</text><text x="359.2" y="1955.9" font-size="10.0" text-anchor="end" textLength="33.0" lengthAdjust="spacingAndGlyphs" transform="rotate(-90 359.2 1955.9)" stroke="#000" stroke-width="0.3">Pst_17</text><text x="370.5" y="1955.9" font-size="10.0" text-anchor="end" textLength="33.6" lengthAdjust="spacingAndGlyphs" transform="rotate(-90 370.5 1955.9)" stroke="#000" stroke-width="0.3">Vfu_21</text><text x="381.7" y="1955.9" font-size="10.0" text-anchor="end" textLength="34.2" lengthAdjust="spacingAndGlyphs" transform="rotate(-90 381.7 1955.9)" stroke="#000" stroke-width="0.3">Pre_21</text><text x="392.9" y="1955.9" font-size="10.0" text-anchor="end" textLength="36.3" lengthAdjust="spacingAndGlyphs" transform="rotate(-90 392.9 1955.9)" stroke="#000" stroke-width="0.3">Cda_11</text><text x="404.2" y="1955.9" font-size="10.0" text-anchor="end" textLength="30.7" lengthAdjust="spacingAndGlyphs" transform="rotate(-90 404.2 1955.9)" stroke="#000" stroke-width="0.3">Kpn_3</text><text x="415.4" y="1955.9" font-size="10.0" text-anchor="end" textLength="30.7" lengthAdjust="spacingAndGlyphs" transform="rotate(-90 415.4 1955.9)" stroke="#000" stroke-width="0.3">Kpn_9</text><text x="426.6" y="1955.9" font-size="10.0" text-anchor="end" textLength="32.8" lengthAdjust="spacingAndGlyphs" transform="rotate(-90 426.6 1955.9)" stroke="#000" stroke-width="0.3">Efe_11</text><text x="437.8" y="1955.9" font-size="10.0" text-anchor="end" textLength="33.6" lengthAdjust="spacingAndGlyphs" transform="rotate(-90 437.8 1955.9)" stroke="#000" stroke-width="0.3">Pem_5</text><text x="449.1" y="1955.9" font-size="10.0" text-anchor="end" textLength="33.0" lengthAdjust="spacingAndGlyphs" transform="rotate(-90 449.1 1955.9)" stroke="#000" stroke-width="0.3">Pst_16</text><text x="460.3" y="1955.9" font-size="10.0" text-anchor="end" textLength="30.1" lengthAdjust="spacingAndGlyphs" transform="rotate(-90 460.3 1955.9)" stroke="#000" stroke-width="0.3">Ec6_5</text><text x="471.5" y="1955.9" font-size="10.0" text-anchor="end" textLength="39.5" lengthAdjust="spacingAndGlyphs" transform="rotate(-90 471.5 1955.9)" stroke="#000" stroke-width="0.3">Pma_18</text><text x="482.8" y="1955.9" font-size="10.0" text-anchor="end" textLength="34.2" lengthAdjust="spacingAndGlyphs" transform="rotate(-90 482.8 1955.9)" stroke="#000" stroke-width="0.3">Pre_19</text><text x="494.0" y="1955.9" font-size="10.0" text-anchor="end" textLength="30.1" lengthAdjust="spacingAndGlyphs" transform="rotate(-90 494.0 1955.9)" stroke="#000" stroke-width="0.3">Pse_3</text><text x="505.2" y="1955.9" font-size="10.0" text-anchor="end" textLength="30.1" lengthAdjust="spacingAndGlyphs" transform="rotate(-90 505.2 1955.9)" stroke="#000" stroke-width="0.3">Ec6_6</text><text x="516.5" y="1955.9" font-size="10.0" text-anchor="end" textLength="35.4" lengthAdjust="spacingAndGlyphs" transform="rotate(-90 516.5 1955.9)" stroke="#000" stroke-width="0.3">met_20</text><text x="527.7" y="1955.9" font-size="10.0" text-anchor="end" textLength="37.1" lengthAdjust="spacingAndGlyphs" transform="rotate(-90 527.7 1955.9)" fill="#555" stroke="#555" stroke-width="0.3">Cpa_10</text><text x="538.9" y="1955.9" font-size="10.0" text-anchor="end" textLength="35.6" lengthAdjust="spacingAndGlyphs" transform="rotate(-90 538.9 1955.9)" stroke="#000" stroke-width="0.3">Yen_20</text><text x="550.1" y="1955.9" font-size="10.0" text-anchor="end" textLength="35.4" lengthAdjust="spacingAndGlyphs" transform="rotate(-90 550.1 1955.9)" stroke="#000" stroke-width="0.3">met_10</text><text x="561.4" y="1955.9" font-size="10.0" text-anchor="end" textLength="36.5" lengthAdjust="spacingAndGlyphs" transform="rotate(-90 561.4 1955.9)" stroke="#000" stroke-width="0.3">Kpn_12</text><text x="572.6" y="1955.9" font-size="10.0" text-anchor="end" textLength="33.6" lengthAdjust="spacingAndGlyphs" transform="rotate(-90 572.6 1955.9)" stroke="#000" stroke-width="0.3">Pfa_10</text><text x="583.8" y="1955.9" font-size="10.0" text-anchor="end" textLength="27.1" lengthAdjust="spacingAndGlyphs" transform="rotate(-90 583.8 1955.9)" stroke="#000" stroke-width="0.3">Pst_7</text><text x="595.1" y="1955.9" font-size="10.0" text-anchor="end" textLength="31.2" lengthAdjust="spacingAndGlyphs" transform="rotate(-90 595.1 1955.9)" stroke="#000" stroke-width="0.3">Cda_1</text><text x="606.3" y="1955.9" font-size="10.0" text-anchor="end" textLength="27.7" lengthAdjust="spacingAndGlyphs" transform="rotate(-90 606.3 1955.9)" stroke="#000" stroke-width="0.3">Vfu_4</text><text x="617.5" y="1955.9" font-size="10.0" text-anchor="end" textLength="30.1" lengthAdjust="spacingAndGlyphs" transform="rotate(-90 617.5 1955.9)" stroke="#000" stroke-width="0.3">Pse_2</text><text x="628.8" y="1955.9" font-size="10.0" text-anchor="end" textLength="34.2" lengthAdjust="spacingAndGlyphs" transform="rotate(-90 628.8 1955.9)" stroke="#000" stroke-width="0.3">Pre_22</text><text x="640.0" y="1955.9" font-size="10.0" text-anchor="end" textLength="29.7" lengthAdjust="spacingAndGlyphs" transform="rotate(-90 640.0 1955.9)" stroke="#000" stroke-width="0.3">Yen_8</text><text x="651.2" y="1955.9" font-size="10.0" text-anchor="end" textLength="35.4" lengthAdjust="spacingAndGlyphs" transform="rotate(-90 651.2 1955.9)" stroke="#000" stroke-width="0.3">met_22</text><text x="662.4" y="1955.9" font-size="10.0" text-anchor="end" textLength="31.2" lengthAdjust="spacingAndGlyphs" transform="rotate(-90 662.4 1955.9)" stroke="#000" stroke-width="0.3">Cda_6</text><text x="673.7" y="1955.9" font-size="10.0" text-anchor="end" textLength="29.5" lengthAdjust="spacingAndGlyphs" transform="rotate(-90 673.7 1955.9)" stroke="#000" stroke-width="0.3">met_3</text><text x="684.9" y="1955.9" font-size="10.0" text-anchor="end" textLength="33.0" lengthAdjust="spacingAndGlyphs" transform="rotate(-90 684.9 1955.9)" stroke="#000" stroke-width="0.3">Pst_19</text><text x="696.1" y="1955.9" font-size="10.0" text-anchor="end" textLength="35.4" lengthAdjust="spacingAndGlyphs" transform="rotate(-90 696.1 1955.9)" stroke="#000" stroke-width="0.3">met_33</text><text x="707.4" y="1955.9" font-size="10.0" text-anchor="end" textLength="34.2" lengthAdjust="spacingAndGlyphs" transform="rotate(-90 707.4 1955.9)" stroke="#000" stroke-width="0.3">Pre_15</text><text x="718.6" y="1955.9" font-size="10.0" text-anchor="end" textLength="35.3" lengthAdjust="spacingAndGlyphs" transform="rotate(-90 718.6 1955.9)" stroke="#000" stroke-width="0.3">Mmo_7</text><text x="729.8" y="1955.9" font-size="10.0" text-anchor="end" textLength="33.6" lengthAdjust="spacingAndGlyphs" transform="rotate(-90 729.8 1955.9)" stroke="#000" stroke-width="0.3">Pem_6</text><text x="741.1" y="1955.9" font-size="10.0" text-anchor="end" textLength="27.1" lengthAdjust="spacingAndGlyphs" transform="rotate(-90 741.1 1955.9)" stroke="#000" stroke-width="0.3">Pst_4</text><text x="752.3" y="1955.9" font-size="10.0" text-anchor="end" textLength="33.6" lengthAdjust="spacingAndGlyphs" transform="rotate(-90 752.3 1955.9)" stroke="#000" stroke-width="0.3">Efe_13</text><text x="763.5" y="1955.9" font-size="10.0" text-anchor="end" textLength="28.3" lengthAdjust="spacingAndGlyphs" transform="rotate(-90 763.5 1955.9)" stroke="#000" stroke-width="0.3">Pre_1</text><text x="774.8" y="1955.9" font-size="10.0" text-anchor="end" textLength="33.6" lengthAdjust="spacingAndGlyphs" transform="rotate(-90 774.8 1955.9)" stroke="#000" stroke-width="0.3">Pma_5</text><text x="786.0" y="1955.9" font-size="10.0" text-anchor="end" textLength="33.6" lengthAdjust="spacingAndGlyphs" transform="rotate(-90 786.0 1955.9)" stroke="#000" stroke-width="0.3">Pem_1</text><text x="797.2" y="1955.9" font-size="10.0" text-anchor="end" textLength="40.5" lengthAdjust="spacingAndGlyphs" transform="rotate(-90 797.2 1955.9)" stroke="#000" stroke-width="0.3">Mmo_11</text><text x="808.4" y="1955.9" font-size="10.0" text-anchor="end" textLength="36.5" lengthAdjust="spacingAndGlyphs" transform="rotate(-90 808.4 1955.9)" stroke="#000" stroke-width="0.3">Kpn_14</text><text x="819.7" y="1955.9" font-size="10.0" text-anchor="end" textLength="27.7" lengthAdjust="spacingAndGlyphs" transform="rotate(-90 819.7 1955.9)" stroke="#000" stroke-width="0.3">Vfu_6</text><text x="830.9" y="1955.9" font-size="10.0" text-anchor="end" textLength="33.6" lengthAdjust="spacingAndGlyphs" transform="rotate(-90 830.9 1955.9)" stroke="#000" stroke-width="0.3">Efe_14</text><text x="842.1" y="1955.9" font-size="10.0" text-anchor="end" textLength="34.2" lengthAdjust="spacingAndGlyphs" transform="rotate(-90 842.1 1955.9)" stroke="#000" stroke-width="0.3">Pre_17</text><text x="853.4" y="1955.9" font-size="10.0" text-anchor="end" textLength="28.3" lengthAdjust="spacingAndGlyphs" transform="rotate(-90 853.4 1955.9)" stroke="#000" stroke-width="0.3">Yre_9</text><text x="864.6" y="1955.9" font-size="10.0" text-anchor="end" textLength="29.7" lengthAdjust="spacingAndGlyphs" transform="rotate(-90 864.6 1955.9)" stroke="#000" stroke-width="0.3">Yen_7</text><text x="875.8" y="1955.9" font-size="10.0" text-anchor="end" textLength="27.1" lengthAdjust="spacingAndGlyphs" transform="rotate(-90 875.8 1955.9)" stroke="#000" stroke-width="0.3">Pst_1</text><text x="887.0" y="1955.9" font-size="10.0" text-anchor="end" textLength="35.3" lengthAdjust="spacingAndGlyphs" transform="rotate(-90 887.0 1955.9)" stroke="#000" stroke-width="0.3">Mmo_5</text><text x="898.3" y="1955.9" font-size="10.0" text-anchor="end" textLength="35.4" lengthAdjust="spacingAndGlyphs" transform="rotate(-90 898.3 1955.9)" stroke="#000" stroke-width="0.3">met_46</text><text x="909.5" y="1955.9" font-size="10.0" text-anchor="end" textLength="35.4" lengthAdjust="spacingAndGlyphs" transform="rotate(-90 909.5 1955.9)" stroke="#000" stroke-width="0.3">met_26</text><text x="920.7" y="1955.9" font-size="10.0" text-anchor="end" textLength="33.6" lengthAdjust="spacingAndGlyphs" transform="rotate(-90 920.7 1955.9)" stroke="#000" stroke-width="0.3">Pfa_18</text><text x="932.0" y="1955.9" font-size="10.0" text-anchor="end" textLength="34.2" lengthAdjust="spacingAndGlyphs" transform="rotate(-90 932.0 1955.9)" stroke="#000" stroke-width="0.3">Pre_10</text><text x="943.2" y="1955.9" font-size="10.0" text-anchor="end" textLength="36.5" lengthAdjust="spacingAndGlyphs" transform="rotate(-90 943.2 1955.9)" stroke="#000" stroke-width="0.3">Kpn_10</text><text x="954.4" y="1955.9" font-size="10.0" text-anchor="end" textLength="28.3" lengthAdjust="spacingAndGlyphs" transform="rotate(-90 954.4 1955.9)" stroke="#000" stroke-width="0.3">Pre_2</text><text x="965.7" y="1955.9" font-size="10.0" text-anchor="end" textLength="38.7" lengthAdjust="spacingAndGlyphs" transform="rotate(-90 965.7 1955.9)" stroke="#000" stroke-width="0.3">Pma_11</text><text x="976.9" y="1955.9" font-size="10.0" text-anchor="end" textLength="34.2" lengthAdjust="spacingAndGlyphs" transform="rotate(-90 976.9 1955.9)" stroke="#000" stroke-width="0.3">Pre_24</text><text x="988.1" y="1955.9" font-size="10.0" text-anchor="end" textLength="33.0" lengthAdjust="spacingAndGlyphs" transform="rotate(-90 988.1 1955.9)" stroke="#000" stroke-width="0.3">Pst_14</text><text x="999.4" y="1955.9" font-size="10.0" text-anchor="end" textLength="39.5" lengthAdjust="spacingAndGlyphs" transform="rotate(-90 999.4 1955.9)" stroke="#000" stroke-width="0.3">Pma_17</text><text x="1010.6" y="1955.9" font-size="10.0" text-anchor="end" textLength="35.4" lengthAdjust="spacingAndGlyphs" transform="rotate(-90 1010.6 1955.9)" stroke="#000" stroke-width="0.3">met_38</text><text x="1021.8" y="1955.9" font-size="10.0" text-anchor="end" textLength="36.0" lengthAdjust="spacingAndGlyphs" transform="rotate(-90 1021.8 1955.9)" stroke="#000" stroke-width="0.3">Ec6_19</text><text x="1033.0" y="1955.9" font-size="10.0" text-anchor="end" textLength="27.7" lengthAdjust="spacingAndGlyphs" transform="rotate(-90 1033.0 1955.9)" stroke="#000" stroke-width="0.3">Efe_6</text><text x="1044.3" y="1955.9" font-size="10.0" text-anchor="end" textLength="27.1" lengthAdjust="spacingAndGlyphs" transform="rotate(-90 1044.3 1955.9)" stroke="#000" stroke-width="0.3">Pst_2</text><text x="1055.5" y="1955.9" font-size="10.0" text-anchor="end" textLength="27.7" lengthAdjust="spacingAndGlyphs" transform="rotate(-90 1055.5 1955.9)" stroke="#000" stroke-width="0.3">Efe_3</text><text x="1066.7" y="1955.9" font-size="10.0" text-anchor="end" textLength="33.6" lengthAdjust="spacingAndGlyphs" transform="rotate(-90 1066.7 1955.9)" stroke="#000" stroke-width="0.3">Efe_12</text><text x="1078.0" y="1955.9" font-size="10.0" text-anchor="end" textLength="27.7" lengthAdjust="spacingAndGlyphs" transform="rotate(-90 1078.0 1955.9)" stroke="#000" stroke-width="0.3">Efe_9</text><text x="1089.2" y="1955.9" font-size="10.0" text-anchor="end" textLength="28.3" lengthAdjust="spacingAndGlyphs" transform="rotate(-90 1089.2 1955.9)" stroke="#000" stroke-width="0.3">Yre_3</text><text x="1100.4" y="1955.9" font-size="10.0" text-anchor="end" textLength="35.6" lengthAdjust="spacingAndGlyphs" transform="rotate(-90 1100.4 1955.9)" stroke="#000" stroke-width="0.3">Yen_12</text><text x="1111.7" y="1955.9" font-size="10.0" text-anchor="end" textLength="35.3" lengthAdjust="spacingAndGlyphs" transform="rotate(-90 1111.7 1955.9)" stroke="#000" stroke-width="0.3">Mmo_8</text><text x="1122.9" y="1955.9" font-size="10.0" text-anchor="end" textLength="32.2" lengthAdjust="spacingAndGlyphs" transform="rotate(-90 1122.9 1955.9)" stroke="#000" stroke-width="0.3">Pst_11</text><text x="1134.1" y="1955.9" font-size="10.0" text-anchor="end" textLength="33.6" lengthAdjust="spacingAndGlyphs" transform="rotate(-90 1134.1 1955.9)" stroke="#000" stroke-width="0.3">Vfu_12</text><text x="1145.3" y="1955.9" font-size="10.0" text-anchor="end" textLength="33.6" lengthAdjust="spacingAndGlyphs" transform="rotate(-90 1145.3 1955.9)" stroke="#000" stroke-width="0.3">Pfa_14</text><text x="1156.6" y="1955.9" font-size="10.0" text-anchor="end" textLength="28.3" lengthAdjust="spacingAndGlyphs" transform="rotate(-90 1156.6 1955.9)" stroke="#000" stroke-width="0.3">Yre_1</text><text x="1167.8" y="1955.9" font-size="10.0" text-anchor="end" textLength="27.1" lengthAdjust="spacingAndGlyphs" transform="rotate(-90 1167.8 1955.9)" stroke="#000" stroke-width="0.3">Pst_6</text><text x="1179.0" y="1955.9" font-size="10.0" text-anchor="end" textLength="41.2" lengthAdjust="spacingAndGlyphs" transform="rotate(-90 1179.0 1955.9)" stroke="#000" stroke-width="0.3">Mmo_10</text><text x="1190.3" y="1955.9" font-size="10.0" text-anchor="end" textLength="28.3" lengthAdjust="spacingAndGlyphs" transform="rotate(-90 1190.3 1955.9)" stroke="#000" stroke-width="0.3">Pre_5</text><text x="1201.5" y="1955.9" font-size="10.0" text-anchor="end" textLength="35.6" lengthAdjust="spacingAndGlyphs" transform="rotate(-90 1201.5 1955.9)" stroke="#000" stroke-width="0.3">Yen_14</text><text x="1212.7" y="1955.9" font-size="10.0" text-anchor="end" textLength="33.6" lengthAdjust="spacingAndGlyphs" transform="rotate(-90 1212.7 1955.9)" stroke="#000" stroke-width="0.3">Pfa_15</text><text x="1224.0" y="1955.9" font-size="10.0" text-anchor="end" textLength="27.7" lengthAdjust="spacingAndGlyphs" transform="rotate(-90 1224.0 1955.9)" stroke="#000" stroke-width="0.3">Pfa_4</text><text x="1235.2" y="1955.9" font-size="10.0" text-anchor="end" textLength="31.2" lengthAdjust="spacingAndGlyphs" transform="rotate(-90 1235.2 1955.9)" fill="#555" stroke="#555" stroke-width="0.3">Cpa_6</text><text x="1246.4" y="1955.9" font-size="10.0" text-anchor="end" textLength="33.6" lengthAdjust="spacingAndGlyphs" transform="rotate(-90 1246.4 1955.9)" stroke="#000" stroke-width="0.3">Vfu_14</text><text x="1257.6" y="1955.9" font-size="10.0" text-anchor="end" textLength="33.6" lengthAdjust="spacingAndGlyphs" transform="rotate(-90 1257.6 1955.9)" stroke="#000" stroke-width="0.3">Pfa_13</text><text x="1268.9" y="1955.9" font-size="10.0" text-anchor="end" textLength="32.8" lengthAdjust="spacingAndGlyphs" transform="rotate(-90 1268.9 1955.9)" stroke="#000" stroke-width="0.3">Pfa_11</text><text x="1280.1" y="1955.9" font-size="10.0" text-anchor="end" textLength="33.6" lengthAdjust="spacingAndGlyphs" transform="rotate(-90 1280.1 1955.9)" stroke="#000" stroke-width="0.3">Pem_2</text><text x="1291.3" y="1955.9" font-size="10.0" text-anchor="end" textLength="33.6" lengthAdjust="spacingAndGlyphs" transform="rotate(-90 1291.3 1955.9)" stroke="#000" stroke-width="0.3">Vfu_15</text><text x="1302.6" y="1955.9" font-size="10.0" text-anchor="end" textLength="33.0" lengthAdjust="spacingAndGlyphs" transform="rotate(-90 1302.6 1955.9)" stroke="#000" stroke-width="0.3">Pst_13</text><text x="1313.8" y="1955.9" font-size="10.0" text-anchor="end" textLength="29.7" lengthAdjust="spacingAndGlyphs" transform="rotate(-90 1313.8 1955.9)" stroke="#000" stroke-width="0.3">Yen_2</text><text x="1325.0" y="1955.9" font-size="10.0" text-anchor="end" textLength="33.6" lengthAdjust="spacingAndGlyphs" transform="rotate(-90 1325.0 1955.9)" stroke="#000" stroke-width="0.3">Pem_8</text><text x="1336.3" y="1955.9" font-size="10.0" text-anchor="end" textLength="28.3" lengthAdjust="spacingAndGlyphs" transform="rotate(-90 1336.3 1955.9)" stroke="#000" stroke-width="0.3">Pre_9</text><text x="1347.5" y="1955.9" font-size="10.0" text-anchor="end" textLength="35.6" lengthAdjust="spacingAndGlyphs" transform="rotate(-90 1347.5 1955.9)" stroke="#000" stroke-width="0.3">Yen_10</text><text x="1358.7" y="1955.9" font-size="10.0" text-anchor="end" textLength="35.6" lengthAdjust="spacingAndGlyphs" transform="rotate(-90 1358.7 1955.9)" stroke="#000" stroke-width="0.3">Yen_18</text><text x="1369.9" y="1955.9" font-size="10.0" text-anchor="end" textLength="30.1" lengthAdjust="spacingAndGlyphs" transform="rotate(-90 1369.9 1955.9)" stroke="#000" stroke-width="0.3">Ec2_3</text><text x="1381.2" y="1955.9" font-size="10.0" text-anchor="end" textLength="27.7" lengthAdjust="spacingAndGlyphs" transform="rotate(-90 1381.2 1955.9)" stroke="#000" stroke-width="0.3">Vfu_1</text><text x="1392.4" y="1955.9" font-size="10.0" text-anchor="end" textLength="34.8" lengthAdjust="spacingAndGlyphs" transform="rotate(-90 1392.4 1955.9)" stroke="#000" stroke-width="0.3">Yen_11</text><text x="1403.6" y="1955.9" font-size="10.0" text-anchor="end" textLength="34.2" lengthAdjust="spacingAndGlyphs" transform="rotate(-90 1403.6 1955.9)" stroke="#000" stroke-width="0.3">Pre_16</text><text x="10.4" y="25.2" font-size="33.5" font-weight="bold">a</text><text x="332.5" y="2026.0" font-size="20.3" text-anchor="middle">Cluster ID</text><rect x="87.8" y="2033.5" width="13.4" height="39" fill="#a9bfe0" stroke="#222" stroke-width="1"/><text x="88.0" y="2080.5" font-size="20" transform="rotate(90 88.0 2080.5)">120</text><rect x="106.8" y="2033.5" width="13.4" height="39" fill="#3f7ab4" stroke="#222" stroke-width="1"/><text x="107.0" y="2080.5" font-size="20" transform="rotate(90 107.0 2080.5)">119</text><rect x="125.8" y="2033.5" width="13.4" height="39" fill="#c994c7" stroke="#222" stroke-width="1"/><text x="126.0" y="2080.5" font-size="20" transform="rotate(90 126.0 2080.5)">118</text><rect x="144.7" y="2033.5" width="13.4" height="39" fill="#eedfcc" stroke="#222" stroke-width="1"/><text x="144.9" y="2080.5" font-size="20" transform="rotate(90 144.9 2080.5)">116</text><rect x="163.7" y="2033.5" width="13.4" height="39" fill="#7f877f" stroke="#222" stroke-width="1"/><text x="163.9" y="2080.5" font-size="20" transform="rotate(90 163.9 2080.5)">105</text><rect x="182.7" y="2033.5" width="13.4" height="39" fill="#e50000" stroke="#222" stroke-width="1"/><text x="182.9" y="2080.5" font-size="20" transform="rotate(90 182.9 2080.5)">104</text><rect x="201.7" y="2033.5" width="13.4" height="39" fill="#8b3a62" stroke="#222" stroke-width="1"/><text x="201.9" y="2080.5" font-size="20" transform="rotate(90 201.9 2080.5)">103</text><rect x="220.7" y="2033.5" width="13.4" height="39" fill="#191970" stroke="#222" stroke-width="1"/><text x="220.9" y="2080.5" font-size="20" transform="rotate(90 220.9 2080.5)">101</text><rect x="239.6" y="2033.5" width="13.4" height="39" fill="#b4eeb4" stroke="#222" stroke-width="1"/><text x="239.8" y="2080.5" font-size="20" transform="rotate(90 239.8 2080.5)">99</text><rect x="258.6" y="2033.5" width="13.4" height="39" fill="#9acd32" stroke="#222" stroke-width="1"/><text x="258.8" y="2080.5" font-size="20" transform="rotate(90 258.8 2080.5)">93</text><rect x="277.6" y="2033.5" width="13.4" height="39" fill="#0000ff" stroke="#222" stroke-width="1"/><text x="277.8" y="2080.5" font-size="20" transform="rotate(90 277.8 2080.5)">90</text><rect x="296.6" y="2033.5" width="13.4" height="39" fill="#ff69b4" stroke="#222" stroke-width="1"/><text x="296.8" y="2080.5" font-size="20" transform="rotate(90 296.8 2080.5)">80</text><rect x="315.6" y="2033.5" width="13.4" height="39" fill="#cd5c5c" stroke="#222" stroke-width="1"/><text x="315.8" y="2080.5" font-size="20" transform="rotate(90 315.8 2080.5)">77</text><rect x="334.5" y="2033.5" width="13.4" height="39" fill="#b22222" stroke="#222" stroke-width="1"/><text x="334.7" y="2080.5" font-size="20" transform="rotate(90 334.7 2080.5)">62</text><rect x="353.5" y="2033.5" width="13.4" height="39" fill="#8b7d7b" stroke="#222" stroke-width="1"/><text x="353.7" y="2080.5" font-size="20" transform="rotate(90 353.7 2080.5)">59</text><rect x="372.5" y="2033.5" width="13.4" height="39" fill="#000000" stroke="#222" stroke-width="1"/><text x="372.7" y="2080.5" font-size="20" transform="rotate(90 372.7 2080.5)">47</text><rect x="391.5" y="2033.5" width="13.4" height="39" fill="#ee9a49" stroke="#222" stroke-width="1"/><text x="391.7" y="2080.5" font-size="20" transform="rotate(90 391.7 2080.5)">42</text><rect x="410.5" y="2033.5" width="13.4" height="39" fill="#d1eeee" stroke="#222" stroke-width="1"/><text x="410.7" y="2080.5" font-size="20" transform="rotate(90 410.7 2080.5)">41</text><rect x="429.4" y="2033.5" width="13.4" height="39" fill="#ffc0cb" stroke="#222" stroke-width="1"/><text x="429.6" y="2080.5" font-size="20" transform="rotate(90 429.6 2080.5)">38</text><rect x="448.4" y="2033.5" width="13.4" height="39" fill="#bf3eff" stroke="#222" stroke-width="1"/><text x="448.6" y="2080.5" font-size="20" transform="rotate(90 448.6 2080.5)">37</text><rect x="467.4" y="2033.5" width="13.4" height="39" fill="#79b8c9" stroke="#222" stroke-width="1"/><text x="467.6" y="2080.5" font-size="20" transform="rotate(90 467.6 2080.5)">36</text><rect x="486.4" y="2033.5" width="13.4" height="39" fill="#008b8b" stroke="#222" stroke-width="1"/><text x="486.6" y="2080.5" font-size="20" transform="rotate(90 486.6 2080.5)">19</text><rect x="505.4" y="2033.5" width="13.4" height="39" fill="#4876ff" stroke="#222" stroke-width="1"/><text x="505.6" y="2080.5" font-size="20" transform="rotate(90 505.6 2080.5)">17</text><rect x="524.3" y="2033.5" width="13.4" height="39" fill="#ff7f24" stroke="#222" stroke-width="1"/><text x="524.5" y="2080.5" font-size="20" transform="rotate(90 524.5 2080.5)">15</text><rect x="543.3" y="2033.5" width="13.4" height="39" fill="#ffff00" stroke="#222" stroke-width="1"/><text x="543.5" y="2080.5" font-size="20" transform="rotate(90 543.5 2080.5)">8</text><rect x="562.3" y="2033.5" width="13.4" height="39" fill="#00ffff" stroke="#222" stroke-width="1"/><text x="562.5" y="2080.5" font-size="20" transform="rotate(90 562.5 2080.5)">3</text><defs><linearGradient id="jg" x1="0" x2="1" y1="0" y2="0"><stop offset="0" stop-color="#f6f3dc"/><stop offset="0.06" stop-color="#f6f0d8"/><stop offset="0.2" stop-color="#f9c9a8"/><stop offset="0.4" stop-color="#f8704c"/><stop offset="0.5" stop-color="#ff0000"/><stop offset="0.6" stop-color="#e81818"/><stop offset="0.8" stop-color="#c42020"/><stop offset="1" stop-color="#a52a2a"/></linearGradient></defs><rect x="622" y="2037.8" width="170" height="35.4" fill="url(#jg)"/><rect x="626.3" y="2040" width="2.4" height="4.5" fill="#111"/><rect x="626.3" y="2066.5" width="2.4" height="4.5" fill="#111"/><rect x="658.2" y="2040" width="2.4" height="4.5" fill="#111"/><rect x="658.2" y="2066.5" width="2.4" height="4.5" fill="#111"/><rect x="690.1" y="2040" width="2.4" height="4.5" fill="#111"/><rect x="690.1" y="2066.5" width="2.4" height="4.5" fill="#111"/><rect x="722.0" y="2040" width="2.4" height="4.5" fill="#111"/><rect x="722.0" y="2066.5" width="2.4" height="4.5" fill="#111"/><rect x="753.9" y="2040" width="2.4" height="4.5" fill="#111"/><rect x="753.9" y="2066.5" width="2.4" height="4.5" fill="#111"/><rect x="785.8" y="2040" width="2.4" height="4.5" fill="#111"/><rect x="785.8" y="2066.5" width="2.4" height="4.5" fill="#111"/><text x="709.0" y="2026.0" font-size="20.4" text-anchor="middle">Jaccard index</text><text x="627.3" y="2100.0" font-size="20.4" text-anchor="middle">0</text><text x="689.3" y="2100.0" font-size="20.4" text-anchor="middle">0.4</text><text x="754.5" y="2100.0" font-size="20.4" text-anchor="middle">0.8</text><text x="786.5" y="2100.0" font-size="20.4" text-anchor="middle">1</text><text x="808.0" y="2063.0" font-size="20.4">H Homologous pair</text><text x="1494.8" y="24.3" font-size="33.5" font-weight="bold">b</text><path d="M1614.8 47V512.5H2035" fill="none" stroke="#222" stroke-width="1.6"/><path d="M1614.8 491h6" stroke="#222" stroke-width="1.4"/><text x="1609.0" y="499.1" font-size="22.2" text-anchor="end">0</text><path d="M1614.8 394h6" stroke="#222" stroke-width="1.4"/><text x="1609.0" y="402.1" font-size="22.2" text-anchor="end">500</text><path d="M1614.8 296h6" stroke="#222" stroke-width="1.4"/><text x="1609.0" y="304.1" font-size="22.2" text-anchor="end">1000</text><path d="M1614.8 199h6" stroke="#222" stroke-width="1.4"/><text x="1609.0" y="207.1" font-size="22.2" text-anchor="end">1500</text><path d="M1614.8 102h6" stroke="#222" stroke-width="1.4"/><text x="1609.0" y="110.1" font-size="22.2" text-anchor="end">2000</text><path d="M1643 512.5v-6" stroke="#222" stroke-width="1.4"/><text x="1643.0" y="533.3" font-size="22.2" text-anchor="middle">0</text><path d="M1793.3 512.5v-6" stroke="#222" stroke-width="1.4"/><text x="1793.3" y="533.3" font-size="22.2" text-anchor="middle">10</text><path d="M1943.6 512.5v-6" stroke="#222" stroke-width="1.4"/><text x="1943.6" y="533.3" font-size="22.2" text-anchor="middle">20</text><text x="1824.5" y="563.0" font-size="22.2" text-anchor="middle" textLength="309.0" lengthAdjust="spacingAndGlyphs">Number of inferred interactions</text><text x="1540.0" y="279.5" font-size="22.2" text-anchor="middle" textLength="273.0" lengthAdjust="spacingAndGlyphs" transform="rotate(-90 1540.0 279.5)">Number of random networks</text><text x="1671.5" y="51.8" font-size="22.2" text-anchor="middle" textLength="75.0" lengthAdjust="spacingAndGlyphs">random</text><text x="1973.5" y="339.0" font-size="22.2" text-anchor="middle">obs.</text><rect x="1634.6" y="288.3" width="16.1" height="202.7" fill="#c9cbce"/><rect x="1650.4" y="95.6" width="16.1" height="395.4" fill="#c9cbce"/><rect x="1666.1" y="58.7" width="16.1" height="432.3" fill="#c9cbce"/><rect x="1681.9" y="142.7" width="16.1" height="348.3" fill="#c9cbce"/><rect x="1697.7" y="255.0" width="16.1" height="236.0" fill="#c9cbce"/><rect x="1713.4" y="349.3" width="16.1" height="141.7" fill="#c9cbce"/><rect x="1729.2" y="406.8" width="16.1" height="84.2" fill="#c9cbce"/><rect x="1745.0" y="444.9" width="16.1" height="46.1" fill="#c9cbce"/><rect x="1760.8" y="464.3" width="16.1" height="26.7" fill="#c9cbce"/><rect x="1776.5" y="477.0" width="16.1" height="14.0" fill="#c9cbce"/><rect x="1792.3" y="483.7" width="16.1" height="7.3" fill="#c9cbce"/><rect x="1808.1" y="488.5" width="16.1" height="2.5" fill="#c9cbce"/><rect x="1823.8" y="487.7" width="16.1" height="3.3" fill="#c9cbce"/><rect x="1839.6" y="490.2" width="16.1" height="0.8" fill="#c9cbce"/><rect x="1855.4" y="490.4" width="16.1" height="0.6" fill="#c9cbce"/><rect x="1871.1" y="490.4" width="16.1" height="0.6" fill="#c9cbce"/><rect x="1886.9" y="490.4" width="16.1" height="0.6" fill="#c9cbce"/><rect x="1902.7" y="489.6" width="16.1" height="1.4" fill="#c9cbce"/><rect x="1918.5" y="489.6" width="16.1" height="1.4" fill="#c9cbce"/><rect x="1934.2" y="489.6" width="16.1" height="1.4" fill="#c9cbce"/><rect x="1950.0" y="489.8" width="16.1" height="1.2" fill="#c9cbce"/><rect x="1965.8" y="490.6" width="16.1" height="0.4" fill="#c9cbce"/><rect x="1981.5" y="490.6" width="16.1" height="0.4" fill="#c9cbce"/><rect x="1997.3" y="490.6" width="16.1" height="0.4" fill="#c9cbce"/><rect x="2013.1" y="490.6" width="16.1" height="0.4" fill="#c9cbce"/><path d="M1975 345V479" stroke="#b80d44" stroke-width="5"/><path d="M1966.5 477.2H1983.5L1975 493.5Z" fill="#b80d44"/><text x="1494.3" y="666.2" font-size="33.5" font-weight="bold">c</text><path d="M1614.8 676.8V945.2H2166" fill="none" stroke="#222" stroke-width="1.6"/><path d="M1614.8 932.5h6" stroke="#222" stroke-width="1.4"/><text x="1609.0" y="940.6" font-size="22.2" text-anchor="end">0</text><path d="M1614.8 858.8h6" stroke="#222" stroke-width="1.4"/><text x="1609.0" y="866.9" font-size="22.2" text-anchor="end">2000</text><path d="M1614.8 785.0h6" stroke="#222" stroke-width="1.4"/><text x="1609.0" y="793.1" font-size="22.2" text-anchor="end">4000</text><path d="M1614.8 711.7h6" stroke="#222" stroke-width="1.4"/><text x="1609.0" y="719.8" font-size="22.2" text-anchor="end">6000</text><path d="M1627.5 945.2v-6" stroke="#222" stroke-width="1.2"/><text x="1627.5" y="967.0" font-size="22.2" text-anchor="middle">1</text><path d="M1645.0 945.2v-6" stroke="#222" stroke-width="1.2"/><path d="M1662.6 945.2v-6" stroke="#222" stroke-width="1.2"/><text x="1662.6" y="967.0" font-size="22.2" text-anchor="middle">3</text><path d="M1680.2 945.2v-6" stroke="#222" stroke-width="1.2"/><path d="M1697.7 945.2v-6" stroke="#222" stroke-width="1.2"/><text x="1697.7" y="967.0" font-size="22.2" text-anchor="middle">5</text><path d="M1715.2 945.2v-6" stroke="#222" stroke-width="1.2"/><path d="M1732.8 945.2v-6" stroke="#222" stroke-width="1.2"/><text x="1732.8" y="967.0" font-size="22.2" text-anchor="middle">7</text><path d="M1750.3 945.2v-6" stroke="#222" stroke-width="1.2"/><path d="M1767.9 945.2v-6" stroke="#222" stroke-width="1.2"/><text x="1767.9" y="967.0" font-size="22.2" text-anchor="middle">9</text><path d="M1785.5 945.2v-6" stroke="#222" stroke-width="1.2"/><path d="M1803.0 945.2v-6" stroke="#222" stroke-width="1.2"/><text x="1803.0" y="967.0" font-size="22.2" text-anchor="middle">11</text><path d="M1820.5 945.2v-6" stroke="#222" stroke-width="1.2"/><path d="M1838.1 945.2v-6" stroke="#222" stroke-width="1.2"/><text x="1838.1" y="967.0" font-size="22.2" text-anchor="middle">13</text><path d="M1855.7 945.2v-6" stroke="#222" stroke-width="1.2"/><path d="M1873.2 945.2v-6" stroke="#222" stroke-width="1.2"/><text x="1873.2" y="967.0" font-size="22.2" text-anchor="middle">15</text><path d="M1890.8 945.2v-6" stroke="#222" stroke-width="1.2"/><path d="M1908.3 945.2v-6" stroke="#222" stroke-width="1.2"/><text x="1908.3" y="967.0" font-size="22.2" text-anchor="middle">17</text><path d="M1925.8 945.2v-6" stroke="#222" stroke-width="1.2"/><path d="M1943.4 945.2v-6" stroke="#222" stroke-width="1.2"/><text x="1943.4" y="967.0" font-size="22.2" text-anchor="middle">19</text><path d="M1961.0 945.2v-6" stroke="#222" stroke-width="1.2"/><path d="M1978.5 945.2v-6" stroke="#222" stroke-width="1.2"/><text x="1978.5" y="967.0" font-size="22.2" text-anchor="middle">21</text><path d="M1996.0 945.2v-6" stroke="#222" stroke-width="1.2"/><path d="M2013.6 945.2v-6" stroke="#222" stroke-width="1.2"/><text x="2013.6" y="967.0" font-size="22.2" text-anchor="middle">23</text><path d="M2031.2 945.2v-6" stroke="#222" stroke-width="1.2"/><path d="M2048.7 945.2v-6" stroke="#222" stroke-width="1.2"/><text x="2048.7" y="967.0" font-size="22.2" text-anchor="middle">25</text><path d="M2066.2 945.2v-6" stroke="#222" stroke-width="1.2"/><path d="M2083.8 945.2v-6" stroke="#222" stroke-width="1.2"/><text x="2083.8" y="967.0" font-size="22.2" text-anchor="middle">27</text><path d="M2101.3 945.2v-6" stroke="#222" stroke-width="1.2"/><path d="M2118.9 945.2v-6" stroke="#222" stroke-width="1.2"/><text x="2118.9" y="967.0" font-size="22.2" text-anchor="middle">29</text><path d="M2136.4 945.2v-6" stroke="#222" stroke-width="1.2"/><path d="M2154.0 945.2v-6" stroke="#222" stroke-width="1.2"/><text x="2154.0" y="967.0" font-size="22.2" text-anchor="middle">31</text><rect x="1638.5" y="915.5" width="13" height="17.0" fill="#c0c0c0"/><rect x="1656.1" y="881.8" width="13" height="50.7" fill="#c0c0c0"/><rect x="1673.7" y="854.9" width="13" height="77.6" fill="#c0c0c0"/><rect x="1691.2" y="839.0" width="13" height="93.5" fill="#c0c0c0"/><rect x="1708.8" y="825.9" width="13" height="106.6" fill="#c0c0c0"/><rect x="1726.3" y="818.0" width="13" height="114.5" fill="#c0c0c0"/><rect x="1743.8" y="811.6" width="13" height="120.9" fill="#c0c0c0"/><rect x="1761.4" y="806.5" width="13" height="126.0" fill="#c0c0c0"/><rect x="1779.0" y="801.4" width="13" height="131.1" fill="#c0c0c0"/><rect x="1796.5" y="795.8" width="13" height="136.7" fill="#c0c0c0"/><rect x="1814.0" y="790.7" width="13" height="141.8" fill="#c0c0c0"/><rect x="1831.6" y="786.7" width="13" height="145.8" fill="#c0c0c0"/><rect x="1849.2" y="781.9" width="13" height="150.6" fill="#c0c0c0"/><rect x="1866.7" y="777.2" width="13" height="155.3" fill="#c0c0c0"/><rect x="1884.2" y="771.6" width="13" height="160.9" fill="#c0c0c0"/><rect x="1901.8" y="766.9" width="13" height="165.6" fill="#c0c0c0"/><rect x="1919.3" y="761.3" width="13" height="171.2" fill="#c0c0c0"/><rect x="1936.9" y="756.2" width="13" height="176.3" fill="#c0c0c0"/><rect x="1954.5" y="749.4" width="13" height="183.1" fill="#c0c0c0"/><rect x="1972.0" y="743.1" width="13" height="189.4" fill="#c0c0c0"/><rect x="1989.5" y="737.6" width="13" height="194.9" fill="#c0c0c0"/><rect x="2007.1" y="731.6" width="13" height="200.9" fill="#c0c0c0"/><rect x="2024.7" y="725.3" width="13" height="207.2" fill="#c0c0c0"/><rect x="2042.2" y="719.3" width="13" height="213.2" fill="#c0c0c0"/><rect x="2059.8" y="712.2" width="13" height="220.3" fill="#c0c0c0"/><rect x="2077.3" y="701.1" width="13" height="231.4" fill="#c0c0c0"/><rect x="2094.8" y="692.0" width="13" height="240.5" fill="#c0c0c0"/><rect x="2112.4" y="684.9" width="13" height="247.6" fill="#c0c0c0"/><rect x="2129.9" y="679.7" width="13" height="252.8" fill="#c0c0c0"/><rect x="2147.5" y="678.1" width="13" height="254.4" fill="#c0c0c0"/><text x="1894.5" y="997.0" font-size="22.2" text-anchor="middle" textLength="139.0" lengthAdjust="spacingAndGlyphs">PAE score (Å)</text><text x="1539.5" y="810.0" font-size="22.2" text-anchor="middle" textLength="190.0" lengthAdjust="spacingAndGlyphs" transform="rotate(-90 1539.5 810.0)">Number of contacts</text><text x="1494.3" y="1440.8" font-size="33.5" font-weight="bold">d</text><path d="M1614 1451.5V1720H2166" fill="none" stroke="#222" stroke-width="1.6"/><path d="M1614 1708.0h6" stroke="#222" stroke-width="1.4"/><text x="1609.0" y="1716.1" font-size="22.2" text-anchor="end">0</text><path d="M1614 1653.0h6" stroke="#222" stroke-width="1.4"/><text x="1609.0" y="1661.1" font-size="22.2" text-anchor="end">1000</text><path d="M1614 1598.3h6" stroke="#222" stroke-width="1.4"/><text x="1609.0" y="1606.4" font-size="22.2" text-anchor="end">2000</text><path d="M1614 1542.7h6" stroke="#222" stroke-width="1.4"/><text x="1609.0" y="1550.8" font-size="22.2" text-anchor="end">3000</text><path d="M1614 1487.6h6" stroke="#222" stroke-width="1.4"/><text x="1609.0" y="1495.7" font-size="22.2" text-anchor="end">4000</text><path d="M1629.9 1720v-6" stroke="#222" stroke-width="1.2"/><text x="1629.9" y="1739.8" font-size="22.2" text-anchor="middle">1</text><path d="M1647.4 1720v-6" stroke="#222" stroke-width="1.2"/><path d="M1664.9 1720v-6" stroke="#222" stroke-width="1.2"/><text x="1664.9" y="1739.8" font-size="22.2" text-anchor="middle">3</text><path d="M1682.4 1720v-6" stroke="#222" stroke-width="1.2"/><path d="M1700.0 1720v-6" stroke="#222" stroke-width="1.2"/><text x="1700.0" y="1739.8" font-size="22.2" text-anchor="middle">5</text><path d="M1717.5 1720v-6" stroke="#222" stroke-width="1.2"/><path d="M1735.0 1720v-6" stroke="#222" stroke-width="1.2"/><text x="1735.0" y="1739.8" font-size="22.2" text-anchor="middle">7</text><path d="M1752.5 1720v-6" stroke="#222" stroke-width="1.2"/><path d="M1770.0 1720v-6" stroke="#222" stroke-width="1.2"/><text x="1770.0" y="1739.8" font-size="22.2" text-anchor="middle">9</text><path d="M1787.5 1720v-6" stroke="#222" stroke-width="1.2"/><path d="M1805.0 1720v-6" stroke="#222" stroke-width="1.2"/><text x="1805.0" y="1739.8" font-size="22.2" text-anchor="middle">11</text><path d="M1822.5 1720v-6" stroke="#222" stroke-width="1.2"/><path d="M1840.1 1720v-6" stroke="#222" stroke-width="1.2"/><text x="1840.1" y="1739.8" font-size="22.2" text-anchor="middle">13</text><path d="M1857.6 1720v-6" stroke="#222" stroke-width="1.2"/><path d="M1875.1 1720v-6" stroke="#222" stroke-width="1.2"/><text x="1875.1" y="1739.8" font-size="22.2" text-anchor="middle">15</text><path d="M1892.6 1720v-6" stroke="#222" stroke-width="1.2"/><path d="M1910.1 1720v-6" stroke="#222" stroke-width="1.2"/><text x="1910.1" y="1739.8" font-size="22.2" text-anchor="middle">17</text><path d="M1927.6 1720v-6" stroke="#222" stroke-width="1.2"/><path d="M1945.1 1720v-6" stroke="#222" stroke-width="1.2"/><text x="1945.1" y="1739.8" font-size="22.2" text-anchor="middle">19</text><path d="M1962.6 1720v-6" stroke="#222" stroke-width="1.2"/><path d="M1980.2 1720v-6" stroke="#222" stroke-width="1.2"/><text x="1980.2" y="1739.8" font-size="22.2" text-anchor="middle">21</text><path d="M1997.7 1720v-6" stroke="#222" stroke-width="1.2"/><path d="M2015.2 1720v-6" stroke="#222" stroke-width="1.2"/><text x="2015.2" y="1739.8" font-size="22.2" text-anchor="middle">23</text><path d="M2032.7 1720v-6" stroke="#222" stroke-width="1.2"/><path d="M2050.2 1720v-6" stroke="#222" stroke-width="1.2"/><text x="2050.2" y="1739.8" font-size="22.2" text-anchor="middle">25</text><path d="M2067.7 1720v-6" stroke="#222" stroke-width="1.2"/><path d="M2085.2 1720v-6" stroke="#222" stroke-width="1.2"/><text x="2085.2" y="1739.8" font-size="22.2" text-anchor="middle">27</text><path d="M2102.8 1720v-6" stroke="#222" stroke-width="1.2"/><path d="M2120.3 1720v-6" stroke="#222" stroke-width="1.2"/><text x="2120.3" y="1739.8" font-size="22.2" text-anchor="middle">29</text><path d="M2137.8 1720v-6" stroke="#222" stroke-width="1.2"/><path d="M2155.3 1720v-6" stroke="#222" stroke-width="1.2"/><text x="2155.3" y="1739.8" font-size="22.2" text-anchor="middle">31</text><rect x="1640.9" y="1687.4" width="13" height="20.6" fill="#c0c0c0"/><rect x="1658.4" y="1661.6" width="13" height="46.4" fill="#c0c0c0"/><rect x="1675.9" y="1638.2" width="13" height="69.8" fill="#c0c0c0"/><rect x="1693.5" y="1621.6" width="13" height="86.4" fill="#c0c0c0"/><rect x="1711.0" y="1609.3" width="13" height="98.7" fill="#c0c0c0"/><rect x="1728.5" y="1602.5" width="13" height="105.5" fill="#c0c0c0"/><rect x="1746.0" y="1596.6" width="13" height="111.4" fill="#c0c0c0"/><rect x="1763.5" y="1591.5" width="13" height="116.5" fill="#c0c0c0"/><rect x="1781.0" y="1585.1" width="13" height="122.9" fill="#c0c0c0"/><rect x="1798.5" y="1579.2" width="13" height="128.8" fill="#c0c0c0"/><rect x="1816.0" y="1574.0" width="13" height="134.0" fill="#c0c0c0"/><rect x="1833.6" y="1569.3" width="13" height="138.7" fill="#c0c0c0"/><rect x="1851.1" y="1564.5" width="13" height="143.5" fill="#c0c0c0"/><rect x="1868.6" y="1560.6" width="13" height="147.4" fill="#c0c0c0"/><rect x="1886.1" y="1556.6" width="13" height="151.4" fill="#c0c0c0"/><rect x="1903.6" y="1551.8" width="13" height="156.2" fill="#c0c0c0"/><rect x="1921.1" y="1547.9" width="13" height="160.1" fill="#c0c0c0"/><rect x="1938.6" y="1543.9" width="13" height="164.1" fill="#c0c0c0"/><rect x="1956.1" y="1537.1" width="13" height="170.9" fill="#c0c0c0"/><rect x="1973.7" y="1530.0" width="13" height="178.0" fill="#c0c0c0"/><rect x="1991.2" y="1524.8" width="13" height="183.2" fill="#c0c0c0"/><rect x="2008.7" y="1520.1" width="13" height="187.9" fill="#c0c0c0"/><rect x="2026.2" y="1514.9" width="13" height="193.1" fill="#c0c0c0"/><rect x="2043.7" y="1509.0" width="13" height="199.0" fill="#c0c0c0"/><rect x="2061.2" y="1497.9" width="13" height="210.1" fill="#c0c0c0"/><rect x="2078.7" y="1487.2" width="13" height="220.8" fill="#c0c0c0"/><rect x="2096.3" y="1479.7" width="13" height="228.3" fill="#c0c0c0"/><rect x="2113.8" y="1474.9" width="13" height="233.1" fill="#c0c0c0"/><rect x="2131.3" y="1471.7" width="13" height="236.3" fill="#c0c0c0"/><rect x="2148.8" y="1471.0" width="13" height="237.0" fill="#c0c0c0"/><text x="1907.5" y="1769.0" font-size="22.2" text-anchor="middle" textLength="129.0" lengthAdjust="spacingAndGlyphs">PAE score (Å)</text><text x="1539.5" y="1586.0" font-size="22.2" text-anchor="middle" textLength="190.0" lengthAdjust="spacingAndGlyphs" transform="rotate(-90 1539.5 1586.0)">Number of contacts</text><path d="M1724.3 1124.0L1724.30 1048.90A75.1 75.1 0 0 1 1779.05 1072.59Z" fill="#8b4a8c" stroke="#fff" stroke-width="3" stroke-linejoin="round"/><path d="M1724.3 1124.0L1779.05 1072.59A75.1 75.1 0 1 1 1656.35 1155.98Z" fill="#bf80c8" stroke="#fff" stroke-width="3" stroke-linejoin="round"/><path d="M1724.3 1124.0L1656.35 1155.98A75.1 75.1 0 0 1 1724.30 1048.90Z" fill="#ecbcd8" stroke="#fff" stroke-width="3" stroke-linejoin="round"/><path d="M1888.9 1124.0L1888.90 1048.90A75.1 75.1 0 0 1 1916.55 1054.17Z" fill="#8b4a8c" stroke="#fff" stroke-width="3" stroke-linejoin="round"/><path d="M1888.9 1124.0L1916.55 1054.17A75.1 75.1 0 1 1 1823.09 1160.18Z" fill="#bf80c8" stroke="#fff" stroke-width="3" stroke-linejoin="round"/><path d="M1888.9 1124.0L1823.09 1160.18A75.1 75.1 0 0 1 1888.90 1048.90Z" fill="#ecbcd8" stroke="#fff" stroke-width="3" stroke-linejoin="round"/><path d="M2053.5 1124.0L2053.50 1048.90A75.1 75.1 0 0 1 2058.22 1049.05Z" fill="#8b4a8c" stroke="#fff" stroke-width="3" stroke-linejoin="round"/><path d="M2053.5 1124.0L2058.22 1049.05A75.1 75.1 0 1 1 1980.76 1142.68Z" fill="#bf80c8" stroke="#fff" stroke-width="3" stroke-linejoin="round"/><path d="M2053.5 1124.0L1980.76 1142.68A75.1 75.1 0 0 1 2053.50 1048.90Z" fill="#ecbcd8" stroke="#fff" stroke-width="3" stroke-linejoin="round"/><text x="1749.8" y="1077.0" font-size="20.5" text-anchor="middle">13%</text><text x="1701.4" y="1114.5" font-size="20.5" text-anchor="middle">32%</text><text x="1745.6" y="1138.5" font-size="20.5" text-anchor="middle">55%</text><text x="1902.6" y="1044.5" font-size="20.5" text-anchor="middle">6%</text><text x="1864.4" y="1114.5" font-size="20.5" text-anchor="middle">33%</text><text x="1915.0" y="1138.5" font-size="20.5" text-anchor="middle">61%</text><text x="2064.0" y="1047.5" font-size="20.5" text-anchor="middle">1%</text><text x="2027.0" y="1114.5" font-size="20.5" text-anchor="middle">29%</text><text x="2074.4" y="1141.5" font-size="20.5" text-anchor="middle">70%</text><text x="1727.6" y="1220.5" font-size="20.5" text-anchor="middle">At PAE ≤ 9 Å</text><text x="1893.5" y="1220.5" font-size="20.5" text-anchor="middle">At PAE ≤ 21 Å</text><text x="2054.0" y="1220.5" font-size="20.5" text-anchor="middle">At PAE ≤ 30 Å</text><text x="1646.8" y="1258.0" font-size="20.5">Effector interface similarity</text><rect x="1646.8" y="1267.8" width="19.6" height="21.5" fill="#ecbcd8"/><text x="1672.6" y="1285.8" font-size="20.5">Distinct (JI ≤ 0.1)</text><rect x="1646.8" y="1292.3" width="19.6" height="21.5" fill="#bf80c8"/><text x="1672.6" y="1310.3" font-size="20.5">Overlapping (JI &lt; 0.1 &lt; 0.6)</text><rect x="1646.8" y="1316.8" width="19.6" height="21.5" fill="#8b4a8c"/><text x="1672.6" y="1334.8" font-size="20.5">Same (JI ≥ 0.6)</text><path d="M1717.3 1888.5L1717.30 1817.00A71.5 71.5 0 0 1 1788.66 1892.99Z" fill="#4aa3c4" stroke="#fff" stroke-width="3" stroke-linejoin="round"/><path d="M1717.3 1888.5L1788.66 1892.99A71.5 71.5 0 0 1 1686.86 1953.20Z" fill="#5ccbec" stroke="#fff" stroke-width="3" stroke-linejoin="round"/><path d="M1717.3 1888.5L1686.86 1953.20A71.5 71.5 0 0 1 1717.30 1817.00Z" fill="#b3e3f5" stroke="#fff" stroke-width="3" stroke-linejoin="round"/><path d="M1873.2 1888.5L1873.20 1817.00A71.5 71.5 0 0 1 1928.29 1842.92Z" fill="#4aa3c4" stroke="#fff" stroke-width="3" stroke-linejoin="round"/><path d="M1873.2 1888.5L1928.29 1842.92A71.5 71.5 0 0 1 1842.76 1953.20Z" fill="#5ccbec" stroke="#fff" stroke-width="3" stroke-linejoin="round"/><path d="M1873.2 1888.5L1842.76 1953.20A71.5 71.5 0 0 1 1873.20 1817.00Z" fill="#b3e3f5" stroke="#fff" stroke-width="3" stroke-linejoin="round"/><path d="M2029.7 1888.5L2029.70 1817.00A71.5 71.5 0 0 1 2084.79 1842.92Z" fill="#4aa3c4" stroke="#fff" stroke-width="3" stroke-linejoin="round"/><path d="M2029.7 1888.5L2084.79 1842.92A71.5 71.5 0 0 1 1974.61 1934.08Z" fill="#5ccbec" stroke="#fff" stroke-width="3" stroke-linejoin="round"/><path d="M2029.7 1888.5L1974.61 1934.08A71.5 71.5 0 0 1 2029.70 1817.00Z" fill="#b3e3f5" stroke="#fff" stroke-width="3" stroke-linejoin="round"/><text x="1751.0" y="1866.0" font-size="20.5" text-anchor="middle">26%</text><text x="1681.8" y="1888.9" font-size="20.5" text-anchor="middle">43%</text><text x="1741.3" y="1924.3" font-size="20.5" text-anchor="middle">31%</text><text x="1898.4" y="1847.0" font-size="20.5" text-anchor="middle">14%</text><text x="1842.8" y="1888.9" font-size="20.5" text-anchor="middle">43%</text><text x="1905.0" y="1911.8" font-size="20.5" text-anchor="middle">43%</text><text x="2054.0" y="1853.9" font-size="20.5" text-anchor="middle">14%</text><text x="1998.2" y="1880.1" font-size="20.5" text-anchor="middle">36%</text><text x="2055.4" y="1917.7" font-size="20.5" text-anchor="middle">50%</text><text x="1718.4" y="1988.7" font-size="20.5" text-anchor="middle">At PAE ≤ 9 Å</text><text x="1876.5" y="1988.7" font-size="20.5" text-anchor="middle">At PAE ≤ 21 Å</text><text x="2031.2" y="1988.7" font-size="20.5" text-anchor="middle">At PAE ≤ 30 Å</text><text x="1647.4" y="2033.5" font-size="20.5">Human interface similarity</text><rect x="1647.4" y="2045.7" width="19" height="20.5" fill="#b3e3f5"/><text x="1672.6" y="2063.2" font-size="20.5">Distinct (JI ≤ 0.1)</text><rect x="1647.4" y="2069.9" width="19" height="20.5" fill="#5ccbec"/><text x="1672.6" y="2087.4" font-size="20.5">Overlapping (JI &lt; 0.1 &lt; 0.6)</text><rect x="1647.4" y="2094.1" width="19" height="20.5" fill="#4aa3c4"/><text x="1672.6" y="2111.6" font-size="20.5">Same (JI ≥ 0.6)</text><text x="10.8" y="2192.2" font-size="33.5" font-weight="bold">e</text><path d="M507.1 2196V2650.5H930" fill="none" stroke="#222" stroke-width="1.6"/><rect x="526.5" y="2202.5" width="385.0" height="39.8" fill="#999999"/><path d="M507.1 2222.4h7" stroke="#222" stroke-width="1.4"/><text x="493.0" y="2230.0" font-size="22" text-anchor="end">regulation of glycoprotein biosynthetic process</text><rect x="526.5" y="2247.1" width="320.2" height="39.8" fill="#999999"/><path d="M507.1 2267.0h7" stroke="#222" stroke-width="1.4"/><text x="493.0" y="2274.6" font-size="22" text-anchor="end">regulation of glycoprotein metabolic process</text><rect x="526.5" y="2291.6" width="262.0" height="39.8" fill="#999999"/><path d="M507.1 2311.5h7" stroke="#222" stroke-width="1.4"/><text x="493.0" y="2319.1" font-size="22" text-anchor="end">regulation of receptor internalization</text><rect x="526.5" y="2336.2" width="184.5" height="39.8" fill="#999999"/><path d="M507.1 2356.1h7" stroke="#222" stroke-width="1.4"/><text x="493.0" y="2363.7" font-size="22" text-anchor="end">intermediate filament organization</text><rect x="526.5" y="2380.7" width="171.5" height="39.8" fill="#999999"/><path d="M507.1 2400.6h7" stroke="#222" stroke-width="1.4"/><text x="493.0" y="2408.2" font-size="22" text-anchor="end">intermediate filament cytoskeleton organization</text><rect x="526.5" y="2425.2" width="171.5" height="39.8" fill="#999999"/><path d="M507.1 2445.2h7" stroke="#222" stroke-width="1.4"/><text x="493.0" y="2452.8" font-size="22" text-anchor="end">intermediate filament-based process</text><rect x="526.5" y="2469.8" width="113.8" height="39.8" fill="#999999"/><path d="M507.1 2489.7h7" stroke="#222" stroke-width="1.4"/><text x="493.0" y="2497.3" font-size="22" text-anchor="end">regulation of viral process</text><rect x="526.5" y="2514.3" width="97.3" height="39.8" fill="#999999"/><path d="M507.1 2534.2h7" stroke="#222" stroke-width="1.4"/><text x="493.0" y="2541.8" font-size="22" text-anchor="end">regulation of I-kappaB kinase/NF-kappaB signaling</text><rect x="526.5" y="2558.9" width="91.3" height="39.8" fill="#999999"/><path d="M507.1 2578.8h7" stroke="#222" stroke-width="1.4"/><text x="493.0" y="2586.4" font-size="22" text-anchor="end">I-kappaB kinase/NF-kappaB signaling</text><rect x="526.5" y="2603.4" width="48.2" height="39.8" fill="#999999"/><path d="M507.1 2623.3h7" stroke="#222" stroke-width="1.4"/><text x="493.0" y="2630.9" font-size="22" text-anchor="end">cytoskeleton organization</text><path d="M526.5 2650.5v-7" stroke="#222" stroke-width="1.4"/><text x="526.5" y="2671.2" font-size="22" text-anchor="middle">0</text><path d="M661.6 2650.5v-7" stroke="#222" stroke-width="1.4"/><text x="661.6" y="2671.2" font-size="22" text-anchor="middle">10</text><path d="M796.7 2650.5v-7" stroke="#222" stroke-width="1.4"/><text x="796.7" y="2671.2" font-size="22" text-anchor="middle">20</text><text x="719.0" y="2698.0" font-size="21.5" text-anchor="middle" textLength="96.5" lengthAdjust="spacingAndGlyphs">odds ratio</text></svg></body></html>
